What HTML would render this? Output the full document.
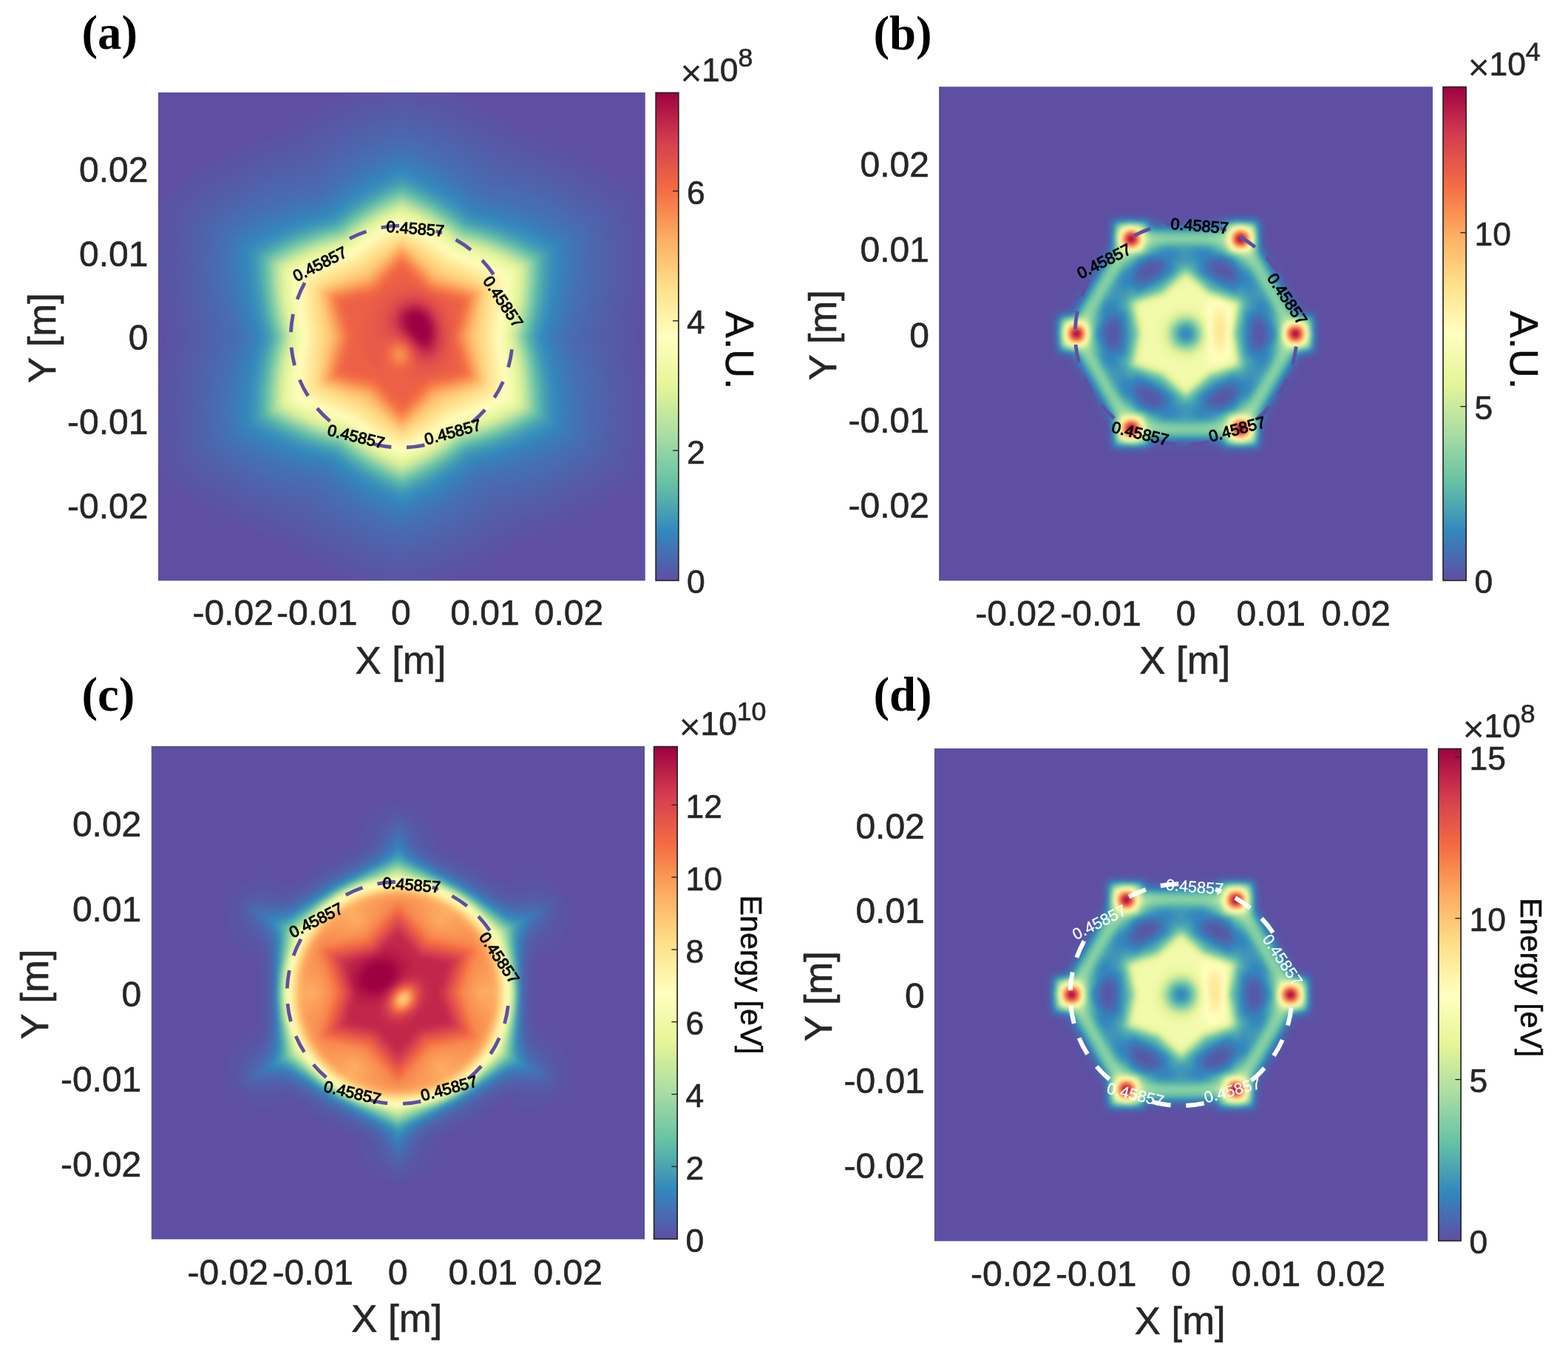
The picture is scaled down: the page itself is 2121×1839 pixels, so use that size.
<!DOCTYPE html>
<html lang="en"><head><meta charset="utf-8"><title>Figure</title>
<style>html,body{margin:0;padding:0;background:#fff}body{width:2121px;height:1839px;overflow:hidden}svg{display:block}</style>
</head><body>
<svg width="2121" height="1839" viewBox="0 0 2121 1839" role="img" aria-label="Four heat-map panels (a)-(d)">
<defs>
<filter id="cma" x="0" y="0" width="100%" height="100%" color-interpolation-filters="sRGB"><feGaussianBlur stdDeviation="4"/></filter>
<filter id="cmb" x="0" y="0" width="100%" height="100%" color-interpolation-filters="sRGB"><feGaussianBlur stdDeviation="2"/></filter>
<filter id="cmc" x="0" y="0" width="100%" height="100%" color-interpolation-filters="sRGB"><feGaussianBlur stdDeviation="3"/></filter>
<filter id="cmd" x="0" y="0" width="100%" height="100%" color-interpolation-filters="sRGB"><feGaussianBlur stdDeviation="2"/></filter>
<linearGradient id="cbg" x1="0" y1="0" x2="0" y2="1"><stop offset="0" stop-color="#9e0142"/><stop offset="0.1" stop-color="#d53e4f"/><stop offset="0.2" stop-color="#f46d43"/><stop offset="0.3" stop-color="#fdae61"/><stop offset="0.4" stop-color="#fee08b"/><stop offset="0.5" stop-color="#ffffbf"/><stop offset="0.6" stop-color="#e6f598"/><stop offset="0.7" stop-color="#abdda4"/><stop offset="0.8" stop-color="#66c2a5"/><stop offset="0.9" stop-color="#3288bd"/><stop offset="1" stop-color="#5e4fa2"/></linearGradient>
<clipPath id="cpa"><rect x="214.0" y="125.0" width="658.8" height="660.3"/></clipPath>
<clipPath id="cpb"><rect x="1270.5" y="117.2" width="667.5" height="668.1"/></clipPath>
<clipPath id="cpc"><rect x="204.8" y="1009.2" width="667.0" height="666.6"/></clipPath>
<clipPath id="cpd"><rect x="1264.3" y="1012.1" width="666.8" height="666.1"/></clipPath>
</defs>
<rect width="2121" height="1839" fill="#fff"/>
<g clip-path="url(#cpa)"><g filter="url(#cma)">
<rect x="202.0" y="113.0" width="682.8" height="684.3" fill="#5e4fa2"/>
<g transform="translate(214.0 125.0)"><path fill="#5b53a4" d="M383 663l-108 0 0-2-36-15-36-20-32-21-34-11-36-16-30-16-32-20-32-25-6-40-2 0 0-81 2 0 5-35 6-30-7-34-4-32-2 0 0-82 2 0 3-24 3-16 36-27 38-24 42-20 22-8 26-8 22-16 20-12 28-14 30-13 0-2 117 0 0 2 31 13 26 14 20 12 22 15 28 9 24 9 24 12 22 11 28 18 28 20 10 9 3 8 5 49 2 0 0 49-2 0-4 40-8 42 7 38 5 42 2 0 0 50-2 0-3 32-4 24-35 27-40 24-42 20-48 17-22 15-22 14-28 14-31 13z"/>
<path fill="#5856a5" d="M331 663l-5 0 0-2-41-12-40-16-33-18-33-22-36-12-28-12-31-16-31-20-32-25-5-33-2-36 0-28 3-28 4-28 5-24-9-48-3-42 1-46 6-43 16-13 22-16 22-14 22-12 35-16 39-13 38-25 35-18 35-14 34-10 0-2 21 0 0 2 33 10 31 12 39 20 38 25 34 11 29 12 30 16 29 18 24 18 11 10 5 34 2 34 0 26-2 28-4 25-6 31 8 44 4 46-2 48-3 26-3 14-20 16-20 14-22 14-22 12-37 16-35 11-37 25-39 20-37 14-35 10 0 2z"/>
<path fill="#565aa7" d="M331 647l-14-3-24-7-42-16-34-18-32-21-34-12-30-13-30-16-30-19-24-19-3-4-5-36-2-34 1-26 2-24 4-24 5-24-8-44-4-42 2-46 3-26 3-14 38-29 20-12 22-12 32-14 38-13 36-24 38-19 36-14 34-9 40 11 40 16 34 18 31 21 33 11 32 13 30 17 30 19 22 17 4 5 5 36 2 36-1 24-2 24-10 50 9 42 3 42-1 44-2 24-4 18-19 15-20 15-22 13-20 11-34 15-34 11-38 25-38 19-34 13z"/>
<path fill="#535da9" d="M331 635l-10-1-26-8-40-15-33-18-31-22-30-8-30-13-30-16-30-19-22-17-4-5-5-34-2-34 1-26 3-26 4-22 5-20-8-38-4-44 1-46 3-28 2-8 1-2 19-15 20-14 40-23 34-15 32-9 35-24 37-19 32-12 34-9 38 10 38 15 32 17 32 22 30 9 30 13 30 16 30 19 20 16 5 5 5 34 1 34 0 26-3 24-3 20-6 26 8 36 4 44-1 46-3 26-3 12-18 14-20 14-40 24-34 14-32 10-36 24-36 19-32 12z"/>
<path fill="#5061aa" d="M329 625l-38-11-34-14-30-17-30-22-36-9-32-14-38-22-36-27-3-18-3-24 0-24 0-22 5-36 4-18 5-16-7-24-4-20-3-22-1-24 2-34 5-34 0-2 22-17 30-20 32-17 28-10 30-7 30-23 34-19 32-13 36-10 34 9 34 14 34 19 32 23 30 7 28 11 30 16 30 19 22 18 1 2 5 34 1 34-1 24-2 22-4 20-7 24 5 17 4 17 3 18 2 20-1 44-2 24-3 18-18 14-19 14-38 22-32 13-34 8-36 26-19 11-19 9-30 11z"/>
<path fill="#4e64ac" d="M331 615l-8-1-20-6-30-11-18-10-18-10-18-13-16-14-30-6-28-9-28-14-28-18-25-20-4-30-2-32 1-24 3-22 6-22 8-22-12-38-5-34-1-20 1-20 5-42 33-25 32-19 18-8 18-7 18-4 20-4 28-22 30-18 32-14 36-11 30 8 28 11 17 9 17 10 36 28 30 6 28 9 26 13 28 18 26 20 4 32 2 30-1 24-3 22-5 20-9 26 7 18 5 16 3 18 2 18 1 20-1 20-5 42-32 25-34 20-18 8-18 6-18 5-18 3-30 23-30 18-32 14z"/>
<path fill="#4b68ae" d="M333 606l-4 0-24-7-18-7-18-8-30-19-30-24-32-6-26-8-24-11-26-15-28-22-5-26-1-28 1-24 4-24 6-22 9-24-13-40-6-34-1-18 0-20 3-24 3-14 30-23 28-16 18-8 18-6 42-8 27-23 29-18 32-15 32-10 32 9 32 15 28 18 30 24 30 6 26 7 26 12 26 15 20 15 7 6 1 2 3 26 2 26-1 24-3 22-6 22-10 28 7 18 6 18 6 34 1 18-1 20-2 22-3 18-29 22-28 17-18 8-20 6-18 4-22 4-28 23-28 18-30 14z"/>
<path fill="#486cb0" d="M333 597l-4 1-20-6-18-7-18-9-30-19-30-25-32-6-26-7-24-10-24-14-20-15-8-7-3-22-1-22 1-24 4-24 7-24 9-26-13-40-7-34-1-18 1-20 2-24 2-8 1-2 30-22 16-9 16-8 32-10 38-7 28-24 28-19 30-14 30-10 30 10 30 14 28 18 28 24 34 6 26 8 24 10 24 14 18 13 8 8 3 22 2 22-1 24-4 24-6 22-11 30 14 38 6 34 2 18-1 20-2 22-3 12-31 23-30 16-32 10-40 8-26 22-28 19-28 14z"/>
<path fill="#456fb1" d="M329 591l-30-10-28-15-26-17-28-24-30-5-28-8-26-11-24-14-22-16-3-18-1-24 1-24 4-24 7-24 9-26-14-42-6-32-1-34 1-20 3-13 28-21 30-15 34-11 38-8 28-23 26-18 28-14 30-11 28 10 28 14 28 18 28 24 42 8 30 10 30 16 28 20 2 2 1 8 2 22 0 18-1 18-7 32-14 42 10 26 7 24 4 24 1 24-1 24-3 18-23 17-24 14-24 9-26 8-33 6-29 24-28 19-28 14z"/>
<path fill="#4273b3" d="M335 583l-6 2-8-3-20-8-18-9-30-19-32-26-34-7-24-7-22-9-22-11-26-19-3-16-1-18 1-24 4-24 6-24 11-30-14-42-6-32-2-32 1-18 3-14 26-19 30-15 30-9 41-9 29-24 26-17 26-14 28-10 26 9 28 14 26 18 30 24 32 6 26 8 24 9 22 12 23 17 2 14 2 20-2 24-3 24-7 24-10 32 13 38 7 34 1 32-3 32-27 19-28 14-34 11-38 8-28 23-24 17-26 14z"/>
<path fill="#4076b5" d="M335 577l-6 2-6-2-18-7-20-10-30-20-32-26-32-6-26-8-22-8-20-11-16-10-9-8-3-28 1-24 4-24 7-26 10-30-13-42-6-30-3-32 3-30 23-17 30-15 32-10 40-9 28-23 26-18 26-13 26-10 26 9 26 14 28 19 26 21 36 8 24 8 24 9 22 12 20 15 2 30-1 22-3 24-6 22-11 36 12 36 7 34 2 32-2 30-8 7-16 11-28 14-32 10-42 10-26 21-26 18-24 13z"/>
<path fill="#3d7ab6" d="M329 573l-24-9-26-14-26-18-28-22-34-8-26-8-24-10-20-10-18-13-2-28 1-22 4-24 6-26 9-30-12-42-6-32-2-30 1-18 1-10 26-17 26-12 30-10 40-10 28-22 26-18 26-13 24-10 24 9 26 14 26 17 28 23 40 9 32 11 26 13 24 16 3 26-2 32-6 32-13 42 9 28 7 28 4 24 1 22-2 28-19 13-22 12-22 9-26 7-34 8-26 21-28 19-26 14z"/>
<path fill="#3a7db8" d="M333 567l-4 1-10-3-34-17-28-18-30-24-28-6-26-8-24-9-20-10-21-14-1-4-1-20 1-22 3-24 6-26 10-32-12-42-6-30-2-28 1-28 6-5 16-10 28-14 32-11 38-9 28-22 24-16 26-14 24-10 24 9 26 15 26 17 26 21 34 8 26 8 22 9 20 11 18 12 2 23-1 22-3 24-6 26-10 34 11 38 7 32 2 30-2 27-22 15-28 13-30 11-40 9-24 20-26 17-26 15z"/>
<path fill="#3881ba" d="M331 563l-2 1-18-7-28-15-26-17-28-22-28-7-26-8-24-9-20-11-14-8-5-5-2-20 1-22 4-24 6-30 9-28-12-42-5-30-3-28 2-26 19-13 28-14 34-12 36-9 28-21 24-16 24-13 24-11 24 10 26 15 26 17 24 19 30 8 30 9 24 10 18 10 16 11 1 22-1 22-3 24-6 26-9 32 10 36 7 34 2 28-1 26-22 15-26 12-34 12-36 9-24 19-26 18-26 14z"/>
<path fill="#3584bb" d="M331 559l-2 1-14-6-30-15-28-19-26-20-26-6-30-10-24-10-18-9-18-12-1-18 1-22 4-24 6-32 8-26-10-36-6-34-3-28 1-26 22-14 28-13 34-12 32-8 24-19 26-17 26-14 22-10 22 10 26 14 28 18 22 18 26 6 30 10 24 10 20 10 16 11 1 20-1 22-3 24-6 28-8 30 9 34 7 34 2 28-1 26-20 14-28 13-34 12-34 8-22 18-24 16-24 14z"/>
<path fill="#3288bd" d="M331 556l-2 0-16-7-30-16-26-17-24-19-28-7-26-8-24-10-20-10-16-11-1-16 1-22 3-26 7-30 7-26-9-32-6-36-3-28 1-26 20-13 30-14 34-12 30-7 22-18 24-16 24-13 26-12 22 9 26 15 24 15 25 20 27 7 26 8 24 10 22 11 15 10 1 18-1 22-4 26-6 28-7 28 9 32 6 34 3 28-1 26-7 5-14 9-28 13-34 12-30 7-24 19-24 16-26 14z"/>
<path fill="#358cbc" d="M333 552l-4 1-6-3-36-18-26-16-27-21-25-6-22-7-24-10-22-10-18-11-1-2-1-14 1-24 4-28 6-28 7-24-9-34-6-32-3-28 1-26 19-12 28-13 32-12 34-9 22-18 22-14 26-15 24-11 24 11 26 14 24 16 22 18 26 6 24 8 26 10 20 10 16 11 1 14-1 24-4 24-5 28-8 30 8 28 6 34 3 30 0 26-4 4-16 9-26 12-34 13-32 8-22 17-20 14-26 14z"/>
<path fill="#388fba" d="M331 549l-2 1-14-6-30-16-24-15-26-21-24-5-22-7-28-12-20-10-16-10-1-15 2-26 4-28 5-24 7-24-9-34-5-28-4-32 1-24 20-13 30-14 30-11 30-7 22-17 22-15 26-15 24-10 22 9 26 14 24 16 22 18 26 6 24 8 24 10 22 11 13 8 2 2 1 14-2 24-3 28-5 24-8 28 9 30 6 34 2 32 0 20-1 2-22 13-28 12-28 10-32 9-22 17-20 14-26 14z"/>
<path fill="#3c93b8" d="M333 546l-4 1-2-1-38-19-28-17-24-19-24-6-20-7-26-10-20-10-19-11-1-12 1-26 4-28 5-24 7-26-9-32-5-32-3-32 0-20 1-2 23-13 30-14 26-9 30-7 22-18 22-14 24-14 24-11 20 9 26 14 22 14 26 20 22 5 22 7 24 10 24 12 15 9 1 2 1 10-1 24-4 28-5 26-7 28 8 28 5 30 3 32 0 26-22 13-30 13-26 10-32 8-20 16-22 15-22 12z"/>
<path fill="#3f96b7" d="M331 544l-2 0-14-6-30-16-22-14-25-19-25-7-20-6-24-10-24-12-15-9 0-12 0-22 4-30 6-28 6-22-8-30-5-26-3-34 0-26 23-13 30-14 28-10 26-6 24-19 20-13 22-12 26-12 22 10 26 14 22 14 22 18 24 6 20 6 24 10 24 11 16 10 0 12-1 26-3 28-5 22-7 28 7 26 6 30 3 30 0 28-22 13-30 14-30 10-26 6-20 16-20 14-24 14z"/>
<path fill="#429ab6" d="M331 542l-2 0-14-6-30-16-24-16-22-17-22-5-24-8-24-10-20-10-16-9-1-2 0-10 1-24 3-28 6-28 6-22-8-30-4-24-4-32 0-28 3-3 18-10 30-14 28-10 28-7 22-17 20-13 22-13 26-12 22 10 26 14 24 16 18 15 26 7 20 6 24 10 24 12 14 9 0 10-1 26-3 28-5 22-7 28 7 26 6 30 3 30 0 26-2 2-18 11-30 14-28 10-29 7-21 17-22 14-22 13z"/>
<path fill="#469eb4" d="M331 540l-2 0-14-6-30-16-22-14-24-19-22-5-24-8-24-10-20-10-15-9 0-10 1-26 3-28 4-22 8-26-8-30-6-30-2-32 0-22 23-13 30-14 24-8 28-7 22-17 20-13 22-13 26-12 22 10 26 14 24 16 18 15 22 5 24 8 20 8 24 12 16 9 0 10-1 24-2 26-5 26-8 28 7 26 6 28 3 30 0 28-26 15-28 12-24 8-28 8-20 16-22 14-22 13z"/>
<path fill="#49a1b2" d="M331 538l-2 0-14-6-28-14-24-16-22-17-24-7-20-6-20-8-24-12-16-9-2-2 0-8 1-26 3-28 5-24 7-24-7-28-5-28-3-30-1-26 18-11 30-14 26-10 32-8 20-16 20-14 22-12 26-12 22 9 24 14 20 13 24 18 24 6 22 7 20 9 24 12 14 8 1 11-2 26-2 24-5 22-8 30 8 28 5 26 3 32 0 25-20 12-30 14-28 10-26 6-20 16-22 15-24 13z"/>
<path fill="#4ca5b1" d="M333 535l-4 2-2-1-36-18-26-16-24-19-20-5-20-6-20-8-22-10-22-13 0-8 1-26 3-26 5-26 7-24-9-32-4-24-3-30 0-26 22-13 28-12 28-10 26-7 20-16 20-13 24-14 24-10 20 8 26 14 22 15 20 16 26 7 20 6 20 8 20 10 19 11 0 8-1 24-3 28-4 24-8 28 8 26 5 26 3 32 0 26-23 13-26 12-26 10-30 7-18 15-20 14-22 12z"/>
<path fill="#4fa9b0" d="M329 535l-24-11-22-12-18-12-24-18-22-6-20-6-20-8-24-12-16-9-1-10 1-28 3-24 5-26 7-22-8-30-5-26-3-34 1-21 24-14 26-12 24-8 28-7 22-17 20-14 22-12 24-11 22 10 24 13 22 14 20 16 30 8 26 9 30 15 16 9 2 2-1 26-2 28-6 28-7 28 7 24 5 24 3 26 1 26-1 10-15 9-22 10-22 10-20 6-24 6-20 16-22 15-24 13z"/>
<path fill="#52acae" d="M331 533l-2 1-12-5-28-15-22-14-25-19-25-6-20-7-20-8-20-10-16-9-1-2-1-8 1-26 3-26 5-24 7-24-7-28-6-28-2-28 0-26 21-13 28-13 26-9 28-7 18-14 22-15 22-13 24-11 22 10 22 12 22 14 22 18 20 4 24 8 20 8 20 10 18 11 0 8-1 26-2 24-4 22-8 30 7 24 5 28 3 28 0 28-22 13-26 12-28 10-26 7-22 17-18 12-22 12z"/>
<path fill="#56b0ac" d="M333 531l-4 2-38-19-24-15-24-19-22-5-20-7-20-8-20-10-20-11 0-8 1-26 3-26 5-26 6-22-8-30-4-26-3-30 0-24 24-13 26-12 24-9 28-7 20-16 22-14 22-12 22-10 22 9 24 14 20 13 20 16 44 13 22 9 20 9 16 10 1 8-1 26-3 26-4 22-8 28 8 26 5 26 3 30 0 26-23 13-26 12-24 8-30 8-20 16-18 13-20 11z"/>
<path fill="#59b4ab" d="M329 531l-24-11-22-12-20-14-20-15-22-6-22-7-24-10-20-10-12-7-1-2 0-8 1-26 3-26 4-22 7-24-7-28-5-24-3-28 0-28 2-2 15-9 30-14 28-10 26-6 20-16 20-14 22-12 24-11 22 10 24 13 20 13 20 16 28 7 26 10 30 14 16 9 2 2-1 28-2 26-5 24-8 30 7 24 5 24 3 24 1 26 0 8-1 2-15 8-22 11-20 9-22 7-22 5-18 15-22 14-24 14z"/>
<path fill="#5cb7aa" d="M331 530l-2 0-14-6-26-14-22-14-24-18-22-6-20-6-20-8-20-10-18-11 0-8 1-26 3-24 5-26 6-22-8-30-4-24-2-26-1-28 22-13 26-12 24-8 28-7 22-17 20-14 22-12 22-10 22 10 22 12 22 15 20 15 22 6 20 6 24 10 20 10 14 8 1 9-1 26-3 24-4 22-8 28 8 26 4 24 3 28 1 28-21 12-28 13-26 9-26 7-20 16-18 12-22 12z"/>
<path fill="#60bba8" d="M333 527l-4 2-36-18-24-15-24-19-40-11-38-16-22-13-1-6 1-26 3-26 5-24 6-24-7-28-5-26-3-30 1-24 24-14 24-10 24-9 28-7 18-15 22-14 22-13 22-10 24 11 22 12 20 14 19 15 33 9 32 12 35 19 1 6-1 26-3 24-4 24-8 28 7 24 6 28 2 28 0 26-23 13-26 12-24 8-26 7-22 17-18 12-22 12z"/>
<path fill="#63bea6" d="M331 527l-2 1-12-6-28-14-22-14-22-18-20-4-22-8-38-16-19-11-1-2 0-6 1-26 3-24 4-24 7-24-8-30-4-24-2-26-1-26 2-2 16-9 28-14 28-9 26-7 20-16 18-12 22-12 24-11 22 9 22 12 20 14 20 15 24 7 20 6 38 17 17 10 1 2 1 6-1 26-3 24-4 22-8 28 8 26 5 26 2 30 0 23-20 12-26 12-26 9-28 8-20 16-20 13-22 12z"/>
<path fill="#66c2a5" d="M333 525l-4 2-34-17-26-16-24-19-20-4-20-7-36-15-22-13-1-7 1-26 3-24 4-22 7-26-7-28-5-24-2-28-1-26 23-13 26-12 24-9 26-6 20-16 20-13 22-12 22-10 22 9 22 12 22 15 18 15 20 5 20 6 20 8 20 9 18 11 1 1 1 6-1 26-3 26-5 22-7 26 7 24 5 26 3 26 0 28-19 12-28 13-24 8-28 8-18 14-18 12-20 12z"/>
<path fill="#6fc5a5" d="M333 524l-4 1-2-1-34-16-24-16-22-17-38-11-38-16-22-12-1-3 0-4 0-26 4-28 4-22 7-22-9-32-4-24-2-28 0-22 23-13 22-10 22-8 32-9 20-16 20-13 22-12 20-9 20 9 22 12 22 14 20 16 30 8 32 12 35 19 1 6-1 26-2 24-4 20-8 30 8 28 4 22 3 26 0 28-24 13-26 12-24 8-24 6-20 16-18 12-22 12z"/>
<path fill="#77c9a5" d="M329 523l-20-9-22-12-22-14-18-15-20-5-20-6-24-10-20-10-12-7-2-2 0-8 1-24 3-22 5-26 6-22-8-30-4-22-2-26-1-26 22-13 26-12 24-8 26-7 20-16 20-13 22-12 20-9 20 9 22 12 22 14 19 15 27 7 22 8 26 12 22 13 0 28-3 26-4 22-7 28 7 24 4 22 2 22 1 26 0 9-14 8-20 10-22 9-20 7-21 5-19 15-20 14-22 12z"/>
<path fill="#80cca5" d="M331 521l-2 1-14-6-26-14-20-13-22-17-22-6-18-5-20-9-18-8-18-11 0-8 1-24 2-24 5-22 7-24-8-28-4-24-3-26 0-26 24-13 22-10 26-9 24-6 22-18 18-11 20-11 22-10 22 9 22 12 20 14 18 14 22 6 20 6 20 8 20 10 15 9 0 8-1 24-3 26-4 20-7 26 7 24 5 28 3 26 0 24-19 11-26 12-26 9-26 7-20 16-18 12-22 12z"/>
<path fill="#88d0a4" d="M331 520l-2 0-10-4-28-14-22-15-21-16-39-11-20-8-20-10-16-9-1-2 0-6 1-24 3-26 4-22 7-22-8-28-4-26-3-30 0-18 1-1 20-12 26-12 22-8 28-7 18-15 18-12 22-12 22-10 20 9 22 12 20 13 20 16 20 4 18 6 20 8 20 10 16 9 2 2 0 6-1 24-3 24-3 20-8 28 7 26 5 26 3 30 0 18-1 2-23 13-24 10-22 8-26 7-20 15-18 12-20 12z"/>
<path fill="#91d3a4" d="M333 518l-4 1-34-17-24-15-22-17-38-11-36-15-20-11-1-2-1-6 1-24 3-24 5-24 6-22-8-28-4-24-2-26 0-24 21-13 24-11 24-8 26-7 18-14 20-13 20-12 22-10 20 9 22 12 18 12 22 17 20 5 18 5 18 8 20 9 18 11 0 6 0 24-3 24-4 22-7 26 7 24 4 24 3 26 0 26-18 11-26 12-26 10-24 6-20 15-18 12-20 11z"/>
<path fill="#9ad6a4" d="M331 517l-2 1-11-5-27-14-21-14-21-16-22-6-18-6-37-16-17-10 0-8 1-24 2-24 5-22 6-22-7-28-5-24-2-28 0-22 22-12 24-11 24-8 24-6 18-15 20-13 20-11 22-10 20 8 22 12 20 14 18 14 23 6 18 6 20 8 19 10 14 8 1 8-1 24-2 22-4 21-7 27 7 24 4 24 3 28 0 24-21 12-24 11-22 8-28 7-18 15-18 12-20 11z"/>
<path fill="#a2daa4" d="M331 516l-2 0-12-5-26-14-19-12-23-17-38-11-36-16-18-10-1-2 0-6 1-24 2-22 4-20 7-26-7-28-4-22-3-24 0-26 2-2 18-10 26-12 22-8 25-6 20-16 19-12 21-12 20-9 20 9 22 12 18 12 20 16 38 10 20 8 20 10 14 8 2 2 0 6-1 24-3 24-4 20-6 26 6 22 5 24 2 26 1 26-2 2-14 8-29 14-22 8-27 7-19 15-18 12-19 11z"/>
<path fill="#abdda4" d="M333 513l-4 2-33-16-25-16-20-16-36-10-20-8-17-8-19-11-2-1 0-6 1-26 3-24 4-19 7-23-8-30-4-20-2-26 0-24 20-12 27-12 18-6 28-8 18-14 18-12 21-12 21-9 18 7 22 12 18 12 22 17 21 5 19 6 35 16 17 10 0 6 0 22-3 24-3 19-8 29 8 26 4 22 2 24 0 26-20 12-26 12-24 8-22 5-19 15-17 12-18 10z"/>
<path fill="#b2e0a2" d="M329 513l-20-9-22-12-18-12-18-14-26-7-20-7-22-10-24-13 0-22 2-28 5-22 7-26-8-28-3-18-3-22 0-22 0-8 1-2 11-6 20-11 20-8 18-6 22-5 18-15 18-12 22-12 20-9 20 9 22 12 18 12 18 14 40 12 20 8 20 10 12 7 1 2 0 8-1 24-2 22-11 44 8 28 4 22 2 28-1 20-22 12-24 11-18 7-28 7-18 14-18 12-22 13z"/>
<path fill="#bae3a1" d="M331 511l-2 1-10-5-26-13-20-13-22-17-38-10-36-17-16-9-1-7 1-24 2-22 4-20 7-24-8-30-3-20-3-24 0-24 19-11 24-11 22-8 26-7 20-15 18-12 20-11 20-9 18 7 22 12 19 13 19 15 38 10 36 16 16 9 2 2 0 6-1 24-2 22-4 18-7 28 7 24 4 22 2 24 1 26-2 2-16 9-26 12-20 7-28 8-18 14-18 12-20 11z"/>
<path fill="#c1e6a0" d="M331 510l-2 0-12-5-26-14-20-13-18-14-40-12-34-15-17-10-1-8 1-24 3-22 4-19 6-23-7-30-4-20-2-26 0-22 21-12 22-10 18-6 30-9 18-14 18-12 20-11 20-9 20 9 20 11 18 11 20 16 40 11 36 17 14 8 0 8 0 22-3 22-10 46 7 26 3 20 3 26 0 24-21 12-23 10-20 7-26 7-18 14-18 12-20 12z"/>
<path fill="#c8e99e" d="M333 507l-4 2-32-16-23-14-21-17-38-10-29-13-22-12-1-2 0-4 1-24 2-22 4-20 7-24-8-30-3-18-3-24 0-24 16-10 26-12 22-8 26-7 18-14 18-12 19-11 21-9 18 7 22 12 18 12 18 14 34 10 25 10 30 16 2 2 0 4-1 24-2 22-11 46 7 26 4 22 3 28 0 18-1 2-22 12-22 10-46 14-16 13-16 11-18 10z"/>
<path fill="#d0ec9c" d="M329 507l-22-10-18-10-18-12-18-14-41-12-35-16-13-8 0-8 1-20 2-20 4-20 7-26-11-48-2-24 0-24 21-12 21-10 18-6 28-8 18-14 18-12 18-10 22-10 19 8 22 12 17 12 18 14 41 12 35 16 13 8 1 8-1 22-2 20-11 46 6 24 5 22 2 24 0 24-16 10-26 12-17 6-30 8-17 14-18 12-22 12z"/>
<path fill="#d7ef9b" d="M331 505l-2 1-11-5-23-12-22-14-18-15-44-13-30-14-14-8-1-8 1-22 2-20 10-44-8-34-3-18-2-28 0-14 1-2 18-10 21-10 17-6 32-9 16-13 18-12 17-10 23-10 19 8 19 10 18 12 20 16 42 12 31 14 14 8 1 2 0 6-1 20-2 20-11 48 8 29 4 21 2 28-1 16-17 10-22 10-23 8-25 7-19 15-15 10-18 10z"/>
<path fill="#dff29a" d="M331 503l-2 1-11-5-23-12-22-14-18-15-40-11-31-14-15-9-1-1-1-6 1-22 2-18 11-46-8-32-4-20-1-22 0-20 17-10 21-10 23-8 26-7 16-13 17-12 22-12 19-9 20 9 18 10 18 12 18 14 40 12 31 14 17 10 0 6-2 38-11 50 7 27 4 21 2 22 0 22-16 10-21 10-23 8-28 8-15 12-17 12-18 10z"/>
<path fill="#e6f598" d="M331 501l-2 1-11-5-23-12-19-12-20-16-41-12-15-6-16-8-14-8-1-8 3-36 3-18 8-30-12-52-1-20-1-20 2-2 10-6 25-12 22-8 28-8 18-14 18-12 18-10 19-9 20 9 18 10 18 12 18 14 40 12 15 6 16 8 14 8 1 2 0 6 0 20-2 17-11 49 7 27 4 23 2 26 0 14-1 2-21 12-18 8-46 14-18 14-14 10-18 10z"/>
<path fill="#e9f69d" d="M331 499l-2 1-11-5-23-12-18-12-20-16-41-12-27-12-17-10-1-6 1-20 2-16 11-48-12-54-1-20 0-18 17-10 17-8 23-8 28-8 16-13 16-11 18-10 22-10 19 8 19 10 16 11 20 15 39 12 28 12 17 10 0 6 0 20-2 16-11 50 7 27 4 23 2 18 0 22-17 10-17 8-52 17-16 13-18 12-18 10z"/>
<path fill="#ecf8a2" d="M329 497l-19-8-18-10-15-10-20-16-28-8-24-9-19-9-11-6-1-2 0-20 1-16 5-24 7-28-11-50-2-32 0-8 12-8 27-12 44-14 20-16 16-10 18-10 18-8 18 8 19 10 17 11 18 15 45 14 26 12 13 8 0 8-2 32-11 50 11 50 2 16 0 22-2 2-10 6-20 10-23 8-29 9-18 14-16 11-20 11z"/>
<path fill="#eff9a7" d="M333 494l-4 1-30-14-20-13-20-16-40-13-26-11-16-9-1-6 0-16 2-16 11-50-12-58-1-20 0-10 1-2 16-9 16-7 50-17 18-14 16-11 18-10 18-8 18 8 18 10 18 12 16 13 42 14 27 11 14 8 1 6-1 16-1 16-11 52 7 28 4 26 2 18-1 16-15 9-16 7-52 17-16 13-16 11-16 9z"/>
<path fill="#f2faac" d="M333 491l-4 1-30-14-18-11-22-17-40-13-28-12-12-7-1-7 1-14 2-18 10-48-11-56-2-18 1-14 14-8 16-8 50-16 18-15 16-10 18-10 18-8 18 7 18 10 16 11 18 14 42 14 28 12 11 7 1 6-3 30-10 52 11 52 1 18 0 16-13 8-16 7-52 18-18 14-14 10-18 10z"/>
<path fill="#f6fbb0" d="M331 490l-2 0-10-4-22-11-18-12-18-15-42-14-28-12-10-6-1-5 3-32 10-48-10-54-2-18-1-14 9-6 18-8 54-19 18-15 14-9 18-10 18-8 18 8 18 9 16 11 16 13 38 13 26 11 16 8 1 2 0 4-2 30-10 52 10 52 2 18 0 14-1 2-6 3-18 9-56 20-16 13-14 10-18 10z"/>
<path fill="#f9fcb5" d="M331 488l-2 0-10-4-22-11-16-11-20-16-56-20-20-10-2-1 0-2 2-32 10-50-11-58-1-18 0-10 30-14 48-17 20-16 14-9 16-9 18-8 16 7 18 9 16 11 18 15 32 10 30 12 17 9 0 4-3 32-9 50 10 54 2 18 0 12-11 6-18 8-50 18-16 13-16 11-16 9z"/>
<path fill="#fcfeba" d="M331 486l-2 0-8-3-22-11-18-12-18-15-50-18-20-9-8-5 3-34 8-48-9-52-2-32 10-6 19-8 49-18 16-13 16-11 16-9 18-8 16 7 18 10 14 9 19 15 59 22 18 9 1 3-3 32-8 50 8 48 3 34-9 6-19 8-49 18-34 25-16 8z"/>
<path fill="#ffffbf" d="M331 483l-2 1-8-3-22-12-16-10-20-16-54-20-20-10-2-2 4-36 7-44-8-48-3-34 2-2 21-10 53-20 32-24 16-9 18-8 16 7 16 9 16 10 18 14 54 21 20 9 3 3-3 34-8 48 8 52 2 22 0 8-31 14-45 17-17 13-15 10-16 9z"/>
<path fill="#fffbb8" d="M331 481l-2 1-7-3-21-11-17-11-19-15-54-21-20-9-1-3 3-36 7-42-8-52-2-24 0-6 31-14 44-17 16-13 16-11 16-9 16-7 16 7 15 8 15 10 20 15 52 21 22 10 0 2-3 34-7 46 7 44 3 36-35 16-39 15-32 23-16 9z"/>
<path fill="#fff7b2" d="M331 479l-2 1-6-3-20-10-18-11-20-16-44-17-29-14 3-36 7-42-7-48-3-32 35-16 38-15 19-15 15-10 15-8 15-6 15 6 15 8 16 10 18 14 53 22 19 9 1 1 1 2-4 36-6 42 6 42 3 36-28 14-45 18-30 22-14 8z"/>
<path fill="#fff3ac" d="M329 477l-15-6-15-8-14-10-18-14-44-18-28-14 4-40 5-36-6-40-3-38 29-14 43-18 16-13 16-10 14-8 16-7 14 6 16 8 15 10 19 15 38 15 33 16-3 38-6 40 5 36 4 40-28 14-43 18-34 24-16 9z"/>
<path fill="#fef0a5" d="M329 475l-14-6-15-8-33-24-38-16-29-14-2-2 3-40 5-34-5-36-3-40 31-16 38-16 32-23 16-9 14-6 14 6 15 8 15 10 18 14 39 16 31 16-3 38-5 38 5 34 3 40-2 2-29 14-39 16-18 14-15 10-15 8z"/>
<path fill="#feec9e" d="M333 471l-4 2-17-8-20-12-23-18-39-16-27-14-2-2 2-36 5-36-5-38-2-36 2-2 28-14 38-16 29-22 15-8 16-7 13 5 15 8 34 24 37 16 28 14 2 2-3 38-4 36 5 38 1 35-33 17-33 14-30 22z"/>
<path fill="#fee898" d="M331 470l-2 0-8-3-18-10-33-24-42-18-22-12-1-2 1-34 5-36-5-40-1-33 28-15 36-15 34-25 26-13 12 5 15 8 15 10 18 14 37 16 23 12 5 4-1 34-5 38 5 36 1 34-1 2-26 14-38 16-30 22-13 8z"/>
<path fill="#fee492" d="M329 468l-14-7-13-8-31-23-36-15-26-14-1-6 1-24 5-40-5-36-1-28 0-6 2-2 26-14 35-15 31-23 27-14 14 6 14 8 30 23 36 15 26 14 2 2 0 8-1 28-5 34 5 36 1 32-1 2-22 12-41 17-30 23-13 8z"/>
<path fill="#fee08b" d="M329 465l-26-15-30-23-32-13-29-15-1-2 1-26 5-40-4-36-2-32 2-2 22-12 38-16 30-23 26-15 25 14 31 23 39 17 22 12 2 2-2 32-4 36 5 38 1 28-1 2-27 14-35 15-31 23z"/>
<path fill="#feda86" d="M331 462l-2 1-21-14-33-24-60-27-1-3 3-36 3-28-4-34-2-34 61-28 26-19 28-19 28 18 27 20 28 12 31 15 2 1 0 2-6 66 4 28 2 38-33 16-28 12-27 20z"/>
<path fill="#fed480" d="M331 460l-2 1-8-6-44-33-56-24-5-3 7-64-7-66 61-27 52-38 12 7 42 31 60 27-7 66 7 64-8 5-52 22z"/>
<path fill="#fecd7b" d="M331 458l-2 1-10-7-40-33-54-21-7-3 0-2 9-62-8-56-1-8 1-2 60-24 50-39 11 7 41 32 52 21 7 3 1 2-9 64 8 50 1 14-60 24z"/>
<path fill="#fec776" d="M331 456l-2 1-10-8-39-34-45-15-16-7 3-20 9-42-9-44-3-20 18-8 43-14 34-30 15-12 13 10 37 32 44 15 17 7-12 64 12 62-17 8-44 14-32 28z"/>
<path fill="#fdc171" d="M329 455l-15-12-33-30-40-13-20-7 3-18 10-44-10-44-3-18 1-2 13-5 46-15 33-30 15-12 16 12 32 30 48 15 12 5 1 2-12 62 9 44 2 18-18 7-42 13-32 30z"/>
<path fill="#fdba6c" d="M329 453l-15-12-31-30-46-14-12-4-2-2 3-18 10-42-10-44-3-18 16-7 44-13 32-30 14-12 13 10 35 32 44 14 15 6-3 18-10 44 10 42 3 18-1 1-14 6-44 13-35 32z"/>
<path fill="#fdb466" d="M329 451l-46-42-40-12-18-6 2-16 11-44-14-60 1-2 10-4 49-14 45-42 13 10 33 32 50 15 9 3 1 2-14 60 11 44 2 16-19 7-40 11-33 32z"/>
<path fill="#fdae61" d="M329 450l-29-27-15-16-46-12-11-4-2-2 8-36 6-22-14-60 1-1 12-4 46-13 15-16 29-26 10 8 36 34 46 13 10 3 2 2-14 60 6 22 8 36-2 2-10 3-46 13-35 34z"/>
<path fill="#fca65d" d="M329 448l-25-23-19-20-24-5-33-11 7-34 7-24-7-26-7-32 0-2 9-3 30-9 18-4 17-18 27-25 25 23 19 19 24 6 34 11-6 30-8 30 7 22 7 36-34 11-24 6-19 19z"/>
<path fill="#fb9e5a" d="M329 446l-26-25-16-17-32-8-24-7-2-2 8-33 7-23-7-25-8-33 2-2 28-8 28-7 16-17 26-25 23 21 21 21 28 7 26 8 3 2-7 32-8 26 8 26 7 30-1 1-32 10-24 6-23 23z"/>
<path fill="#fa9656" d="M329 444l-22-21-20-21-24-5-32-10 8-34 7-22-9-31-6-27 32-9 24-6 20-21 22-21 23 21 19 20 24 6 24 7 9 3 0 2-7 30-8 26 8 25 7 31-31 10-26 5-19 21z"/>
<path fill="#f88e52" d="M329 442l-22-21-18-20-32-8-24-7 6-27 9-28-9-30-6-26 2-2 22-6 32-8 18-20 22-21 18 17 24 24 32 8 22 7 1 1-6 28-9 28 8 24 7 30-2 2-20 6-34 8-20 22zM330 357l0-2-1-4-2-1-3 1-1 2 1 4 3 2z"/>
<path fill="#f7854e" d="M329 440l-17-17-23-24-30-7-24-7 6-26 9-28-11-36-4-18 0-2 24-7 30-6 21-23 19-18 18 16 22 23 30 7 25 8-5 24-9 32 9 30 5 24-25 8-30 6-22 24zM330 361l3-4-1-6-5-4-4 1-3 5 1 5 4 4z"/>
<path fill="#f67d4a" d="M329 437l-15-14-23-26-37-8-15-4-3-2 16-52-16-54 19-6 36-8 21-24 17-16 14 12 26 27 36 9 16 5 2 1-15 54 15 52-2 2-16 4-36 8-26 28zM331 363l2-2 2-4-1-6-5-5-6 0-2 1-3 4 0 4 1 4 2 3 4 2z"/>
<path fill="#f57547" d="M329 435l-38-40-52-12 0-2 2-8 13-42-15-52 1-2 7-2 44-10 38-40 11 10 27 28 53 14 0 2-14 52 11 37 3 15-53 13-27 29zM332 365l4-6 0-4-1-5-2-3-4-3-4-1-4 2-3 2-2 4 0 6 1 4 4 4 4 1 4 0z"/>
<path fill="#f46d43" d="M331 431l-2 1-36-39-52-12 15-50-15-52 52-13 36-38 38 38 51 13-14 52 14 50-5 2-46 11zM328 369l5-2 4-4 1-4 0-6-5-8-4-2-6-1-4 2-3 3-2 4 0 6 2 6 3 3 4 3z"/>
<path fill="#f06744" d="M329 429l-36-38-48-11-1-1 15-48-15-50 49-12 36-38 37 36 47 12 3 2-14 50 13 48-2 2-48 11zM332 371l5-4 2-4 1-6-2-6-3-6-4-3-6-2-5 1-5 3-3 5-1 6 1 6 4 6 5 4 6 1z"/>
<path fill="#ec6146" d="M329 424l-9-11-25-25-30-8-16-3 5-16 8-30-13-48 14-3 32-9 26-26 8-10 13 14 23 20 47 14-4 14-8 34 8 34 4 12-49 13zM331 375l6-4 4-6 0-6-1-8-4-6-5-5-6-2-6 1-6 4-4 6-1 6 1 8 4 6 6 5 6 2z"/>
<path fill="#e85b48" d="M359 388l-6 1-10 0-5-2-2-2 6-14 1-12-4-12-4-5-4-3-6-2-6 0-6 2-4 4-3 4-3 8 0 8 2 10-2 3-8-3-8-8-7-10-5-14-1-14 1-12 4-14 5-10 8-10 11-9 12-7 14-6 12-1 8 2 14 10 14 5 12 6 7 8 2 4 3 14-4 24 3 20-1 6-2 8-4 6-9 8-9 4-12 3z"/>
<path fill="#e45649" d="M363 377l-8 0-6-4-7-24-4-6-5-4-6-4-8-1-6 1-10 3-4 1-3-4-2-4-1-10 0-10 3-10 4-8 5-8 6-6 8-5 10-5 12-2 12 1 20 9 10 10 8 14 4 22 0 16-3 14-5 10-6 7-8 5z"/>
<path fill="#e1504a" d="M371 369l-10 2-8-3-4-5-7-16-6-8-9-5-17-5-2-2-3-4-2-12 3-14 8-12 7-6 6-3 8-3 8-1 8 1 8 2 8 3 6 5 6 6 5 8 4 10 2 12 1 12-1 12-2 8-5 9-6 6z"/>
<path fill="#dd4a4c" d="M369 365l-8 1-8-4-11-17-5-6-6-5-14-7-5-6-2-6-1-6 3-12 6-10 11-8 14-3 8 0 8 2 8 4 6 5 8 12 3 8 3 12 1 12-1 10-2 8-5 8-5 5z"/>
<path fill="#d9444e" d="M369 361l-8 1-6-2-4-4-12-17-6-5-13-9-4-6-3-10 3-12 5-8 10-7 12-3 14 1 12 7 9 12 4 10 2 10 1 10-1 10-2 8-3 6-4 5z"/>
<path fill="#d53e4f" d="M369 358l-8 1-6-2-4-4-12-16-15-12-4-6-3-10 2-10 5-8 9-7 12-3 8 1 6 2 10 7 7 10 3 8 3 10 0 18-2 8-3 6-4 4z"/>
<path fill="#ce364d" d="M367 355l-8 0-6-3-14-17-13-12-4-6-2-8 2-10 5-8 8-5 12-2 12 2 9 7 7 10 5 16 0 18-2 6-3 6-4 4z"/>
<path fill="#c72f4c" d="M363 353l-6-1-6-5-22-24-5-8-1-8 2-8 4-6 8-5 6-2 6 0 10 3 8 6 8 12 3 16-1 16-2 6-3 4-5 3z"/>
<path fill="#c0274a" d="M367 349l-4 2-4-1-6-3-20-22-6-8-2-8 1-8 4-6 7-5 10-2 10 2 8 5 6 8 5 14 1 14-4 12-2 3z"/>
<path fill="#ba2048" d="M365 347l-6 1-6-4-18-19-5-8-3-8 1-6 3-6 6-5 8-2 10 1 8 5 7 9 4 12 1 14-3 10-3 4z"/>
<path fill="#b31847" d="M363 345l-6-1-6-4-14-15-5-8-2-8 0-6 4-6 5-4 8-2 10 3 7 5 5 8 4 12 0 12-4 10-2 2z"/>
<path fill="#ac1045" d="M365 342l-6 1-6-4-10-10-8-10-3-8 0-6 3-6 4-3 6-2 8 0 8 5 5 6 4 10 1 12-2 10z"/>
<path fill="#a50944" d="M363 340l-6-1-6-4-9-10-6-8-2-6 1-6 2-5 4-3 6-2 8 2 6 4 4 6 4 10 1 10-2 8z"/>
<path fill="#9e0142" d="M361 337l-4 0-6-4-8-9-5-7-2-6 1-4 2-5 4-3 6-1 6 1 6 5 4 6 3 9 0 8-3 7z"/></g>
</g></g>
<path d="M667.6 371.1A150.0 150.0 0 0 0 589.8 312.5M540.0 305.2A150.0 150.0 0 0 0 471.8 323.3M412.2 382.4A150.0 150.0 0 0 0 449.0 571.7M505.1 600.2A150.0 150.0 0 0 0 575.4 601.7M638.4 571.2A150.0 150.0 0 0 0 692.5 471.9" fill="none" stroke="#5e4fa2" stroke-width="4.8" stroke-dasharray="24.6 20.7"/>
<text transform="translate(561.8 308.9) rotate(4.5)" y="7.7" font-size="21.7" text-anchor="middle" font-family="'Liberation Sans',Arial,Helvetica,sans-serif" fill="#000" stroke="#000" stroke-width="1">0.45857</text>
<text transform="translate(432.5 356.8) rotate(-26.8)" y="7.7" font-size="21.7" text-anchor="middle" font-family="'Liberation Sans',Arial,Helvetica,sans-serif" fill="#000" stroke="#000" stroke-width="1">0.45857</text>
<text transform="translate(680.7 407.9) rotate(56)" y="7.7" font-size="21.7" text-anchor="middle" font-family="'Liberation Sans',Arial,Helvetica,sans-serif" fill="#000" stroke="#000" stroke-width="1">0.45857</text>
<text transform="translate(481.7 590.0) rotate(13.5)" y="7.7" font-size="21.7" text-anchor="middle" font-family="'Liberation Sans',Arial,Helvetica,sans-serif" fill="#000" stroke="#000" stroke-width="1">0.45857</text>
<text transform="translate(612.4 584.0) rotate(-15.2)" y="7.7" font-size="21.7" text-anchor="middle" font-family="'Liberation Sans',Arial,Helvetica,sans-serif" fill="#000" stroke="#000" stroke-width="1">0.45857</text>
<text x="315.13" y="844.90" font-size="48" text-anchor="middle" font-family="'Liberation Sans',Arial,Helvetica,sans-serif" fill="#262626" stroke="#262626" stroke-width="0.6">-0.02</text>
<text x="200.50" y="700.62" font-size="48" text-anchor="end" font-family="'Liberation Sans',Arial,Helvetica,sans-serif" fill="#262626" stroke="#262626" stroke-width="0.6">-0.02</text>
<text x="428.71" y="844.90" font-size="48" text-anchor="middle" font-family="'Liberation Sans',Arial,Helvetica,sans-serif" fill="#262626" stroke="#262626" stroke-width="0.6">-0.01</text>
<text x="200.50" y="587.04" font-size="48" text-anchor="end" font-family="'Liberation Sans',Arial,Helvetica,sans-serif" fill="#262626" stroke="#262626" stroke-width="0.6">-0.01</text>
<text x="542.30" y="844.90" font-size="48" text-anchor="middle" font-family="'Liberation Sans',Arial,Helvetica,sans-serif" fill="#262626" stroke="#262626" stroke-width="0.6">0</text>
<text x="200.50" y="473.45" font-size="48" text-anchor="end" font-family="'Liberation Sans',Arial,Helvetica,sans-serif" fill="#262626" stroke="#262626" stroke-width="0.6">0</text>
<text x="655.89" y="844.90" font-size="48" text-anchor="middle" font-family="'Liberation Sans',Arial,Helvetica,sans-serif" fill="#262626" stroke="#262626" stroke-width="0.6">0.01</text>
<text x="200.50" y="359.86" font-size="48" text-anchor="end" font-family="'Liberation Sans',Arial,Helvetica,sans-serif" fill="#262626" stroke="#262626" stroke-width="0.6">0.01</text>
<text x="769.47" y="844.90" font-size="48" text-anchor="middle" font-family="'Liberation Sans',Arial,Helvetica,sans-serif" fill="#262626" stroke="#262626" stroke-width="0.6">0.02</text>
<text x="200.50" y="246.28" font-size="48" text-anchor="end" font-family="'Liberation Sans',Arial,Helvetica,sans-serif" fill="#262626" stroke="#262626" stroke-width="0.6">0.02</text>
<text x="541.90" y="910.80" font-size="52.7" text-anchor="middle" font-family="'Liberation Sans',Arial,Helvetica,sans-serif" fill="#262626" stroke="#262626" stroke-width="0.6">X [m]</text>
<text x="0.00" y="0.00" font-size="52.7" text-anchor="middle" font-family="'Liberation Sans',Arial,Helvetica,sans-serif" fill="#262626" stroke="#262626" stroke-width="0.6" transform="translate(74.5 457.1) rotate(-90)">Y [m]</text>
<rect x="887.15" y="125.40" width="30.70" height="659.50" fill="url(#cbg)" stroke="#262626" stroke-width="1.7"/>
<text x="929.10" y="802.30" font-size="44.5" text-anchor="start" font-family="'Liberation Sans',Arial,Helvetica,sans-serif" fill="#262626" stroke="#262626" stroke-width="0.6">0</text>
<line x1="910.10" y1="609.25" x2="917.60" y2="609.25" stroke="#262626" stroke-width="1.4"/>
<text x="929.10" y="626.85" font-size="44.5" text-anchor="start" font-family="'Liberation Sans',Arial,Helvetica,sans-serif" fill="#262626" stroke="#262626" stroke-width="0.6">2</text>
<line x1="910.10" y1="433.80" x2="917.60" y2="433.80" stroke="#262626" stroke-width="1.4"/>
<text x="929.10" y="451.40" font-size="44.5" text-anchor="start" font-family="'Liberation Sans',Arial,Helvetica,sans-serif" fill="#262626" stroke="#262626" stroke-width="0.6">4</text>
<line x1="910.10" y1="258.34" x2="917.60" y2="258.34" stroke="#262626" stroke-width="1.4"/>
<text x="929.10" y="275.94" font-size="44.5" text-anchor="start" font-family="'Liberation Sans',Arial,Helvetica,sans-serif" fill="#262626" stroke="#262626" stroke-width="0.6">6</text>
<text x="920.20" y="109.50" font-size="44.5" font-family="'Liberation Sans',Arial,Helvetica,sans-serif" fill="#262626" stroke="#262626" stroke-width="0.6"><tspan font-size="50.5" dy="6.4" stroke-width="0">×</tspan><tspan dy="-6.4" dx="-0.6">10</tspan><tspan dy="-19.8" dx="-0.2" font-size="35.8">8</tspan></text>
<text x="0.00" y="0.00" font-size="54.3" text-anchor="middle" font-family="'Liberation Sans',Arial,Helvetica,sans-serif" fill="#0d0d0d" stroke="#0d0d0d" stroke-width="0.6" transform="translate(981.5 473.6) rotate(90)">A.U.</text>
<text x="110.50" y="66.30" font-size="64.8" text-anchor="start" font-family="'Liberation Serif','Times New Roman',Times,serif" fill="#000" font-weight="bold">(a)</text>
<g clip-path="url(#cpb)"><g filter="url(#cmb)">
<rect x="1258.5" y="105.2" width="691.5" height="692.1" fill="#5e4fa2"/>
<g transform="translate(1270.5 117.2)"><path fill="#5b53a4" d="M429 497l-22 1-20-1-6 0-8-4-6-1-64 0-8 1-10 4-30 1-22-1-6-5-2-5-2-26-2-6-38-66-12-18-14-3-5-5-1-8-1-22 1-20 1-8 5-5 15-3 5-8 44-76 2-8 2-26 2-4 3-2 5-2 28-1 22 1 14 5 68 0 6-1 10-4 26-1 24 1 4 2 3 2 2 6 3 28 36 64 14 23 4 2 12 3 4 4 2 6 0 18 0 26-1 6-3 5-4 2-12 3-4 4-48 84-3 28-1 4-4 5z"/>
<path fill="#5856a5" d="M415 495l-30-1-4-1-8-4-6-1-70 0-4 1-8 5-8 1-36 0-8-2-3-2-2-4-2-24-1-8-46-81-4-5-4-2-10-1-4-2-2-3-2-6 0-18 1-28 2-4 3-2 12-2 4-2 6-9 44-77 3-32 2-4 3-2 10-2 38 1 6 1 8 4 8 1 68 0 12-6 8-1 36 0 8 2 4 4 1 4 1 23 2 8 44 77 6 8 4 2 10 1 6 5 1 6 1 20-1 22-1 6-2 2-4 3-10 1-4 2-12 18-38 67-2 8-1 23-3 6-6 3z"/>
<path fill="#565aa7" d="M427 493l-20 1-20-1-6-2-6-4-6-1-72 0-4 1-10 6-20 1-26-1-4-2-2-2-2-8-2-24-2-7-46-79-4-4-14-3-4-3-2-8-1-20 1-18 2-8 4-3 14-3 4-3 46-80 3-9 1-26 2-4 2-2 8-2 26-1 16 1 10 6 4 1 72 0 6-1 6-4 4-2 24-1 22 1 6 4 2 6 1 26 3 8 46 79 4 4 14 2 4 4 2 7 0 24 0 16-2 5-4 4-15 3-5 6-46 80-3 34-5 5zM286 251l4-4-1-3-6 1-4 4-1 2 3 1zM389 251l-2-4-3-2-3-1-3 1 0 2 4 4 5 1zM237 339l1-6-1-4-2-1-2 1-1 6 1 4 2 2zM435 339l1-6-1-4-2-1-2 1-1 6 1 4 2 2zM290 423l-1-3-3-3-5-1-2 1 0 2 4 4 4 1zM384 423l5-4 0-2-2-1-5 1-4 4 0 2 1 1z"/>
<path fill="#535da9" d="M431 491l-20 2-24-1-6-2-6-5-6 0-74 0-4 1-8 5-20 2-24-1-6-2-2-3-1-6-1-22-2-8-47-82-6-4-13-2-4-4-1-6-1-22 1-16 1-6 4-4 13-2 6-4 45-78 3-10 2-28 2-4 3-2 10-1 30 0 10 1 6 5 4 1 74 0 6 0 6-5 6-2 24-1 18 1 4 1 3 4 2 6 1 24 2 7 47 81 5 4 14 3 3 3 2 8 0 20 0 16-2 6-3 3-14 3-5 4-45 77-4 11-2 28-2 4zM282 255l5-2 5-4 2-4-1-3-4-1-4 1-8 5-2 4 0 3 2 1zM391 255l2-2 0-2-5-6-9-4-5 2 0 4 5 5 6 3zM238 343l2-6 0-6-2-6-3-2-2 1-2 3-1 10 1 5 2 2 2 1zM436 343l2-6 0-6-2-6-3-2-2 1-2 3-1 10 1 5 2 2 2 1zM294 425l-1-4-6-6-8-2-4 1 1 5 7 6 6 2zM385 425l7-6 1-4-2-2-4 0-6 2-5 4-2 4 0 2 3 2z"/>
<path fill="#5061aa" d="M427 491l-18 1-20-1-6-1-8-6-6 0-74 0-4 1-8 6-20 1-24-1-4-1-3-3-1-6-2-26-2-7-46-79-4-4-14-2-5-4-1-6-1-20 1-18 1-6 5-3 14-3 4-4 46-79 2-7 2-28 1-4 3-3 6-1 12-1 24 1 8 1 6 5 8 2 74-1 4-1 8-6 18-1 24 1 6 2 2 2 2 6 1 26 3 8 46 79 4 3 14 3 4 3 2 6 1 22-1 16-2 6-4 3-14 3-4 3-44 76-5 11-2 30-3 4zM281 257l8-3 5-5 3-4-1-4-3-2-6 1-7 3-5 4-3 4 0 4 3 2zM393 257l2-2 0-4-6-7-10-5-4 0-3 2-1 2 1 4 6 6 9 4zM237 347l4-7 1-9-3-8-4-3-4 3-2 3-1 11 3 9 4 2zM435 347l4-7 1-9-3-8-4-3-3 1-3 4-1 6 0 6 3 9 2 2zM296 427l1-2-1-4-4-4-5-4-10-2-3 0-2 2 1 6 6 6 10 4 4 0zM384 427l7-4 3-4 2-4-1-2-2-2-6 0-6 2-6 4-4 6 1 4 3 2z"/>
<path fill="#4e64ac" d="M421 491l-16 1-18-2-4-1-6-5-6-1-76 0-4 0-6 6-4 1-18 1-24-1-4-1-2-2-2-6-1-26-3-9-46-79-6-3-12-2-4-4-2-5-1-20 1-18 2-5 4-4 12-1 6-4 46-79 3-9 2-28 3-6 6-2 12 0 26 0 6 2 6 6 8 1 74-1 4-1 8-6 18-1 24 0 4 1 3 3 2 6 1 24 2 8 24 42 24 40 6 4 12 2 4 4 2 12 0 24-1 8-3 5-4 2-12 2-6 5-46 81-2 7-1 22-1 7-4 4zM280 259l9-4 7-6 3-6-2-4-6-1-6 1-8 4-4 4-3 6 1 4 2 2zM394 259l3-2 1-4-3-5-5-5-7-4-6-1-6 1-2 2-1 2 2 4 5 6 10 5zM238 349l3-4 1-4 1-10-3-10-3-3-2 0-4 2-2 3-2 6 0 8 1 6 3 5 4 2zM435 349l4-4 1-4 1-12-4-9-2-1-4-1-3 3-2 4-1 6 0 8 1 6 3 4 4 1zM297 429l2-2 0-4-3-4-5-5-12-5-5 0-3 2-1 4 1 3 6 7 6 3 6 2 4 0zM383 429l8-4 5-6 2-6-3-4-6 0-8 3-8 5-4 6 0 4 2 2 6 1z"/>
<path fill="#4b68ae" d="M429 490l-18 1-22-1-6-2-6-5-8-1-74 0-5 1-5 5-4 2-12 1-28-1-7-3-2-6-1-26-4-10-45-78-6-4-13-2-4-4-1-6-1-18 1-16 1-6 4-4 13-2 6-4 45-77 4-11 1-26 3-7 8-2 28-1 12 2 7 6 5 1 76 0 6-1 6-5 4-2 24-1 18 2 4 2 2 2 1 6 1 25 2 7 47 80 5 4 14 2 3 4 2 6 0 20 0 14-1 6-4 4-14 2-5 4-45 77-4 10-2 29-2 4zM275 261l10-2 10-7 6-7 0-4-1-2-5-2-6 0-7 2-7 4-5 6-2 6 2 4zM393 261l5-2 1-4-1-6-5-5-7-5-7-2-6 0-5 2-1 2 0 4 6 8 10 6zM239 351l4-8 1-14-3-9-2-3-4-1-4 2-4 5-1 6-1 8 2 7 4 6 4 2zM435 351l4-4 2-4 1-6 0-8-2-6-2-4-3-2-4-1-4 3-2 4-2 8 1 8 1 6 4 6 2 1zM297 431l3-2 1-4-1-4-6-6-7-5-8-2-6-1-3 2-2 4 1 4 6 8 12 6zM381 431l9-4 6-6 3-8-2-5-6-1-8 2-10 6-5 6-1 6 2 3 6 2z"/>
<path fill="#486cb0" d="M427 489l-18 1-20 0-6-3-6-5-6-1-78 0-4 2-4 4-4 2-16 1-24 0-4-2-3-3-2-6-1-26-2-6-46-80-5-4-13-2-5-4-2-6-1-18 1-16 2-6 5-4 13-2 5-4 44-76 4-10 1-28 2-4 3-3 6-2 12 0 22 0 6 2 8 7 6 0 77 0 5-2 6-5 18-2 24 1 4 1 3 3 1 8 2 24 2 7 46 79 5 4 13 2 5 4 1 8 1 18-1 14-1 6-5 4-13 2-5 4-44 75-4 11-2 30-3 4zM282 261l9-4 9-8 3-6-1-4-2-2-7-2-8 1-9 5-6 6-3 8 0 4 2 2 6 1zM398 261l3-4-1-6-4-6-5-4-7-4-7-2-6 1-5 3-1 4 1 4 9 9 6 3 8 3 6 0zM239 353l3-4 2-6 1-14-2-8-2-4-2-2-4-1-5 3-4 6-2 8 0 8 3 8 4 5 4 2zM435 353l4-4 2-4 2-6 0-8-1-6-3-6-4-4-4-1-4 2-3 5-2 8 0 10 2 8 3 5 4 2zM300 431l3-4-1-4-3-5-6-5-8-5-8-2-6 0-3 3-1 4 2 6 7 8 7 4 6 2 6 0zM384 431l9-5 6-7 2-8-2-3-2-2-6 0-10 3-9 6-7 8 0 5 4 4 8 1z"/>
<path fill="#456fb1" d="M425 489l-18 1-18-1-5-2-7-6-6-1-78 0-4 2-8 6-16 2-24-1-4-1-3-3-1-8-2-24-2-8-46-79-4-3-14-3-5-3-1-6-1-18 1-16 1-6 5-3 14-3 4-3 46-79 2-8 2-28 1-4 3-3 6-1 12-1 22 1 6 2 7 6 7 1 78 0 4-2 4-4 4-2 16-2 24 1 4 2 2 2 2 6 1 26 3 9 45 77 4 4 15 3 4 3 2 6 1 20-1 14-2 6-4 3-14 3-4 3-44 75-4 8-1 4-2 30-3 4zM279 263l13-6 10-8 2-6 0-4-2-2-7-3-8 1-10 4-6 5-4 7-2 4 1 4 1 2 4 3zM398 263l4-4 0-6-3-6-6-6-8-5-8-2-8 1-5 4-1 4 2 4 8 9 14 7 6 1zM239 355l4-4 2-5 1-9 0-8-3-12-4-4-4 0-6 3-4 7-2 6 0 8 2 8 4 7 4 3zM434 355l5-4 4-6 1-6 0-8-1-7-4-7-4-3-4-1-4 1-3 5-2 8-1 10 1 8 3 7 4 3zM299 433l4-3 1-5-1-4-6-6-8-6-10-4-8-1-4 3-2 4 1 6 4 6 4 4 7 4 6 2 6 1zM382 433l11-6 6-6 3-6 0-4-3-5-6-2-10 3-11 6-7 8-2 6 4 5 6 2z"/>
<path fill="#4273b3" d="M421 489l-16 1-16-1-4-2-6-6-8-1-78 0-4 1-8 7-16 2-24-1-4-2-2-2-2-6-1-26-3-9-46-79-6-3-12-2-4-3-2-6-1-18 1-16 2-6 4-3 14-2 4-3 46-79 3-9 1-28 2-4 2-2 4-1 14-1 22 0 6 2 6 6 8 1 78 0 4-1 4-5 4-2 16-1 22 0 4 1 3 3 2 6 1 24 2 8 46 80 4 4 16 3 3 3 3 8 0 22-1 12-2 4-3 3-16 3-4 4-4 7-42 73-1 6-1 24-2 7-4 4zM275 265l14-5 12-9 4-4 1-4-2-6-5-3-10-1-10 4-8 5-6 9-1 8 3 4 2 1zM397 265l5-4 1-6-3-8-5-6-8-5-8-3-10 1-5 3-2 4 0 4 6 8 15 9 8 3zM242 355l2-4 3-8 0-16-2-8-2-4-4-3-4-1-6 4-4 6-3 8 0 10 3 8 6 8 6 2zM436 355l5-5 3-7 1-6 0-8-2-7-4-7-4-3-4-1-5 2-4 6-2 10 1 12 2 10 3 4 5 2zM302 433l3-4 0-6-4-6-6-5-10-6-10-3-6 1-4 3-1 4 1 6 4 6 6 6 8 4 6 2 6 0zM385 433l10-6 6-8 2-8-1-4-3-3-6-1-12 4-10 6-8 8-1 6 2 4 2 2 9 2z"/>
<path fill="#4076b5" d="M413 489l-24-1-4-1-6-7-9-1-77 0-4 1-6 6-6 2-20 1-14-1-5-1-2-2-2-4-2-28-1-6-40-70-6-10-4-4-4-2-12-2-4-3-1-5-1-16 2-22 4-4 12-2 4-2 8-10 42-74 1-6 2-28 2-4 2-2 15-2 22 1 6 1 8 7 4 1 54 0 30 0 3-2 5-5 6-2 20-1 18 2 3 2 2 4 1 28 2 7 40 70 9 13 5 2 12 2 4 4 2 20-2 22-4 4-16 4-5 4-45 79-2 7-1 26-2 6-5 3zM280 265l13-6 12-10 2-4 0-4-3-6-7-2-11 0-9 4-8 6-5 10-1 4 1 4 5 5 4 0zM400 265l4-4 0-6-3-8-7-8-7-4-10-3-10 1-5 4-2 6 2 4 10 10 9 5 8 3 6 1zM241 357l4-4 2-7 1-9 0-10-2-8-3-6-4-3-4 0-6 3-5 8-3 8 0 10 3 8 5 8 6 3zM436 357l5-5 4-7 1-6 0-8-1-7-4-7-4-5-6-2-6 2-3 5-2 10-1 12 2 9 3 7 5 3zM300 435l5-3 2-5-1-6-5-6-12-8-10-4-8-1-6 3-2 4 1 6 4 8 5 6 7 4 7 2zM381 435l13-6 8-10 2-6 0-4-2-4-3-3-8 0-12 5-10 6-7 8-2 6 4 6 7 3z"/>
<path fill="#3d7ab6" d="M427 488l-18 1-18-1-6-2-6-6-8-2-78 1-4 0-8 8-14 2-24-1-7-3-2-6-1-26-2-8-46-79-6-5-12-2-5-2-2-6-1-18 1-14 1-6 4-4 13-2 6-4 45-76 4-10 1-28 3-7 4-2 8 0 26 0 6 1 8 8 8 1 78-1 4-1 8-7 16-2 22 1 4 1 3 4 2 8 1 24 2 7 46 79 6 4 14 2 3 4 2 8 0 16-1 14-2 6-4 2-12 2-6 4-44 76-4 10-2 30-2 4zM277 267l16-7 13-11 2-4 0-4-3-7-8-2-10 0-12 5-6 5-6 11-1 4 0 4 3 4 4 2zM399 267l5-4 2-6-4-10-7-8-6-4-10-3-10 0-7 3-2 4-1 6 6 8 8 6 12 6 8 2zM239 359l6-4 2-5 2-9 0-12-2-10-2-6-4-3-6-1-6 3-6 9-3 8 0 8 3 10 6 9 4 3zM434 359l5-3 6-9 2-8 0-8-2-8-4-8-4-5-6-1-7 2-3 5-2 11 0 12 1 10 3 7 6 3zM303 435l4-4 1-4 0-4-4-6-7-6-10-6-12-4-6 0-6 4-1 4 1 6 4 8 6 7 5 3 9 3 8 1zM384 435l12-6 3-4 5-8 2-6-1-4-3-4-3-2-8 0-12 5-11 7-8 8-1 4 0 4 3 4 2 2 11 2z"/>
<path fill="#3a7db8" d="M427 487l-18 2-18-1-6-3-6-6-8-1-78 0-4 1-6 6-4 2-14 1-22 0-4-1-4-4-1-8-1-24-2-7-46-79-6-4-14-3-3-3-2-6-1-16 1-14 2-6 3-3 15-3 5-4 44-76 4-10 2-30 2-4 2-1 18-2 20 1 6 2 6 6 8 1 78 0 4-1 8-7 16-2 22 1 4 1 3 3 2 8 0 24 3 8 46 78 5 4 15 3 3 3 1 6 1 16-1 14-1 6-3 3-15 3-5 4-46 78-3 8-1 30-2 4zM280 267l16-8 11-10 3-4 0-4-1-4-3-4-9-2-12 1-12 5-6 6-6 12-1 4 2 4 3 4 4 2 4 0zM402 267l4-4 1-6-4-10-8-9-9-5-9-2-12 1-5 3-2 6 1 6 10 10 9 6 11 4 8 2zM243 359l3-4 3-9 1-13-1-12-4-10-6-3-6-1-6 6-6 10-2 8 0 8 4 10 6 9 6 3zM437 359l4-4 5-10 2-6 0-8-2-8-5-10-4-4-6-2-6 2-2 2-3 4-2 14 0 14 2 10 3 5 8 3 4-1zM301 437l6-3 3-7-1-6-5-6-13-9-14-6-8-1-6 4-2 4 0 6 4 8 6 8 5 4 9 3 6 1zM379 437l7-2 8-4 9-10 3-6 1-6-1-4-5-4-4-2-4 1-12 4-15 9-7 8-1 4 0 4 4 6 7 2z"/>
<path fill="#3881ba" d="M425 487l-16 1-18-1-6-2-6-7-8-1-78 1-5 1-6 6-3 2-14 1-22-1-4-1-3-3-2-8-1-24-2-8-45-78-6-4-13-2-5-4-2-6 0-16 0-14 2-6 5-4 14-2 5-4 45-78 2-8 2-28 1-4 3-3 16-2 20 1 6 1 8 8 8 1 78 0 5-2 7-7 16-2 22 1 4 1 3 3 1 10 1 22 3 9 45 77 5 4 14 3 4 3 2 8 1 16-1 14-2 5-4 3-14 2-5 4-43 74-4 8-1 4-2 30-2 4zM277 269l17-8 9-6 6-6 2-4 0-4-2-6-2-3-8-2-14 1-10 4-7 6-8 12-1 4 0 4 2 4 6 4 4 1zM401 269l7-6 1-4-3-8-9-13-9-5-9-3-14 0-6 3-2 6 0 6 2 4 3 4 11 8 12 6 10 3zM241 361l6-4 2-6 2-14-1-14-2-10-3-4-6-3-6 0-4 2-2 3-7 12-2 8 1 8 3 10 7 11 4 3zM437 361l4-4 6-12 2-6 0-8-2-8-6-11-4-5-4-2-8 3-5 5-3 12 0 16 2 12 4 6 8 3 4 0zM306 437l3-4 2-10-4-6-10-8-12-7-12-4-6 1-7 6-2 4 2 6 7 11 6 6 10 4 6 2 10 0zM383 437l10-4 4-3 10-15 2-4 0-4-3-4-5-4-4-1-4 0-12 5-16 10-8 8 0 8 2 6 2 2 8 1z"/>
<path fill="#3584bb" d="M423 487l-16 1-16-1-5-2-7-7-6-1-82 0-4 2-4 5-4 2-14 2-22-1-4-1-3-3-2-10 0-22-3-9-45-77-5-4-14-3-5-3-1-6-1-16 1-14 2-6 4-3 14-3 5-4 45-77 3-9 1-28 1-4 3-3 4-1 14-1 20 1 4 2 8 7 8 1 78 0 6-2 4-5 4-2 14-2 22 1 4 2 2 2 2 8 1 24 3 10 44 76 5 4 15 3 4 3 2 6 0 18-1 14-1 4-4 3-15 3-5 4-42 73-5 11-2 32-3 4zM273 271l8-3 11-5 16-12 3-4 1-4-1-10-2-3-6-1-16 1-12 4-6 5-11 16-2 6 3 4 6 4 4 2zM399 271l7-4 6-6-2-6-13-18-7-4-11-3-16-1-4 0-2 2-1 14 3 6 10 8 10 6 12 5zM234 365l10-4 4-4 3-10 0-14 0-12-3-10-5-4-10-4-4 2-8 15-3 7-1 8 2 8 8 17 4 5zM436 365l3-3 8-15 2-6 1-8-1-7-4-9-6-11-4-3-10 3-5 5-3 10-1 14 1 12 3 10 5 5zM307 439l3-2 1-2 1-12-4-6-10-8-14-8-13-4-6 2-8 6-1 4 2 4 9 14 6 6 14 5zM373 439l12-2 12-6 13-18 2-4-1-4-10-7-6-1-16 6-18 12-4 4-1 4 1 14 4 2z"/>
<path fill="#3288bd" d="M419 487l-14 1-14-1-4-2-8-8-6 0-82 0-4 1-4 5-4 3-14 2-22-1-4-2-2-2-2-10-1-24-3-8-44-76-5-4-15-3-4-3-2-6-1-16 1-14 2-6 4-3 14-2 6-5 44-76 3-10 1-28 2-4 2-2 4-1 12-1 20 0 6 2 5 6 3 2 8 1 80-1 4-1 4-6 4-2 14-1 22 1 6 3 2 8 1 26 3 8 44 76 4 4 16 3 3 3 2 6 1 18-1 12-1 6-4 3-12 2-6 3-12 18-36 64-2 6-1 26-1 5-4 4zM276 271l21-10 14-11 2-5 0-10 2-6-2-2-4-1-24 4-12 4-5 5-16 20-1 4 2 2 6 2 8 5 4 0zM402 271l7-4 6-2 1-4-19-25-5-3-11-4-22-3-5 1-1 2 1 6 0 10 2 4 4 4 11 8 14 8 10 3zM234 369l5-4 7-4 3-4 3-12 0-16-1-12-3-8-15-11-2 0-3 3-9 22-2 6 0 6 1 8 10 24 3 3zM438 369l11-26 2-10-2-8-9-24-3-3-2 0-6 5-8 5-3 3-2 12-1 16 2 13 3 7 15 11zM314 441l1-2-2-6 0-10-2-4-6-6-12-8-12-6-10-3-4 0-8 5-6 2-2 2 2 6 19 22 15 6 22 3zM364 441l17-2 15-6 20-24 0-4-1-2-6-2-8-4-6-1-14 5-16 10-7 6-3 4-1 12-1 6 1 2 3 1z"/>
<path fill="#358cbc" d="M415 487l-12 0-14-1-4-3-4-5-8-2-82 0-4 2-4 5-4 3-14 1-22-1-4-1-2-2-2-8-1-26-3-8-44-76-6-5-14-2-4-3-2-6 0-16 0-14 2-6 4-2 14-3 6-5 44-75 3-9 2-30 3-6 4-1 12-1 20 1 6 2 7 7 13 1 76 0 4-2 4-5 4-3 14-1 20 1 4 1 3 2 2 6 1 26 2 8 45 78 5 4 14 3 5 3 2 8 1 20-1 10-3 5-4 2-14 3-5 4-43 74-4 10-1 26-2 8-5 3zM273 273l20-9 18-13 3-4 1-11 4-7-2-4-4-1-6 0-8 3-14 2-11 4-6 4-9 12-9 8-2 4 0 4 1 3 2 1 6-1 10 5zM400 273l9-4 8 0 2-2 1-4-3-6-8-7-10-13-6-4-12-4-12-2-10-4-4 0-4 2-2 4 3 6 2 12 2 4 10 8 13 8 14 5zM236 373l3-6 9-6 2-4 2-12 1-14-2-14-2-8-10-8-3-6-3-1-4 1-4 6-2 10-6 16-1 8 1 7 6 15 3 12 5 5 2 0zM438 373l4-6 2-10 7-16 1-8-1-6-7-16-2-10-3-5-4-2-3 1-3 6-9 6-3 4-2 14 0 14 1 14 3 7 9 7 3 5 2 2zM336 335l-1-3-2 0-1 1 0 2 1 1zM317 443l2-4-4-6-1-10-1-4-7-6-11-8-12-6-12-4-4 0-8 4-8 0-2 2-1 4 2 6 9 8 12 14 14 6 14 2 10 4zM364 443l19-4 14-6 12-15 8-7 3-6-1-4-2-2-8 0-8-4-6 0-16 6-15 10-9 8-2 4 0 8-4 8 2 4 4 2 4 0z"/>
<path fill="#388fba" d="M411 487l-20-1-4-2-7-7-11-1-76 0-6 1-6 7-6 2-18 1-17-2-2-2-2-4-1-28-2-8-38-66-7-12-4-4-5-2-12-2-4-3-1-5-1-14 2-20 4-4 12-2 5-2 4-4 7-12 38-66 2-8 1-28 2-4 2-2 17-2 18 1 6 2 6 7 4 1 52 1 36-1 2-1 6-7 6-2 18-1 16 2 3 2 1 4 2 30 2 6 38 67 7 11 4 4 5 2 12 2 4 4 2 18-2 20-4 4-16 3-6 6-44 77-2 8-1 26-2 6-5 3zM276 273l19-9 17-13 3-4 1-10 6-8-1-4-6-3-8 0-8 4-14 2-12 5-4 2-10 13-8 6-4 5-1 8 1 3 2 2 8-2 12 4zM403 273l6-3 10 2 2-3 1-4-3-8-10-8-11-14-15-6-12-3-12-4-8 1-4 2-2 4 1 2 5 5 2 11 4 6 14 10 14 7 12 4zM236 377l2-2 3-8 8-6 2-4 2-12 1-12-1-14-3-10-1-2-8-6-3-8-3-2-6 2-5 6-2 12-6 16-1 8 1 6 6 16 2 12 5 6 4 2zM435 377l6-4 3-6 1-10 7-16 0-8 0-6-7-16-2-12-4-6-6-2-4 2-3 8-7 5-2 3-2 12-1 16 1 13 2 9 2 3 7 5 3 8 2 2zM337 337l1-4-1-2-4-1-3 1-1 4 2 3 4 0zM318 445l3-2 1-4-6-8-1-10-5-6-11-8-14-8-14-5-4 0-8 4-8-2-4 2-1 5 3 9 10 8 12 14 14 6 14 3 8 3 6 0zM364 445l7-3 12-2 15-7 11-13 10-9 3-6-1-7-4-2-8 2-8-4-6 0-18 8-17 11-6 6-3 12-6 8 2 4 4 3 6 1z"/>
<path fill="#3c93b8" d="M425 485l-16 2-18-1-5-3-5-6-4-2-8 0-78 0-5 2-7 8-12 2-22-1-7-3-2-8-1-26-3-8-45-78-6-4-12-2-5-2-2-6-1-16 1-14 2-6 5-2 12-2 6-4 44-76 4-10 1-26 1-6 2-3 4-2 10-1 22 1 6 3 6 7 10 1 80 0 4-2 5-6 3-2 14-2 20 1 4 1 3 4 2 12 1 20 2 8 44 76 6 5 14 3 4 2 2 6 1 16-1 14-2 6-4 2-12 2-6 4-44 74-4 12-2 30-2 4zM272 275l21-9 20-15 3-4 2-10 7-6 1-2-2-4-7-4-10 0-10 4-14 4-14 6-10 12-11 8-3 6-2 8 2 4 4 2 10-3 8 3zM401 275l8-3 10 3 4-3 1-5-1-6-4-6-10-8-10-12-6-3-12-5-11-2-9-4-11 0-5 2-2 2-1 4 0 2 7 6 3 10 4 6 11 8 14 8 14 6zM239 379l2-2 1-8 7-6 2-4 3-14 0-16-1-12-2-9-9-9-1-8-2-2-4-1-6 2-6 9-2 14-6 14-1 8 1 6 6 14 0 10 2 5 4 6 4 3 4 1zM437 379l4-4 4-6 2-14 5-14 1-8-1-6-5-14-2-14-6-8-4-3-4 0-4 3-1 6-2 4-5 4-3 4-2 14-1 18 3 18 3 4 7 6 1 8 4 3zM337 339l2-4 0-4-4-3-4 1-3 4 1 4 4 3zM318 447l6-4 2-4-1-2-7-6-3-12-12-10-16-10-16-6-4 0-8 3-10-3-4 2-2 6 4 10 4 5 8 5 12 14 14 5 12 3 8 4 6 1zM363 447l7-4 11-2 12-5 6-3 10-12 8-5 4-5 3-10-2-6-3-2-2 0-8 3-8-3-6 0-20 9-19 13-4 6-3 10-6 6-1 4 3 4 5 2 7 1z"/>
<path fill="#3f96b7" d="M425 485l-16 2-18-2-5-2-5-7-8-1-82 0-5 2-7 7-14 3-22-2-4-2-2-2-1-12-1-20-2-8-46-78-6-4-14-3-4-3-1-6-1-14 1-12 1-6 4-3 14-3 6-4 44-74 4-10 2-32 2-4 2-2 16-2 18 2 6 2 6 7 10 1 80 0 4-1 8-9 14-1 20 1 4 1 3 3 2 12 0 20 3 9 44 75 6 5 14 3 4 2 2 6 1 16-1 14-2 6-4 2-12 2-7 4-43 74-4 8-1 4 0 18-1 12-2 4zM251 277l8-4 8 3 6-1 14-5 14-8 11-9 4-4 3-11 10-7-1-6-2-2-5-2-8-2-6 1-12 5-10 2-15 6-11 13-10 6-6 11-2 6 2 6 4 3zM423 277l3-4 0-4-4-12-5-6-8-5-12-13-38-14-14 2-5 4-2 4 1 2 10 8 2 10 6 6 12 8 12 7 14 6 6 0 8-3 10 5zM239 383l4-4 1-10 6-6 2-4 2-14 1-14-3-22-2-4-6-6-2-12-5-2-4 0-4 3-7 11-2 4 0 10-5 14-1 8 1 6 5 14 0 10 3 7 8 9 4 2zM433 383l8-6 6-10 1-12 5-14 1-8-1-6-5-14-1-10-2-6-8-10-6-2-5 2-2 12-7 7-2 3-2 14 0 14 1 16 2 8 8 8 2 12 3 2zM333 341l6-2 2-4-2-5-4-3-6 2-2 4 2 6zM323 447l5-4 1-6-10-7-2-9-3-4-13-11-14-8-16-6-4 0-8 3-12-5-4 3-2 4 1 4 5 12 4 4 8 6 11 12 15 6 10 2 10 5 8 1zM365 447l6-3 12-3 16-7 10-12 8-5 4-5 5-11 0-4-1-4-2-2-4-1-10 5-10-3-6 1-20 9-18 13-4 6-2 8-2 2-6 4-2 2 0 4 2 4 8 3 10 1z"/>
<path fill="#429ab6" d="M423 485l-16 1-16-1-4-2-6-7-8-2-82 1-6 2-6 7-14 2-20-1-4-1-3-3-2-12 0-20-3-9-45-77-6-4-15-3-3-3-2-6 0-14 0-12 2-6 3-3 15-3 6-4 44-76 4-10 1-28 1-4 3-3 16-2 18 1 5 2 7 8 10 1 80-1 4-1 8-8 14-2 20 1 4 1 3 3 2 12 0 20 3 10 44 75 6 5 14 2 5 4 1 8 1 14-1 12-2 5-4 3-14 2-5 4-43 73-5 11 0 20-1 12-3 4zM363 449l10-5 10-3 15-6 11-12 9-6 5-6 4-10 2-12 8-6 4-4 4-6 3-8 1-10 4-14 1-6-1-8-4-14-1-10-3-8-4-6-4-4-8-6-2-12-6-13-4-4-8-5-11-12-37-14-13 0-15 5-6-3-7-2-15 0-10 5-26 9-10 11-10 7-4 6-5 10-1 12-12 10-4 6-4 8 0 10-5 14-1 8 1 6 5 14 0 10 3 6 5 8 11 10 3 14 6 12 4 4 8 5 10 11 38 14 13 0 7-2 6-3 14 5zM333 435l-12-5-2-3-1-6-2-4-11-9-12-7-22-10-4 0-8 2-4-1-9-7-2-12 1-4 6-6 2-4 3-22-1-14-2-14-2-4-6-6-1-2 2-14 11-8 4 0 6 2 4 0 10-4 14-7 11-7 10-8 5-13 12-5 10 3 4 3 2 8 3 4 10 8 11 8 13 6 11 4 4 0 6-2 4 1 10 7 2 14-1 2-6 6-1 4-3 14 0 14 3 24 7 8 1 4-2 12-8 6-4 2-8-2-4 0-22 9-12 8-11 9-3 4-2 8-4 3zM337 341l4-4 0-6-4-4-4-1-3 1-4 4 0 4 1 3 4 3z"/>
<path fill="#469eb4" d="M423 485l-16 1-16-1-4-2-6-8-10-1-80 0-6 2-6 8-14 2-20-1-4-1-3-3-2-12 0-22-3-7-45-77-5-4-14-2-5-4-1-6-1-14 1-12 1-6 5-3 14-3 5-4 45-76 3-10 1-28 1-4 3-3 16-2 18 1 5 2 7 8 12 1 78 0 6-3 6-7 14-2 20 1 4 1 2 3 2 12 1 22 3 8 44 76 6 4 14 3 4 3 2 6 1 14-1 14-2 5-4 2-14 3-6 4-42 72-5 12 0 20-2 12-2 4zM366 449l7-4 26-10 10-11 10-6 8-13 5-14 13-17 4-9 1-12 4-12 1-6-1-8-4-12-1-12-6-12-11-14-5-13-6-11-4-4-8-5-10-11-26-10-8-4-4-1-12 0-16 3-16-3-14 1-10 5-24 9-10 10-10 7-8 12-5 15-13 16-5 10 0 12-5 12 0 6 0 8 5 12 1 14 6 11 11 13 5 14 6 11 4 4 8 5 10 11 26 9 7 4 5 1 12 0 14-3 20 3zM339 431l-8 1-8-3-2-2-3-8-3-4-14-10-12-7-18-7-4-1-8 2-2-1-8-8-3-10 1-4 4-4 2-4 3-24 0-14-2-14-2-4-6-8 0-4 3-8 8-8 4-1 6 2 6-1 24-11 20-15 2-4 2-6 2-2 10-3 8 1 4 2 2 3 2 7 4 4 22 15 22 10 4 0 6-2 4 1 8 8 3 10-1 4-6 6-1 4-3 22 1 14 2 14 1 4 6 8 0 4-2 8-8 8-4 1-8-2-4 1-24 11-18 13-4 4-2 8-2 2zM339 341l3-6-1-6-6-4-6 2-4 6 2 6 2 2 4 2z"/>
<path fill="#49a1b2" d="M421 485l-16 1-14-2-4-2-6-7-10-1-80 0-6 2-6 7-4 2-10 1-20-1-4-1-3-3-2-12 0-22-3-8-44-76-6-4-14-3-4-3-2-6-1-14 1-12 2-6 4-3 15-3 5-4 44-76 3-8 1-30 1-4 3-2 16-3 18 1 4 2 8 8 14 2 76-1 6-2 6-8 14-2 20 1 4 2 2 2 2 12 0 22 3 8 45 76 5 4 15 3 4 3 2 6 0 16-1 12-1 4-4 3-15 3-5 4-36 60-11 22-1 22-1 12-3 4zM359 451l8-2 8-4 24-9 10-11 10-6 4-6 11-22 11-15 5-11 1-12 4-12 0-6 0-6-4-14-1-12-5-10-11-16-7-15-6-10-4-4-8-5-10-11-24-9-7-4-7-2-10 0-18 2-18-2-12 1-36 15-8 9-10 7-6 8-9 20-11 15-5 11-1 12-4 12-1 8 1 6 4 12 1 12 5 11 11 15 7 16 5 8 5 6 8 5 10 10 36 15 12 0 16-2zM341 429l-8 1-8-1-3-2-3-8-4-4-14-11-14-8-16-6-4-1-8 1-2 0-7-9-3-8 2-4 5-8 3-22 0-14-3-16-1-4-6-8 1-6 3-6 6-7 2 0 8 1 4-1 24-10 21-15 3-4 4-8 4-2 6-1 8 1 4 2 3 8 4 4 11 9 12 7 22 9 4 1 6-1 4 1 7 8 2 8-1 4-4 5-2 5-3 22 1 12 2 16 2 5 4 5 1 4-3 10-4 4-4 3-8-1-6 1-14 6-12 6-17 13-4 4-3 8zM337 343l5-4 1-4 0-4-3-4-3-2-6 0-4 2-2 4 0 6 4 5 4 1z"/>
<path fill="#4ca5b1" d="M419 485l-14 1-14-2-4-2-6-8-10-1-80 0-6 2-4 6-4 3-12 2-20-1-4-2-2-2-3-12 0-22-3-9-44-75-5-4-15-3-4-3-2-6-1-14 1-12 2-6 4-3 15-3 5-4 44-75 3-9 0-18 1-12 2-4 2-2 14-3 18 1 6 2 6 8 2 1 16 1 74 0 6-3 6-7 14-3 20 2 6 3 2 12 0 22 3 8 44 76 5 4 16 3 4 3 1 6 1 16-1 12-1 4-4 3-14 2-5 3-4 6-14 22-30 54-1 6 0 22-2 9-4 4zM364 451l35-15 10-10 10-6 6-9 9-18 13-20 4-10 0-10 4-12 1-8-1-6-4-12-1-12-3-8-13-20-7-15-6-9-4-4-8-5-10-10-36-15-12-1-18 2-18-2-12 1-36 16-8 8-10 7-7 9-8 18-11 15-6 13-1 12-4 12 0 8 0 6 4 12 1 12 6 13 11 15 11 22 4 5 10 7 10 10 36 14 12 1 16-2 18 2zM341 428l-8 1-8-2-2-2-3-6-5-5-16-12-10-6-18-7-12 0-2-1-6-7-2-8 6-13 3-23-1-12-2-17-6-13 4-10 3-4 3-2 12 0 24-10 22-16 8-12 8-2 6 1 4 1 8 12 14 11 10 6 22 9 10 0 4 1 5 7 3 8-6 12-3 24 0 12 2 16 7 14-3 8-3 5-4 3-8-1-6 2-14 5-12 6-18 14-3 4-3 6zM338 343l3-2 2-4 1-4-2-4-5-4-4-1-4 1-2 2-3 4 0 4 1 4 2 3 4 2 4 0z"/>
<path fill="#4fa9b0" d="M417 485l-12 1-14-2-4-3-4-6-2-1-10-1-80 0-6 2-4 6-4 3-12 1-20-1-4-1-2-2-2-14 0-20-4-10-43-74-5-4-16-3-4-3-2-6-1-14 1-12 2-6 4-3 16-3 5-4 43-74 4-10-1-18 2-12 3-6 4-1 10-1 18 0 6 3 6 7 2 1 20 2 70-1 6-2 6-8 14-2 18 0 4 1 3 3 2 4 1 8 0 22 2 8 45 76 5 4 14 3 5 3 2 6 1 16-1 10-2 6-3 2-12 3-6 2-5 5-7 12-36 64-2 6 0 20-2 13-4 4zM367 451l22-11 10-3 10-10 10-6 6-8 11-22 11-17 4-9 1-12 4-16 0-8-3-12-2-14-4-9-11-17-13-25-6-6-8-5-10-10-10-3-20-10-6-2-12 0-18 1-20-1-12 1-22 10-10 4-10 9-10 7-6 8-10 20-12 18-5 10-1 14-4 14 1 8 3 12 1 14 5 10 12 18 12 23 4 5 10 7 10 9 10 4 20 9 6 2 10 0 20-1 20 1zM339 427l-8 1-6-2-8-11-14-11-10-7-20-8-6-1-6 0-4-2-5-7-2-6 5-12 4-26-4-28-5-12 3-8 3-4 3-2 14-2 24-10 20-16 8-11 8-2 6 1 4 2 4 6 4 5 22 16 22 9 14 2 6 6 3 8-6 12-3 26 3 26 6 14-3 8-6 6-14 2-26 11-18 14-4 5-4 6zM340 343l4-6 0-4-1-4-6-5-4-1-5 2-4 4-1 4 2 7 6 4 4 1z"/>
<path fill="#52acae" d="M413 485l-20-1-4-1-8-9-18-2-72 1-6 1-6 8-4 2-18 1-15-2-3-3-1-5-1-27-2-7-31-56-16-24-5-3-14-3-4-3-1-5-1-12 2-18 4-4 14-3 5-3 18-28 29-52 2-6 1-28 0-4 3-3 4-2 12-1 18 1 5 3 5 7 6 1 60 1 28-1 4-2 6-7 6-2 16-1 14 2 3 2 2 6 1 28 1 6 34 60 13 20 4 2 14 3 5 3 2 6 1 10-2 20-4 4-17 4-7 8-43 74-1 6 0 20-2 12-4 4zM369 451l20-10 11-4 9-9 10-7 6-8 11-20 11-17 5-13 1-12 4-14-1-8-3-12-1-14-5-11-11-17-13-23-6-7-8-5-10-9-10-4-20-10-6-1-12-1-18 1-20-1-14 2-20 10-11 4-9 8-10 7-8 11-9 18-11 17-6 13-1 12-3 14 0 8 3 12 2 14 5 12 11 16 13 24 4 5 10 7 9 8 11 4 20 10 6 1 10 1 20-1 20 1zM341 425l-6 2-8-1-10-12-20-15-22-10-16-3-5-5-3-8 5-14 4-24-4-26-5-14 3-8 5-5 14-2 24-10 20-16 9-11 7-2 8 2 10 12 20 15 22 9 16 3 5 5 2 8-5 14-3 24 3 26 5 14-2 8-5 5-16 3-24 10-20 16zM337 345l4-2 3-4 1-4 0-4-2-4-4-3-4-1-4 0-4 2-3 4-2 4 1 4 2 4 4 3z"/>
<path fill="#56b0ac" d="M411 485l-20-2-3-2-5-7-4-1-18-1-70 0-6 2-5 7-5 3-16 1-17-2-3-3-1-5-1-28-1-6-32-56-15-24-6-3-14-3-4-4-2-16 2-18 4-4 14-3 6-3 13-20 34-60 1-6 1-28 1-5 4-3 14-2 16 1 6 2 5 7 3 2 36 1 54 0 6-2 5-7 5-3 16-1 16 2 3 2 2 6 0 28 2 6 32 58 15 22 6 3 14 3 4 4 2 16-2 18-4 4-18 4-6 6-43 76-2 6 1 20-2 12-2 3-4 2zM362 453l8-2 19-10 11-4 19-15 8-11 10-18 12-20 4-10 1-12 3-16-4-30-6-14-11-16-13-24-6-7-8-5-9-8-11-4-19-10-7-2-12 0-18 1-20-1-12 1-23 11-11 4-8 7-10 7-9 12-8 16-13 21-4 11-5 30 4 16 1 12 4 11 12 19 13 24 5 6 10 7 8 7 12 4 18 10 6 2 10 0 20-1zM339 425l-6 1-6-2-10-11-21-16-25-10-12-2-5-6-2-6 5-14 3-24-3-26-5-14 3-8 4-4 12-2 26-10 20-16 10-11 6-2 8 2 10 11 20 16 26 10 12 2 5 6 1 6-4 13-4 25 4 28 4 12-1 6-5 6-17 4-23 10-18 14-9 10zM338 345l4-2 2-4 1-6-1-4-3-4-3-2-5-1-4 1-4 3-2 3-1 4 1 6 2 3 4 3 4 1z"/>
<path fill="#59b4ab" d="M423 483l-14 2-16-1-5-3-4-6-3-2-20-2-72 1-4 1-6 8-2 2-10 2-18-1-6-1-3-2-2-4-1-8 0-24-3-8-28-50-15-24-6-5-14-3-5-2-2-6-1-14 1-12 2-6 5-2 14-3 6-5 42-72 4-10 1-26 1-8 2-3 4-2 10-1 18 1 6 3 4 6 4 3 18 1 72-1 6-2 5-7 3-2 12-2 20 2 4 2 1 2 2 12 0 22 3 8 27 48 16 26 7 5 14 3 4 2 2 6 1 14-1 12-2 6-4 2-14 3-6 5-41 68-6 14 0 20-1 12-2 4zM365 453l7-2 17-9 12-5 18-14 9-12 8-16 13-21 5-11 3-28-3-30-7-14-23-40-7-8-16-12-12-4-17-10-9-2-50-1-14 2-21 11-12 4-17 14-10 13-9 17-11 18-5 12-4 30 4 28 5 12 25 42 5 7 17 13 13 5 16 9 8 2 50 1zM335 425l-4 0-4-2-9-10-21-16-25-10-13-3-4-5-2-6 4-12 4-26-4-28-4-12 2-6 4-5 14-3 25-10 20-16 9-10 6-2 4 0 4 2 9 10 20 16 25 10 14 3 4 5 1 6-3 12-4 26 3 26 4 14-1 6-3 4-3 2-11 2-26 10-20 16-9 10zM340 345l5-6 1-6-1-4-3-4-5-3-4 0-5 1-5 4-1 4-1 4 2 5 4 5 4 1 4 0z"/>
<path fill="#5cb7aa" d="M423 483l-14 2-16-2-5-2-3-6-4-3-12-1-80 1-4 1-8 9-12 3-20-2-4-2-2-2-2-12 1-22-3-8-29-50-15-24-6-5-14-3-4-2-3-6-1-14 1-12 3-6 4-2 14-3 7-5 42-72 4-10-1-18 1-12 1-4 4-4 14-2 16 1 6 3 4 6 4 3 16 1 74 0 6-2 6-8 2-2 12-2 18 1 4 2 3 3 2 14 0 20 3 9 29 51 14 22 7 5 14 3 4 2 2 6 1 14-1 12-2 6-4 2-14 3-7 5-40 68-6 14 0 20-1 12-2 4zM368 453l6-2 15-9 13-5 17-13 10-14 9-17 11-18 5-12 4-28-4-30-5-12-24-42-8-9-15-11-13-5-16-9-8-3-50 0-16 1-6 3-16 9-11 4-17 13-10 13-9 18-12 18-5 14-3 28 3 28 6 13 24 41 6 7 17 13 13 5 15 9 9 3 50 1zM339 423l-4 1-6-1-11-10-19-16-26-10-12-3-4-3-3-6 5-22 3-18-3-20-5-20 1-6 6-5 13-3 25-10 19-16 9-9 6-2 4 0 4 2 8 9 19 16 26 10 13 3 4 3 3 6-5 20-3 20 3 22 5 18-2 6-5 5-13 3-25 10-20 16zM335 347l4-1 4-3 3-4 0-6 0-4-3-4-4-3-6-1-4 1-5 3-2 4-1 6 1 4 3 5 4 2z"/>
<path fill="#60bba8" d="M421 483l-14 2-14-2-4-2-4-6-4-3-14-1-78 0-4 2-8 9-12 2-18 0-4-2-3-3-3-14 1-20-4-10-28-50-14-22-5-4-18-5-3-3-2-6-1-12 3-16 1-2 4-2 14-3 7-5 40-68 4-8 2-6-1-18 1-12 2-4 3-3 14-2 16 1 6 2 4 7 4 2 18 2 72-1 6-2 6-8 2-1 12-2 18 1 4 1 3 3 2 14 0 20 3 9 29 51 14 22 4 4 3 2 14 2 4 3 2 7 1 12-1 12-2 5-4 3-14 3-3 1-4 4-36 60-10 20 0 22-1 12-2 4zM354 455l17-2 10-5 8-6 12-4 16-12 8-9 24-41 6-13 3-28-3-28-6-15-24-41-8-9-14-11-14-5-14-9-10-3-50-1-16 2-8 3-14 9-12 4-16 12-10 14-20 34-6 14-3 28 2 28 7 16 23 40 7 8 16 12 14 6 13 8 9 3 12 1zM337 423l-4 1-4-1-12-12-20-16-22-8-14-4-4-3-2-5 8-40-4-23-4-17 1-6 5-4 14-4 22-8 20-16 10-10 6-3 6 2 14 13 16 13 40 14 3 5 1 4-4 15-4 23 4 25 4 15-2 6-4 4-14 4-24 9-18 15-10 10zM337 347l5-2 3-4 2-4 0-6-2-4-4-4-4-2-6 0-5 2-4 4-1 4 0 6 2 5 4 4 6 2z"/>
<path fill="#63bea6" d="M421 483l-14 1-14-1-4-2-4-6-4-3-16-2-76 1-5 2-7 9-12 2-18-1-4-1-3-3-2-14 0-20-3-10-29-50-14-22-5-5-16-3-5-4-2-6 0-12 0-10 2-6 5-4 16-3 5-5 14-22 28-48 4-12 0-18 1-12 1-4 3-3 14-2 16 1 5 2 5 7 4 3 20 1 50 0 22-1 5-2 4-6 3-3 12-2 18 1 4 1 3 3 2 14-1 20 4 10 27 48 15 24 6 5 16 4 4 2 2 7 1 12-1 12-2 5-4 3-14 2-6 4-11 16-25 44-11 22 0 22-2 12-2 4zM362 455l13-3 14-9 14-6 16-12 9-12 21-36 6-14 3-30-3-28-6-14-23-40-9-10-14-10-14-6-14-9-10-3-12 0-40 0-16 2-8 3-12 8-13 5-15 11-9 11-21 36-7 18-3 22 0 10 3 24 6 14 24 40 7 9 15 11 13 5 14 9 10 3 14 2zM335 423l-4 0-4-3-28-25-40-14-3-4-1-4 8-38 0-6-8-34 2-6 4-3 38-13 28-25 6-3 6 2 30 26 38 13 4 3 1 6-7 38 2 17 5 23-1 6-6 4-36 12-28 25zM339 347l4-3 4-5 0-6 0-4-4-5-4-3-4-1-6 1-4 2-4 5-1 5 1 6 2 4 5 4 5 1z"/>
<path fill="#66c2a5" d="M419 483l-14 1-12-1-4-3-4-6-4-3-16-1-52 0-24 1-6 2-6 9-12 2-18-1-4-1-3-3-2-14 0-22-4-10-26-46-15-24-6-5-16-4-5-3-1-6-1-12 1-12 2-5 4-2 14-3 4-2 4-4 13-20 26-46 6-14 0-28 2-8 3-3 14-2 16 1 5 2 5 8 4 2 24 2 68-2 5-2 4-6 3-3 10-2 10 0 10 1 4 2 2 2 3 14-1 20 3 10 26 46 17 26 6 5 16 4 4 3 2 6 1 12-1 12-2 4-4 3-14 3-7 4-10 16-24 40-10 18-3 8 1 22-2 12-3 5zM366 455l11-3 12-9 15-6 15-11 11-15 20-34 6-16 3-28-3-28-6-14-24-40-9-11-13-9-15-6-12-8-12-4-12-1-38 0-18 2-8 3-12 9-13 5-15 11-10 13-20 34-6 12-2 10-2 26 3 26 6 14 24 42 9 9 12 9 14 5 14 10 10 3 16 1 36 0zM337 422l-4 1-4-2-30-26-38-13-3-3-2-6 8-38-1-8-7-32 2-6 5-4 36-12 28-25 6-2 6 1 29 26 39 13 3 3 2 6-8 38 1 9 7 31-2 6-5 4-37 12zM340 347l5-4 2-4 1-6-2-6-3-4-6-3-6 0-4 1-4 3-3 5-1 6 2 6 3 4 5 3 6 0z"/>
<path fill="#6fc5a5" d="M419 483l-12 1-12-1-5-2-5-8-4-2-22-2-46 0-24 1-6 3-6 8-12 3-18-1-4-2-2-2-3-14 1-22-5-12-26-46-14-22-7-5-16-4-4-3-2-6-1-12 1-12 2-4 4-3 15-3 4-2 4-4 14-22 24-42 7-16-1-26 2-8 3-4 14-3 14 1 6 2 6 8 4 3 28 1 42 0 22-1 6-3 6-8 10-3 18 1 4 1 4 3 2 14 0 22 5 12 26 46 14 22 7 6 16 3 4 3 2 6 0 12 0 10-2 6-4 3-15 3-6 4-10 14-22 38-15 28 0 6 0 18-1 12-3 4zM370 455l9-3 11-9 12-4 13-8 8-8 9-14 20-34 5-14 2-28-1-22-1-6-7-16-24-40-9-10-12-8-15-6-13-9-12-4-12-1-40 0-18 3-8 3-10 8-15 6-13 9-11 15-20 34-6 12-2 10-1 26 1 20 1 6 7 16 22 38 9 11 13 9 16 6 13 10 10 3 12 1 38 0zM337 421l-4 1-4-2-26-23-6-4-36-12-4-4 0-4 8-38-8-38 0-6 2-2 4-3 36-12 28-25 6-3 6 2 28 25 38 13 4 3 2 6-7 38 1 12 6 26-1 6-5 5-38 13zM336 349l6-2 4-4 2-6 0-6-2-6-5-4-4-2-6 0-6 3-4 4-2 5 0 6 2 5 4 4 6 3z"/>
<path fill="#77c9a5" d="M415 483l-10 1-10-2-4-1-6-9-4-2-24-2-44 0-24 1-6 3-7 9-11 2-18-1-4-1-2-2-3-14 1-22-5-14-24-42-15-24-8-6-16-3-4-3-2-6-1-12 1-10 2-6 4-3 16-3 6-4 15-22 22-38 9-20 0-28 1-8 3-4 14-2 14 0 6 3 6 8 4 3 28 1 42 0 22-1 6-3 6-9 10-2 18 0 4 2 3 2 2 4 1 10-1 22 6 14 26 46 15 22 5 4 15 3 5 3 2 6 1 14-1 10-2 4-3 2-14 3-6 3-6 6-11 18-22 38-9 18-1 6 1 20-2 13-4 4zM365 457l14-4 12-10 12-4 11-6 9-8 8-12 21-36 6-16 1-30 0-18-1-8-8-18-20-34-8-10-9-8-10-6-12-4-12-10-10-3-16-2-40 0-18 3-8 3-10 9-12 4-16 10-11 14-20 34-6 12-3 12-1 44 2 8 7 16 19 34 9 12 9 8 10 6 13 4 12 10 10 3 18 2 36 0zM337 420l-4 1-4-2-30-26-38-13-3-3 0-4 7-38 0-6-7-32 0-6 5-4 37-12 27-25 6-3 6 2 28 25 38 13 4 4 1 4-7 38 0 6 7 32-1 6-2 3-4 2-35 11zM340 349l5-4 3-4 1-6 0-6-4-6-4-3-6-2-6 1-6 3-4 5-1 6 0 6 4 6 5 4 6 1z"/>
<path fill="#80cca5" d="M411 483l-12 0-7-2-2-2-5-8-6-3-28-2-36 0-24 2-8 3-5 8-5 3-14 1-15-2-3-3-2-7 0-10 1-16-1-6-9-20-20-34-11-18-7-8-7-3-14-3-4-3-2-15 0-10 2-6 4-4 18-4 7-6 14-22 26-46 4-12-1-18 1-12 1-5 4-3 14-2 14 1 5 3 5 8 8 3 22 2 34 0 24-1 10-2 4-2 6-9 6-2 14-1 12 2 4 4 1 8 1 10-2 14 1 6 10 20 18 32 14 22 6 6 5 3 16 3 4 4 2 14-2 16-4 4-14 3-6 2-5 5-6 8-26 44-11 22-2 6 2 22-2 12-4 4zM357 459l10-1 10-3 6-4 8-7 14-5 7-4 9-7 9-11 22-38 7-18 1-6 0-42-1-6-7-18-21-36-9-12-10-8-8-4-13-5-12-10-12-4-14-1-36 0-12 1-10 2-8 3-10 9-14 5-12 7-9 9-8 12-20 34-6 16-1 6 0 42 1 6 6 16 22 38 9 12 8 7 10 5 12 4 12 10 12 5 16 1zM337 419l-4 1-4-2-28-25-38-13-4-3-1-4 8-38-1-8-6-30 1-6 5-4 36-12 26-24 6-3 6 2 28 25 38 13 3 3 1 4-7 38 1 9 6 29-1 6-5 4-36 12zM333 351l6-1 6-3 4-6 1-6 0-6-4-6-5-4-6-2-6 1-6 3-5 6-1 6 1 6 3 6 6 5z"/>
<path fill="#88d0a4" d="M421 481l-12 2-14-1-5-3-5-8-4-3-10-2-22-2-32 0-28 3-6 3-6 9-2 2-8 1-18 0-6-2-2-3-2-14 1-24-10-24-20-34-15-20-6-4-16-4-4-2-3-6-1-12 1-10 3-6 4-2 16-4 6-4 15-20 18-30 12-28-1-30 2-8 4-4 12-2 14 1 6 3 6 9 4 2 30 4 34 0 28-3 6-3 6-10 10-2 18 0 4 2 3 3 2 14-1 23 11 25 18 32 16 22 7 5 16 3 4 2 2 6 1 12-1 10-2 6-4 2-16 4-7 4-16 22-16 28-13 28 0 6 1 16 0 10-3 8zM355 461l10-1 12-4 6-3 8-9 23-9 10-8 10-12 9-17 11-17 6-18 1-8-1-12 1-30 0-6-7-20-11-17-7-13-10-14-11-10-24-9-8-9-4-2-14-5-16-1-16 0-16 0-14 1-14 4-4 3-8 8-15 6-11 5-9 9-10 12-7 14-11 18-7 18-1 8 1 12-1 30 1 6 7 20 11 18 7 14 10 12 9 9 10 5 14 4 12 12 10 3 20 4zM337 418l-4 1-4-2-28-25-36-12-5-3-1-4 8-38-8-38 2-6 4-3 36-12 26-24 6-3 6 2 27 24 37 13 4 3 1 4-7 38 7 38-1 6-4 3-36 12zM339 351l6-3 4-5 2-7-1-7-3-6-4-4-6-2-8 0-6 3-5 5-2 6 1 8 3 6 5 5 6 2z"/>
<path fill="#91d3a4" d="M239 242l0-3 3-12-3-18 1-10 2-8 3-3 14-2 14 1 4 3 4 7 4 3 16 5-1 2-15 7-10 10-20 7zM429 241l-2 0-14-10-22-8-10-10-13-6-2-2 17-5 3-3 5-8 4-2 14-1 14 2 3 3 2 8 0 10-2 18zM337 417l-4 1-4-1-28-25-36-12-4-3-1-4 8-38-1-6-7-30 0-4 1-3 6-4 34-11 26-24 6-3 6 2 26 23 38 14 3 2 2 4-7 38 7 38-2 6-5 3-34 11zM205 370l-8-9-6-4-18-4-4-2-3-6-1-10 1-12 3-6 4-2 18-4 6-4 8-9 1 1-1 14 2 22-2 22 1 12zM463 369l-2 0 1-12-1-16 0-16 1-14-1-13 2 1 8 8 5 4 18 4 4 2 3 6 1 10-1 12-3 6-4 2-17 4-6 4zM341 351l6-4 4-6 1-6-1-8-4-6-6-4-6-2-8 2-7 4-4 6-1 6 1 8 4 6 7 4 8 2zM271 481l-10 2-10-1-6-2-3-3-3-14 3-22-3-12 0-3 16 11 20 7 10 10 14 7 2 2-16 5-4 4-4 7zM419 481l-12 2-12-2-4-2-5-8-3-3-17-5 2-2 13-5 10-11 22-8 14-10 2 0-3 14 2 20-1 12-3 6z"/>
<path fill="#9ad6a4" d="M243 235l-3-32 1-10 4-5 14-2 14 2 4 2 6 10 10 5 0 2-8 5-10 12zM423 235l-8-4-23-8-9-10-9-6 1-2 10-6 6-9 4-3 14-1 8 1 6 2 3 4 2 12-3 22 0 7zM335 417l-6-1-28-25-36-12-3-2-1-4 7-38-1-8-6-28 0-6 2-2 4-3 34-11 26-23 6-3 6 2 28 24 34 11 4 3 2 4-7 40 7 34 0 6-2 2-4 3-34 11-28 24zM465 363l-3-16-1-12 1-12 3-18 12 7 20 5 4 6 1 12-1 10-3 6-5 2-16 3zM203 363l-2 0-12-7-14-3-5-2-3-5-1-11 1-12 3-6 5-2 14-3 12-7 2 0 3 18 0 12 0 10zM338 353l7-3 5-5 2-8 0-8-3-7-6-5-6-2-8 0-8 4-4 5-3 7 1 8 4 8 5 4 7 2zM271 481l-8 1-10 0-8-2-3-3-2-6 0-10 3-28 15 6 17 6 10 11 8 5 0 2-10 5-7 11zM419 481l-14 1-12-2-3-3-5-8-10-6 0-2 8-6 9-10 21-7 10-5 2 1 0 9 3 14 0 10-3 10-2 3z"/>
<path fill="#a2daa4" d="M249 231l-4 0-4-16-1-14 3-10 4-3 10-2 10 1 8 2 6 9 8 7 0 2-14 16zM421 232l-28-9-14-16 0-2 6-5 8-11 8-2 10-1 10 2 4 3 2 8 0 12-4 20zM337 416l-4 1-4-2-28-25-34-11-4-2-2-4 8-38-8-36 1-6 5-4 34-11 26-23 6-4 6 2 26 24 36 12 4 3 1 5-6 36 6 36 0 6-5 4-35 12zM201 359l-2 0-11-4-15-3-4-3-2-6-1-12 2-10 3-4 18-4 10-4 2 0 4 12 1 14-1 12zM469 359l-2 0-2-3-3-9 0-8 0-18 3-9 2-3 12 4 14 3 4 1 3 6 1 10-1 12-3 6-4 2-14 2zM341 353l6-4 4-6 2-8-1-8-3-6-6-5-8-2-8 1-7 4-5 6-2 8 2 8 4 7 6 4 8 2zM269 481l-8 1-10-1-6-2-2-2-3-8 0-10 2-10 3-12 4 0 26 8 14 16 0 2-8 7-6 9zM417 481l-12 1-12-3-3-2-5-9-6-5 0-2 14-16 28-9 2 1 3 14 1 16-2 10-2 2z"/>
<path fill="#abdda4" d="M251 229l-4 1-2-2-4-11-1-14 3-12 4-3 10-1 10 0 7 2 12 16 0 2-1 2-10 13zM421 229l-4 1-24-7-2-2-9-12-1-4 6-6 6-10 8-2 10 0 8 1 5 3 3 8 0 12-2 10zM337 415l-4 1-4-2-28-24-36-13-2-2-1-4 7-36-7-36 1-6 6-4 32-10 27-24 5-3 6 2 26 23 36 13 4 3 1 4-7 36 7 36-1 6-5 4-35 12zM199 357l-24-5-6-3-2-8-1-10 2-10 3-4 26-6 2 0 2 1 4 11 0 16-2 13-2 4zM471 357l-3 0-2-2-2-6-2-8 1-18 4-12 4 0 25 6 3 4 2 10 0 10-3 8-5 3zM337 355l8-3 5-5 4-8 0-8-3-8-5-6-7-4-8 0-8 3-6 5-4 8 0 8 3 8 5 6 8 4zM267 481l-8 1-10-2-4-1-3-4-2-10 1-10 2-9 2-6 2-2 10 2 17 5 4 4 8 12 0 2-5 6-5 8-3 3zM415 481l-12 0-10-2-12-16 0-2 8-12 4-4 26-7 2 1 2 2 2 6 2 10 0 10-3 10-3 3z"/>
<path fill="#b2e0a2" d="M257 227l-6 1-4 0-3-5-3-8 0-8 2-14 3-4 7-2 10 0 10 2 3 2 8 14 0 4-9 13-4 2zM421 227l-2 1-4 0-16-3-6-3-3-3-7-12 0-2 10-15 6-2 10-1 10 1 5 3 2 8 1 10-2 10zM335 415l-6-2-26-23-6-3-30-9-4-3-1-4 8-36-1-6-6-30 1-6 5-3 32-11 28-24 4-2 6 2 26 23 36 12 3 3 1 4-6 36 6 36-1 6-5 4-34 11-26 23zM199 356l-22-4-7-3-3-6 0-10 1-10 3-5 6-2 20-4 4 2 3 9 1 14-2 12zM341 355l6-3 5-7 3-8-1-10-5-8-6-5-8-2-8 1-8 5-5 7-2 8 1 8 4 8 6 4 8 3zM475 355l-6 1-2-2-3-5-1-6-1-10 1-10 3-8 3-3 26 5 4 4 1 6 1 12-3 10-5 3zM265 481l-8 0-8-1-4-2-2-3-2-8 0-10 2-10 4-7 6 0 20 5 5 4 6 10 0 4-8 14-3 2zM413 481l-12 0-8-3-10-15 0-2 7-12 3-3 12-4 14-2 4 3 3 8 1 10-1 8-1 6-2 3-4 2z"/>
<path fill="#bae3a1" d="M255 227l-4 0-4-1-4-6-2-15 2-12 4-4 8-2 10 0 8 2 4 4 5 10 1 4 0 2-8 12-6 3zM419 227l-6 0-14-3-6-2-3-3-6-12 1-4 8-13 6-2 10-1 10 2 4 2 3 8 0 12-2 10-3 5zM337 414l-4 1-4-2-27-24-35-12-3-2-1-4 7-36 0-8-7-28 1-6 5-3 33-11 25-22 6-4 6 3 26 22 34 12 5 3 1 4-7 36 6 36-1 6-6 4-32 10zM336 357l9-3 6-5 4-8 0-10-2-8-6-7-8-4-8-1-8 3-8 7-4 8 0 8 2 8 6 7 8 4zM199 354l-4 1-16-3-6-1-3-2-2-6-1-10 1-10 3-4 6-3 18-3 4 1 2 2 3 9 1 12-2 10zM483 353l-14 2-2-2-3-6-1-10 0-12 2-6 4-5 4-1 20 4 4 2 2 4 2 12-3 12-4 4zM261 481l-14-2-3-2-2-4-1-10 1-10 3-9 4-3 10 1 14 4 4 3 6 12-1 4-7 12-6 3zM409 481l-10-1-6-2-8-13-1-4 6-12 3-3 14-4 12-1 4 4 3 8 1 10-2 10-2 4-2 2z"/>
<path fill="#c1e6a0" d="M263 225l-14 1-5-5-3-10 0-10 2-8 4-3 12-3 12 2 5 4 5 10 1 6-5 10-4 3zM419 226l-6 1-12-3-6-2-4-3-6-12 1-4 7-12 6-3 10-1 10 2 4 2 3 8 0 12-3 11zM337 413l-4 1-4-2-26-23-35-12-3-2-1-4 7-36-1-8-6-28 1-6 4-2 34-12 25-22 5-3 6 2 26 23 34 11 4 3 1 4-6 36 6 36-1 5-6 4-32 11zM341 357l8-5 5-7 2-8-1-10-3-8-7-6-8-3-10 1-8 4-7 8-2 8 1 10 4 8 8 7 8 2zM199 353l-4 1-14-2-6-1-4-2-3-6-1-10 2-10 2-4 6-3 18-2 4 1 2 2 3 8 1 12-2 10zM481 353l-8 1-4-1-2-2-3-6-1-12 1-10 3-6 4-3 22 3 4 3 2 5 1 12-2 10-5 4zM271 479l-8 2-10-1-6-1-4-4-2-8 0-10 2-8 4-6 4-2 10 2 10 2 5 4 6 10 0 4-6 12zM419 479l-14 2-8-2-4-2-7-12-1-4 5-10 3-4 6-3 12-2 6-1 4 2 4 9 1 13-2 10z"/>
<path fill="#c8e99e" d="M261 225l-8 1-4-1-4-3-2-5-2-10 1-10 3-6 4-2 12-1 12 2 3 3 5 12-1 6-5 9-4 3zM419 225l-6 1-10-2-8-2-3-3-6-12 2-6 5-10 6-2 10-1 9 1 5 3 3 9 0 10-3 10zM335 413l-6-2-26-23-34-11-3-2-2-4 8-36-1-8-6-26 0-6 5-4 33-11 26-23 4-2 6 2 25 22 35 12 3 2 2 4-6 38 5 32 0 6-4 4-34 11-26 23zM335 359l8-2 8-6 5-8 1-10-2-10-6-8-8-5-8-1-10 2-8 6-5 8-1 10 2 10 6 8 8 4zM197 353l-18-1-8-4-3-5-1-10 2-10 3-4 7-3 14-1 4 0 4 3 3 9 0 14-3 9zM479 353l-6 1-4-2-3-3-2-6-1-10 2-10 2-5 4-3 12 1 10 1 4 4 2 6 1 12-3 9-6 3zM269 479l-8 1-8 0-6-2-3-3-2-10 0-10 3-9 4-3 8-1 12 3 5 2 3 4 4 8 0 4-6 13zM417 479l-8 1-8 0-6-2-3-3-6-14 4-10 4-4 7-3 12-2 4 0 4 3 4 10 1 12-3 9z"/>
<path fill="#d0ec9c" d="M257 225l-8 0-5-6-2-12 1-12 4-5 6-2 10 0 8 2 4 3 5 10 1 4-1 4-3 6-4 4-6 2zM417 225l-8 0-10-2-5-2-3-4-4-8 0-4 4-10 4-5 8-2 8 0 8 2 4 3 3 10-1 10-3 8zM337 411l-4 1-4-2-26-23-34-11-2-1-2-4 7-36 0-6-7-28 1-6 5-4 32-10 26-23 4-2 6 2 24 21 35 12 3 2 2 4-6 38 5 32 0 6-5 4-28 9-6 3zM341 359l8-4 6-8 3-10-2-12-4-8-7-6-8-3-10 1-9 4-7 8-3 10 1 10 4 9 8 7 10 3zM199 351l-4 2-12-1-8-2-4-2-3-7 0-8 1-10 3-4 7-2 14-2 4 1 4 3 2 8 1 10-1 8zM489 351l-16 2-4-1-2-3-3-8 0-10 1-8 4-6 6-2 12 1 6 2 4 3 3 10-1 12-4 6zM269 479l-8 1-8 0-6-2-3-3-2-8 0-10 3-10 4-3 6-1 12 2 6 2 4 4 3 8 1 4-6 12-2 2zM417 479l-8 1-8 0-6-2-3-3-4-10-1-4 4-10 3-4 9-3 10-1 6 1 3 3 3 10 0 12-2 6z"/>
<path fill="#d7ef9b" d="M267 223l-8 2-8 0-4-3-2-2-2-7-1-10 2-8 3-4 8-3 8 0 8 2 4 3 4 10 1 6-5 10zM419 224l-6 1-8-1-8-2-4-3-4-8-1-6 4-10 3-4 6-2 10-1 8 2 4 3 2 8 0 10-2 8zM335 412l-2 0-4-2-26-23-34-12-2-2-1-4 7-34-1-8-6-26 1-6 4-3 32-11 26-22 4-3 6 3 24 21 34 11 5 4 0 4-5 34 5 34-1 6-6 4-32 11-24 21zM337 361l8-2 8-7 4-9 1-12-3-11-6-8-8-4-10-1-10 3-8 7-5 10-1 10 3 10 7 8 10 5zM197 352l-6 0-10 0-6-2-4-3-2-6-1-10 2-8 3-4 8-2 12-1 4 0 3 3 3 8 0 12-2 8zM489 351l-16 1-4-1-3-4-2-8 0-12 3-7 4-4 6 0 12 1 5 2 3 3 2 9-1 12-3 6zM267 479l-14 0-6-2-2-2-3-8 0-10 3-9 4-4 6-1 10 1 7 3 4 4 4 8-1 6-4 10-4 3zM415 479l-14 0-6-2-2-2-5-10-1-4 4-10 4-4 10-3 10-1 4 2 4 4 2 10-1 12-3 6z"/>
<path fill="#dff29a" d="M265 223l-8 1-6 0-4-2-2-3-2-8-1-8 2-8 3-4 8-2 10 0 7 2 4 4 3 10-1 6-4 8-3 2zM417 224l-6 0-10-1-6-2-3-4-4-8 0-4 4-10 3-4 6-2 8-1 8 2 5 3 3 8 0 10-3 8zM337 410l-4 1-3-2-27-23-33-11-2-2-1-4 6-34 0-8-6-26 1-6 3-2 32-11 26-22 4-3 5 2 25 22 34 11 4 3 1 4-6 34 5 34 0 6-7 4-31 10zM342 361l9-5 6-9 2-12-2-12-4-8-8-7-10-2-10 1-10 6-6 8-3 10 1 12 6 10 8 6 10 3zM195 352l-16-1-5-2-3-2-2-8-1-8 2-8 3-3 8-3 12-1 4 1 4 4 2 10 0 10-4 8zM487 351l-14 1-4-2-2-3-3-8 0-10 3-8 4-4 6-1 12 1 5 2 3 4 2 10-2 12-3 4zM265 479l-8 1-6-1-4-2-3-4-2-8 1-8 2-8 4-4 8-1 10 1 6 3 4 5 2 8-2 10-4 5zM413 479l-8 1-6-1-4-2-3-4-4-12 4-10 4-4 9-3 8 0 6 1 3 4 3 10-1 12-3 5z"/>
<path fill="#e6f598" d="M263 223l-12 0-4-2-2-4-2-8 0-8 2-7 4-3 8-2 10 1 6 2 3 5 3 10-3 8-2 4-3 2zM417 223l-6 1-10-1-6-3-3-3-2-6-1-6 2-8 4-5 6-3 8 0 8 1 5 3 3 8 0 10-3 8zM335 410l-2 0-4-2-24-22-8-3-24-8-4-2-1-4 6-34-6-34 0-4 1-2 4-2 24-8 8-3 24-21 4-3 6 3 22 19 36 13 3 2 1 4-5 34 5 34-1 6-8 4-29 9zM340 363l9-4 7-8 4-12-1-13-5-11-7-7-10-4-10 1-10 4-9 10-4 10 1 12 4 10 4 4 6 5 10 3zM195 351l-14 0-6-2-3-2-3-6 0-8 1-8 3-5 6-2 12-2 6 2 3 3 3 8-1 12-2 6zM485 351l-12 0-4-2-3-4-1-8 0-10 2-6 4-4 6-1 12 2 6 2 2 3 2 12-2 10-4 4zM263 479l-8 0-6-2-3-2-2-4-1-8 1-10 3-6 4-2 10-1 10 3 4 4 3 6 1 6-4 10-4 4zM411 479l-8 0-6-2-3-2-3-4-2-8 0-4 3-8 5-4 10-3 8 0 4 2 4 5 2 12-2 10-4 4z"/>
<path fill="#e9f69d" d="M261 223l-6 1-6-2-3-3-2-4-1-10 1-8 2-4 5-3 10-1 9 2 5 4 3 8-1 8-4 8-4 2zM415 223l-6 1-8-2-6-2-2-3-3-6-1-6 4-10 4-4 8-2 8 0 6 2 4 4 2 8-1 10-3 7zM337 407l-4 2-2-1-22-20-6-4-32-11-2-2 0-2 6-34-1-8-5-24 0-6 2-2 4-2 28-9 6-4 20-18 4-2 4 1 24 20 35 12 3 2 1 4-5 34 5 34-1 5-9 5-27 9zM338 365l11-4 7-8 4-12 0-12-3-12-4-6-4-4-8-3-12-1-12 5-8 7-5 10-2 8 1 6 4 12 8 8 10 5 6 1zM193 351l-8 0-8-1-4-2-2-3-2-8 0-8 2-6 4-4 6-2 10 0 6 1 3 3 2 8 0 12-3 7zM483 351l-8 0-4-1-3-3-2-4-1-10 1-8 3-5 4-3 8 0 10 2 4 2 2 4 2 10-2 10-5 4zM261 479l-12-2-3-2-2-4-1-8 1-8 2-6 5-4 10 0 10 3 4 3 3 8 0 6-5 10-4 3zM409 479l-8-1-6-2-3-5-3-10 3-8 3-4 8-4 10 0 4 0 4 4 3 8 1 8-2 6-2 4-4 3z"/>
<path fill="#ecf8a2" d="M259 223l-8-1-4-3-3-8 0-10 1-6 4-4 8-2 8 1 6 2 3 3 3 8 1 6-3 6-2 4-6 3zM413 223l-14-2-4-2-3-4-2-6 0-6 3-8 4-4 8-2 8 1 6 2 3 3 2 10-1 10-4 6zM335 407l-2 0-4-2-24-21-32-11-2-2-1-2 6-34-6-34 1-4 3-2 31-11 24-21 4-2 4 1 24 20 24 7 9 4 4 2 1 4-4 36 4 32 0 4-6 4-32 11zM338 367l11-4 7-8 5-12 0-14-3-12-7-10-4-3-6-2-12-1-12 4-6 5-5 5-4 10-2 8 1 6 4 12 8 9 12 6zM197 349l-4 2-8 0-8-2-4-2-3-6-1-8 2-8 2-4 6-3 10-1 6 1 4 3 3 6 0 10-2 8zM491 349l-8 2-8 0-4-2-3-2-2-6-1-10 2-8 4-4 6-2 10 1 6 2 3 3 2 8 0 8-2 6zM269 477l-6 2-8-1-6-1-4-4-2-8 1-8 1-6 4-4 6-2 8 0 8 3 3 3 4 8-1 6-3 8zM417 477l-12 2-6-1-4-3-4-6-1-8 2-8 3-4 6-3 10-1 6 1 4 3 3 8 0 10-3 8z"/>
<path fill="#eff9a7" d="M267 221l-8 2-6-1-4-1-3-4-2-6 0-8 2-8 3-3 6-2 8 0 6 1 5 4 3 10 0 6-4 7zM417 222l-6 1-8-1-6-2-3-3-3-6-1-6 3-8 2-4 6-3 8 0 8 1 4 3 3 7 0 10-3 7zM333 405l-28-23-27-9-4-2-2-2 6-36-6-32 2-4 31-11 28-23 4 1 16 14 8 5 22 6 12 5 3 3 1 4-5 32 4 32-1 6-2 2-9 4-25 7-24 20zM342 369l9-5 4-4 4-7 3-14-1-14-4-12-4-6-4-4-10-4-12 0-12 4-6 5-4 5-5 8-2 6 0 14 2 6 4 8 9 9 8 4 6 1 8 1zM195 350l-6 1-8-1-6-2-3-3-2-6 0-8 1-6 3-4 5-3 10-1 6 1 4 3 3 8 0 10-3 8zM489 350l-14 0-4-1-3-4-3-8 1-8 2-6 3-4 6-1 8 0 6 1 5 4 2 8-1 10-3 6zM269 477l-6 1-8 0-6-2-3-3-2-6 0-8 2-8 3-4 6-2 8 1 6 1 5 4 3 6 0 6-3 10zM417 477l-6 1-8 0-6-2-3-3-4-8 0-4 3-8 3-4 7-3 8-1 6 1 4 4 3 7 0 10-2 6z"/>
<path fill="#f2faac" d="M267 221l-8 1-6 0-4-2-3-3-2-6 0-8 1-6 4-5 6-2 8 0 6 1 4 4 4 8-1 8-3 7zM417 221l-6 1-6 0-6-1-5-4-3-6 0-6 2-8 3-4 5-2 8-1 8 1 4 3 2 7 0 10-2 7zM337 399l-4 2-2-1-24-20-29-11-2-4 5-30-5-30 0-4 2-2 29-11 26-20 4 1 12 9 10 6 21 5 11 4 6 4 1 4-4 32 3 32-2 6-12 6-20 5-6 2zM344 373l5-3 4-3 4-6 3-8 3-16-2-17-6-14-8-9-10-4-14 1-8 4-6 3-6 6-4 6-6 14 0 8 1 10 3 8 4 6 6 6 6 4 6 3 10 3 8 0zM195 349l-6 1-8 0-6-2-3-3-2-6 0-8 1-6 3-4 7-3 8 0 6 1 4 3 2 7 1 10-3 7zM489 349l-8 1-6 0-4-2-3-3-2-6 0-8 1-6 4-5 6-2 8 0 6 2 4 3 3 8-1 10-3 6zM267 477l-12 1-6-2-3-3-2-6 0-8 1-6 4-5 6-2 8 0 8 3 4 4 2 8-1 6-3 7zM415 477l-12 1-6-2-3-3-3-6-1-6 3-8 4-5 6-2 8 0 6 1 4 4 3 8-1 10-3 6z"/>
<path fill="#f6fbb0" d="M265 221l-12 1-4-2-2-3-3-6 0-8 1-6 4-4 8-3 8 1 6 2 3 4 3 8-2 8-4 6zM415 221l-6 1-8-1-4-2-4-4-2-6 0-6 2-6 4-4 6-3 8 0 6 2 4 3 2 8 0 8-2 6zM379 377l-16 2-4-1-2-3 0-6 6-22 1-12-2-16-8-24 0-4 3-4 8 0 14 2 14 6 3 4 0 6-3 30 2 32-2 4zM193 349l-12 0-6-2-2-2-3-6 0-8 2-6 3-4 6-2 8-1 6 1 4 4 2 8 0 9-3 7zM487 349l-8 1-6-1-3-2-3-4-1-8 1-8 2-5 4-3 6-1 9 1 5 2 3 4 2 8-2 10-3 4zM267 477l-12 1-6-2-3-3-2-8 0-8 3-7 4-3 6-1 8 1 6 2 3 4 3 8-1 6-3 6zM415 477l-12 1-6-2-3-3-2-6-1-6 2-8 4-4 6-2 8-1 6 1 4 4 2 8 0 9-2 5z"/>
<path fill="#f9fcb5" d="M265 221l-6 1-6-1-4-2-3-4-2-6 1-8 2-6 4-3 6-2 8 1 5 2 4 4 2 8-1 8-4 5zM415 221l-6 1-8-1-4-2-3-4-2-6 0-6 2-6 3-4 6-2 8 0 6 1 4 4 2 7 0 8-3 6zM379 375l-6 1-6-1-3-2-2-6 3-34-6-34 1-4 2-4 5-2 10 1 9 3 7 4 2 4-2 32 1 32-2 4-2 2zM193 349l-12 0-4-1-4-3-2-6-1-8 2-6 3-4 6-2 8-1 6 2 4 3 2 8 0 8-2 6zM487 349l-6 1-7-1-3-2-3-4-2-6 1-8 2-6 4-3 6-2 8 1 5 2 4 4 1 8-1 8-3 6zM265 477l-6 1-6-1-4-2-3-4-2-6 1-8 2-6 4-3 6-2 8 1 5 2 4 4 2 8-1 8-4 6zM413 477l-6 1-6-1-4-2-3-4-2-6 0-6 3-8 4-3 8-2 6 1 6 2 3 4 1 8-1 10-3 4z"/>
<path fill="#fcfeba" d="M263 221l-10 0-4-2-3-4-1-6 0-8 2-5 4-4 8-1 8 1 4 2 3 5 2 8-3 8-3 4zM413 221l-6 0-6-1-4-2-3-3-2-6 0-6 3-8 4-3 6-1 8 0 5 2 3 4 2 8-1 8-3 5zM379 373l-6 0-4-2-3-4-1-6 1-28-4-30 3-9 2-2 4-1 8 1 9 3 4 4 2 4 0 12-2 18 1 18-1 10-1 4-3 4zM191 349l-12-1-4-2-3-3-1-6 0-8 2-5 4-4 6-1 8 0 5 2 3 4 2 8-1 8-3 5zM485 349l-6 0-6-1-5-5-1-6 0-8 2-6 4-3 6-1 8 0 5 2 3 4 2 8-2 10-3 4zM263 477l-6 0-6-1-4-3-2-4-1-8 2-6 3-6 4-2 8 0 8 2 4 3 2 5 1 6-3 9-4 4zM411 477l-8 0-6-2-2-2-3-6 0-6 1-6 3-4 5-3 8-1 6 0 4 3 3 5 1 8-2 8-3 4z"/>
<path fill="#ffffbf" d="M261 221l-10-1-4-4-2-5 0-8 2-6 3-4 5-2 8 0 6 2 4 4 2 6 0 8-3 6-5 3zM411 221l-6 0-6-2-4-3-2-5-1-6 2-6 3-5 4-2 8-1 6 1 4 2 3 5 1 8-2 8-4 4zM381 369l-6 0-4-2-2-4-2-6 0-24-2-28 2-8 2-2 4-2 6 0 9 4 3 4 2 6-2 50-4 8zM189 349l-6 0-6-2-3-2-2-4-1-8 1-6 2-4 5-3 8-1 6 1 4 2 3 5 1 8-2 8-4 4zM483 349l-10-1-3-3-2-4-1-8 1-6 3-5 4-2 8-1 8 2 4 4 1 4 1 8-2 6-4 4zM263 477l-6 0-6-2-3-2-2-4-1-8 1-6 3-5 4-2 8-1 8 2 4 4 2 4 0 6-2 8-4 4zM411 477l-6 0-6-2-3-2-3-4-1-6 1-6 3-6 5-3 8-1 6 1 4 2 3 5 1 8-2 8-4 4z"/>
<path fill="#fffbb8" d="M267 219l-6 2-6 0-4-2-4-4-2-6 1-8 1-4 4-4 6-2 6 0 6 2 4 4 2 8-1 6-3 6zM415 220l-6 1-6-1-4-1-4-4-2-6 0-6 2-6 4-4 6-2 6 0 6 2 4 4 1 6 0 8-3 6zM381 365l-6 0-4-4-2-5-1-7-1-42 1-6 3-4 6-2 6 1 4 3 3 6 2 8-2 40-3 7zM195 347l-6 2-6 0-6-2-3-2-2-6-1-6 1-6 3-5 4-2 8-1 6 1 4 3 3 6 0 8-1 6zM489 348l-6 1-6 0-4-2-4-4-2-6 0-8 2-4 4-4 6-2 6 0 6 2 4 4 1 6 0 8-3 6zM267 476l-6 1-6-1-4-1-4-4-2-6 0-6 2-6 4-4 6-2 6 1 6 2 4 3 2 8-1 6-3 6zM415 476l-6 1-6-1-4-1-4-4-2-6 0-6 2-6 4-4 6-2 8 1 4 1 3 4 2 6 0 8-3 6z"/>
<path fill="#fff7b2" d="M267 219l-6 2-6-1-4-1-4-4-2-6 0-6 2-6 4-4 6-1 6 0 6 2 3 3 3 6 0 6-3 6zM415 220l-6 1-6-1-4-2-4-3-2-6 0-6 2-6 4-4 6-1 6 0 6 2 3 3 2 6 0 8-3 6zM379 361l-5-2-3-6-3-34 0-8 2-6 3-5 4-2 6 1 4 5 3 7 1 8-2 30-4 8zM193 348l-6 1-6-1-4-1-4-4-2-6 0-6 2-6 4-4 6-1 8 0 4 2 3 3 2 6 0 8-3 6zM489 347l-6 2-6-1-4-1-4-4-2-6 0-6 2-6 4-4 6-1 6 0 6 2 3 3 2 6 0 8-3 6zM267 475l-6 2-6-1-4-1-4-4-2-6 0-6 2-6 4-4 6-1 6 0 6 2 3 3 3 6 0 6-3 6zM415 475l-6 2-6-1-4-1-4-4-2-6 0-6 2-6 4-3 6-2 6 0 6 2 3 3 2 6 0 8-3 6z"/>
<path fill="#fff3ac" d="M265 220l-10 0-4-2-3-3-2-6 0-6 2-6 3-3 6-2 6 0 6 2 3 3 2 8 0 6-4 6zM415 219l-6 1-6 0-4-2-3-3-3-6 0-6 3-6 3-3 6-2 6 0 6 2 3 3 2 6-1 8-2 5zM381 356l-4 0-4-5-2-8-2-20 1-8 1-6 4-6 4-1 4 2 3 3 2 6 1 8-2 26-2 5zM193 347l-6 1-6 0-4-2-3-3-2-6 0-6 2-6 3-3 6-2 6 0 6 2 3 3 2 6-1 8-2 5zM487 348l-10 0-4-2-3-3-2-6 0-6 2-6 3-3 6-2 6 0 6 2 3 3 2 8-1 7-3 5zM267 475l-6 1-6 0-4-2-3-3-2-6 0-6 2-6 3-3 6-2 6 0 6 2 3 3 2 6 0 6-2 6zM415 475l-6 1-6 0-4-2-4-3-2-6 0-6 3-6 3-3 6-2 6 0 6 2 3 3 2 6-1 8-2 5z"/>
<path fill="#fef0a5" d="M265 219l-10 1-4-2-3-3-2-6 0-6 2-6 3-3 6-2 6 0 6 2 3 3 2 8-1 6-3 6zM413 219l-6 1-6-1-4-3-2-3-1-4 0-6 2-6 3-3 6-2 6 0 6 2 3 3 2 6-1 8-3 6zM381 351l-4 0-3-4-2-6-1-14 0-10 2-6 2-3 4-2 4 2 2 3 3 12-2 20-1 4zM191 348l-10-1-4-1-3-3-2-6 0-6 2-6 3-3 6-2 6 0 6 2 2 3 3 6-1 8-3 6zM487 347l-10 1-4-2-3-3-2-6 0-6 2-6 3-3 6-2 6 0 6 3 2 2 3 6-1 8-3 6zM265 476l-6 0-6-1-3-2-3-4-1-6 0-6 3-5 4-3 6-1 6 1 4 2 4 4 1 6-1 7-3 5zM413 476l-10 0-4-2-3-3-2-6 0-6 2-6 3-3 6-2 6 0 4 1 4 4 2 6 0 8-3 6z"/>
<path fill="#feec9e" d="M263 219l-10 0-4-3-2-3-1-6 1-6 2-5 4-3 6-1 6 1 4 2 3 4 2 8-2 6-3 4zM413 219l-6 1-6-2-4-2-2-3-1-4 0-6 2-6 3-3 6-2 6 0 4 2 4 3 2 6 0 8-4 6zM381 346l-2 1-2-1-2-3-2-12 1-14 1-4 4-2 2 1 3 3 2 10-1 14-2 5zM191 347l-10 0-4-1-3-3-2-6 0-6 2-6 3-2 6-2 6-1 4 2 4 3 2 6 0 8-4 6zM487 347l-6 1-6-1-3-2-3-4-1-6 1-6 2-5 4-3 6-1 6 1 4 2 3 4 1 6-1 8-3 4zM265 475l-6 1-6-1-4-3-2-3-1-6 1-6 2-5 4-3 6-1 6 1 4 2 3 4 2 6-1 6-4 6zM413 475l-10 0-4-1-3-3-2-4 0-6 1-6 4-4 6-2 6 0 4 1 4 3 2 6 0 8-4 6z"/>
<path fill="#fee898" d="M263 219l-6 0-4-1-5-5-2-6 1-6 2-4 4-3 6-2 6 1 4 2 3 4 2 8-2 6-4 4zM411 219l-10-1-4-3-2-4-1-4 1-6 2-4 4-3 6-2 6 1 4 2 3 4 1 8-1 6-3 4zM381 340l-2 0-2-1-2-9 1-9 1-3 2-1 3 2 2 6-1 10zM189 347l-10-1-5-5-2-6 1-6 2-4 4-3 6-1 6 0 4 2 3 4 1 6-1 8-3 4zM485 347l-10-1-5-5-2-6 1-6 2-4 4-3 6-1 6 0 4 2 3 4 1 6-1 8-3 4zM263 475l-10-1-4-3-1-2-2-6 1-6 2-4 4-3 6-1 6 0 6 4 2 4 1 6-2 6-3 4zM411 475l-10-1-4-3-2-4-1-6 2-6 3-4 4-2 6 0 6 1 4 3 1 4 1 6-1 6-3 4z"/>
<path fill="#fee492" d="M261 219l-6 0-4-2-3-4-1-4 0-6 2-6 4-3 4-1 6 0 5 2 3 3 2 5 0 6-3 6-3 3zM409 219l-6-1-4-1-3-4-1-4 0-6 2-6 4-3 4-1 6 0 5 2 3 3 2 5 0 6-3 6-3 3zM189 347l-10-1-4-3-2-4 0-6 1-6 3-4 4-2 6 0 6 1 3 3 2 4 1 6-1 6-4 4zM483 347l-6 0-4-2-3-4-1-4 0-6 2-6 4-3 4-1 6 0 5 2 3 3 2 5 0 6-3 6-3 3zM263 475l-6 0-4-1-4-3-2-4 0-6 1-6 3-4 4-2 6 0 6 2 3 2 2 4 1 6-1 6-4 4zM411 475l-6 0-4-1-4-3-2-4-1-6 2-6 3-3 4-2 6-1 6 1 3 3 2 4 1 6-1 6-4 4z"/>
<path fill="#fee08b" d="M267 217l-4 2-6 0-4-1-3-3-2-4-1-6 1-6 3-3 4-2 6-1 6 2 3 2 3 6 0 6-2 4zM415 217l-4 2-6 0-5-2-3-3-2-5 0-4 1-6 3-3 4-2 6-1 6 2 3 2 2 6 0 6-1 4zM193 345l-4 2-6 0-4-1-3-3-2-4-1-6 1-6 3-3 4-2 6-1 6 2 3 2 2 6 0 6-1 4zM481 347l-6-1-3-3-2-4-1-6 1-6 3-3 4-2 6-1 6 2 3 2 2 4 1 6-2 6-2 3-4 2zM261 475l-6-1-4-1-3-4-1-4 0-6 2-5 3-3 5-2 6 1 4 1 4 4 2 4 0 6-3 6-3 2zM409 475l-6-1-4-1-3-4-1-4 0-6 2-5 3-3 5-2 6 0 4 2 4 4 1 4 0 6-2 6-3 2z"/>
<path fill="#feda86" d="M265 218l-6 1-4-1-4-2-2-3-2-4 0-6 2-5 4-3 4-2 6 1 4 1 4 4 2 6-1 6-3 4zM413 218l-4 1-6-1-4-2-2-3-2-4 0-6 2-5 4-3 4-2 6 1 4 1 4 4 1 6 0 6-3 4zM193 345l-4 1-6 1-7-4-2-4-1-6 2-6 2-3 4-2 6-1 4 1 4 3 3 6 0 6-1 4zM487 346l-4 1-6-1-4-2-2-3-2-4 0-6 2-5 4-3 4-1 6 0 4 1 4 4 1 6 0 6-3 5zM267 473l-4 2-6 0-4-2-3-2-2-4-1-6 2-6 2-3 4-2 6 0 4 0 4 3 3 4 1 6-2 6zM415 473l-4 2-6 0-4-2-3-2-2-4-1-6 2-6 2-3 4-2 6-1 4 1 4 3 3 6 0 6-1 4z"/>
<path fill="#fed480" d="M265 217l-6 1-4 0-4-3-2-2-1-4 0-6 1-4 4-4 4-1 6 0 4 1 4 4 1 6-1 6-2 4zM413 218l-4 0-6 0-6-5-2-4 0-6 2-4 4-4 4-1 6 0 4 1 4 4 1 6-1 6-2 4zM191 346l-4 0-6 0-4-2-2-3-1-4 0-6 1-4 4-4 4-1 6 0 4 1 3 4 2 6-1 6-2 4zM487 346l-4 0-6 0-4-2-2-3-1-4 0-6 1-4 4-4 4-1 6 0 4 1 3 4 2 6-1 6-2 4zM265 474l-4 1-6-1-4-2-2-3-1-4 0-6 1-4 4-4 4-1 6 0 4 2 3 3 2 6 0 6-3 4zM413 474l-4 1-6-1-4-2-2-3-2-4 0-6 2-4 4-4 4-1 6 0 4 2 3 3 2 6-1 6-2 4z"/>
<path fill="#fecd7b" d="M265 217l-6 1-4-1-6-4-1-4 0-6 1-4 4-4 4-1 6 0 4 2 3 3 2 4 0 6-3 5zM413 217l-4 1-6-1-4-2-2-3-2-5 1-4 1-4 4-4 4-1 6 0 4 2 3 3 2 6-1 6-2 4zM191 345l-4 1-6-1-6-4-1-4 0-6 1-4 4-3 4-2 6 0 4 2 3 3 2 6-1 6-2 4zM487 345l-6 1-4 0-6-5-1-4 0-6 1-4 4-4 4-1 6 0 4 2 3 3 2 6-1 6-2 4zM265 473l-4 1-6 0-6-5-1-4 0-6 1-4 4-3 4-2 6 0 4 2 3 3 2 4 0 6-3 6zM413 473l-4 1-6 0-6-5-1-4 0-6 1-4 4-3 4-2 6 0 4 2 3 3 2 6-1 6-2 4z"/>
<path fill="#fec776" d="M263 217l-8 0-4-2-2-4-1-4 1-6 2-4 4-2 6-1 4 1 3 2 3 4 1 6-1 4-3 4zM411 217l-8 0-4-2-2-4-1-4 1-6 2-4 4-2 6-1 4 1 3 2 3 4 1 6-1 4-3 4zM191 345l-4 1-6-1-5-4-2-4 0-6 2-4 3-3 4-2 6 0 4 2 3 3 2 6-1 5-2 4zM485 346l-9-1-3-2-2-4-1-6 1-4 2-4 4-2 6-1 4 1 3 2 3 4 1 4-1 6-3 4zM265 473l-4 1-6-1-5-4-2-4 0-6 2-4 3-3 4-1 6 0 4 1 3 3 1 4 0 6-2 5zM413 473l-4 1-6-1-5-4-2-4 0-6 2-4 3-3 4-1 6 0 4 1 3 3 2 6-1 5-2 4z"/>
<path fill="#fdc171" d="M263 217l-8 0-4-3-2-3-1-4 1-6 2-3 4-3 6-1 4 1 3 2 3 4 0 6-1 4-2 4zM411 217l-8 0-4-3-2-3-1-4 1-6 2-3 4-3 6-1 4 1 3 2 2 4 1 6-1 4-2 4zM189 345l-8 0-4-3-2-3-1-6 1-4 2-3 4-3 6-1 4 1 3 2 2 4 1 4-1 6-2 4zM485 345l-8 0-4-3-2-3-1-6 1-4 2-3 4-3 6-1 4 1 3 2 2 4 1 4-1 6-2 4zM263 473l-8 0-4-3-2-3-1-6 1-4 2-3 4-3 4 0 6 1 2 1 3 4 1 4 0 6-3 4zM411 473l-8 0-4-3-2-3-1-6 1-4 2-3 4-3 6 0 4 1 2 1 3 4 1 4 0 6-3 4z"/>
<path fill="#fdba6c" d="M261 217l-8-2-2-2-2-4 0-6 1-4 3-3 4-1 6 0 4 2 4 6 0 6-2 4-4 3zM409 217l-8-2-3-2-1-4 0-6 1-4 3-3 4-1 6 0 4 2 4 6 0 6-2 4-4 3zM189 345l-8 0-4-3-2-3-1-6 1-4 2-3 4-2 6-1 4 1 5 5 1 4-1 6-3 4zM485 345l-8 0-4-3-2-3-1-6 1-4 2-3 4-2 6-1 4 1 5 5 1 4-1 6-3 4zM263 473l-8 0-4-3-2-3-1-6 1-4 2-3 4-2 6-1 4 1 5 5 1 4-1 6-3 4zM411 473l-8 0-3-2-3-4-1-6 1-4 2-3 4-2 6-1 4 1 5 5 1 4-1 6-3 4z"/>
<path fill="#fdb466" d="M265 216l-8 1-6-4-2-4 0-4 1-4 3-4 8-2 4 1 4 3 2 4 0 6-2 4zM413 216l-8 1-6-4-2-4 0-4 1-4 3-4 4-2 5 0 5 2 2 2 1 4 0 6-1 4zM187 345l-8-2-2-2-2-4 0-6 2-4 6-4 8 1 4 3 1 4 0 6-1 4-4 3zM483 345l-8-2-4-6 0-6 2-4 6-4 6 0 4 2 3 6 0 6-1 4-4 3zM261 473l-8-2-2-2-2-4 0-6 2-4 6-4 4 0 5 2 5 6 0 6-2 4-4 3zM409 473l-4 0-4-2-3-4-1-4 0-4 2-4 4-3 4-1 4 1 4 1 3 4 1 4-2 8-4 3z"/>
<path fill="#fdae61" d="M265 216l-8 0-6-3-2-8 1-4 3-4 4-2 6 1 3 1 3 3 2 5-1 4-2 4zM413 216l-8 0-6-3-2-4 0-4 1-4 3-4 4-2 6 1 3 1 3 3 2 5-1 4-2 4zM191 344l-8 1-6-4-2-4 0-4 1-4 3-4 4-1 6 0 4 2 2 2 1 5 0 4-2 4zM487 344l-8 1-6-4-2-4 0-4 1-4 3-4 4-1 6 0 4 2 2 2 1 5 0 4-2 4zM265 472l-8 1-6-4-2-4 0-4 1-4 4-4 5-2 4 1 4 2 2 2 2 5-1 4-1 4zM413 472l-8 1-6-4-2-4 0-4 1-4 4-4 5-2 4 1 4 2 2 2 1 5 0 4-2 4z"/>
<path fill="#fca65d" d="M265 215l-8 1-4-2-2-2-2-5 1-4 1-3 3-3 5-2 4 1 4 2 2 2 1 5 0 4-2 4zM413 215l-8 1-6-4-2-5 1-4 1-3 3-3 5-2 4 1 4 2 2 3 1 4 0 4-2 4zM191 343l-8 1-6-4-2-5 1-4 2-4 2-2 5-1 4 0 4 2 2 3 1 4 0 4-2 4zM487 343l-8 1-3-1-3-3-2-5 1-4 2-4 2-2 5-1 4 0 4 2 2 3 1 4 0 4-2 4zM265 472l-8 0-3-1-3-3-2-5 1-4 2-4 2-2 5-1 4 0 4 2 2 3 1 4 0 4-2 4zM413 472l-8 0-6-4-2-5 1-4 2-4 2-2 5-1 4 0 4 2 2 3 1 4 0 4-2 4z"/>
<path fill="#fb9e5a" d="M263 216l-8-1-4-4-1-4 0-4 2-4 3-2 8-1 4 2 2 3 1 4-1 6-2 2zM411 216l-8-1-4-4-1-4 0-4 2-4 3-2 8-1 4 2 2 3 1 4-1 6-2 2zM191 343l-4 1-4 0-4-2-2-2-1-5 0-4 2-4 3-2 4-1 4 0 4 2 2 3 1 8-2 4zM487 343l-8 1-4-2-2-2-1-5 0-4 2-4 3-2 4-1 4 0 4 2 2 3 1 8-2 4zM265 471l-4 1-4 0-4-2-2-2-1-5 0-4 2-4 3-2 4-1 4 0 4 3 2 2 1 4 0 4-2 4zM413 471l-4 1-4 0-4-2-3-3-1-4 1-4 2-4 3-2 8-1 4 3 2 2 1 4 0 4-2 4z"/>
<path fill="#fa9656" d="M263 215l-8 0-4-4-1-4 0-4 2-4 3-2 4-1 4 0 4 3 2 2 1 4-1 5-2 3zM411 215l-7 0-5-4-1-4 0-4 2-4 3-2 4-1 4 0 4 3 2 2 1 4-1 5-2 3zM189 344l-4 0-4-1-4-4-1-4 0-4 2-4 3-2 4-1 4 1 6 4 1 4-1 5-2 3zM485 344l-4 0-4-1-4-4-1-4 0-4 2-4 3-2 4-1 4 1 6 4 1 4-1 5-2 3zM263 472l-4 0-4-1-4-4-1-4 0-4 3-4 2-2 4-1 4 1 4 2 2 3 1 5-1 4-2 2zM411 472l-4 0-4-1-4-4-1-4 0-4 3-4 2-2 4-1 4 1 4 2 2 3 1 5-1 4-2 2z"/>
<path fill="#f88e52" d="M263 215l-4 1-4-2-4-4-1-7 3-4 2-2 4-1 4 1 5 4 1 4 0 4-2 4zM411 215l-7 0-3-2-2-3-1-7 3-4 2-2 4-1 4 1 5 4 1 4 0 4-2 4zM189 343l-7 0-3-2-2-3 0-7 2-4 2-2 4-1 4 1 5 4 1 4 0 4-2 4zM485 343l-7 0-3-2-2-3 0-7 2-4 2-2 4-1 4 1 5 4 1 4 0 4-2 4zM263 471l-8 0-4-4-1-4 1-4 4-5 4-1 4 0 3 2 3 4 0 4-1 4zM411 471l-8 0-4-4-1-4 1-4 4-5 4-1 4 0 5 4 1 4 0 4-2 4z"/>
<path fill="#f7854e" d="M261 215l-6-1-4-5-1-4 2-4 5-4 4 0 4 1 4 5 0 4-1 4-3 3zM409 215l-6-1-4-5-1-4 2-4 5-4 4 0 4 1 4 5 0 4-1 4-3 3zM187 343l-4 0-4-2-3-6 1-4 2-4 6-2 4 0 3 2 3 6 0 4-2 3zM483 343l-6-1-4-5-1-4 2-4 5-4 4 0 4 1 4 5 0 4-1 4-3 3zM263 471l-4 1-4-2-4-5-1-4 2-4 5-4 4 0 4 1 4 5 0 4-1 4zM411 471l-4 1-4-2-4-5-1-4 2-4 5-4 4 0 4 1 4 5 0 4-1 4z"/>
<path fill="#f67d4a" d="M265 213l-6 2-6-3-2-3 0-4 3-6 3-2 4 0 6 3 2 7-2 4zM413 213l-6 2-6-3-2-3 0-4 3-6 3-2 4 0 6 3 2 7-2 4zM187 343l-4 0-3-2-3-6 0-4 2-3 6-3 7 2 3 6-2 7zM483 343l-4 0-3-2-3-6 0-4 2-3 6-3 7 2 3 6-2 7zM261 471l-4 0-4-2-2-6 0-4 2-3 6-3 7 2 3 6-2 7zM409 471l-4 0-4-2-2-6 0-4 2-3 6-3 7 2 3 6-2 7z"/>
<path fill="#f57547" d="M265 213l-6 2-6-3-2-7 3-6 3-2 4 0 4 2 2 2 2 6-2 4zM413 213l-6 2-4-2-3-2-1-6 3-6 3-2 4 0 4 2 2 2 1 6-1 4zM191 341l-6 2-6-3-2-3 0-4 3-6 7-2 4 2 2 2 1 6-1 4zM487 341l-6 2-6-3-2-3 0-4 3-6 7-2 4 2 2 2 1 6-1 4zM259 471l-6-3-2-3 0-4 2-4 2-2 6-1 4 1 2 2 2 6-3 6zM407 471l-6-3-2-3 0-4 2-4 2-2 6-2 4 2 2 2 2 6-3 6z"/>
<path fill="#f46d43" d="M263 214l-6 0-4-3-2-6 2-4 2-2 6-2 4 2 2 2 1 4 0 4zM411 214l-6 0-4-3-2-6 2-4 2-2 6-2 4 2 2 2 1 4 0 4zM189 342l-6 0-4-3-2-6 2-4 2-2 6-1 4 1 2 2 1 4 0 4-3 4zM485 342l-6 0-4-3-2-6 2-4 2-2 6-1 4 1 2 2 1 4 0 4-3 4zM265 469l-6 2-4-2-2-2-2-6 2-4 2-2 6-1 6 3 1 6-1 4zM413 469l-6 2-4-2-2-2-2-6 2-4 2-2 6-1 6 3 1 6-1 4z"/>
<path fill="#f06744" d="M263 213l-6 1-4-3-1-6 1-4 2-2 6-1 4 1 2 3 1 3-1 4zM411 213l-6 1-4-3-1-6 1-4 2-2 6-1 4 1 2 3 1 3-1 4zM189 342l-6 0-4-3-1-6 1-4 2-2 4-1 4 0 4 4 0 7zM485 342l-6 0-4-3-1-6 1-4 2-2 4-1 4 0 4 4 0 7zM263 470l-6 0-4-3-1-2 0-6 5-5 6 1 4 4 1 6zM411 470l-6 0-4-3-1-6 1-4 3-2 3-1 4 1 4 4 0 6z"/>
<path fill="#ec6146" d="M263 213l-6 0-5-4 0-6 5-5 6 1 4 4 0 6zM411 213l-6 0-5-4 0-6 5-5 6 1 4 4 0 6zM189 341l-6 0-5-4 0-6 5-4 6 0 4 4 0 6zM485 341l-6 0-5-4 0-6 5-4 6 0 4 4 0 6zM263 469l-6 1-5-5 1-6 4-4 6 0 4 4 0 6zM411 469l-6 1-5-5 0-6 5-4 6 0 4 4 0 6z"/>
<path fill="#e85b48" d="M261 213l-6-1-3-5 2-6 5-3 6 2 2 5-2 6zM409 213l-6-1-3-5 2-6 5-3 6 2 2 5-2 6zM187 342l-6-2-3-5 2-6 5-2 6 2 2 4-1 6zM483 342l-6-2-3-5 2-6 5-2 6 2 2 4-1 6zM263 469l-6 0-4-4 0-6 4-4 6 0 4 4 0 6zM411 469l-6 0-4-4 0-6 4-4 6 0 4 4 0 6z"/>
<path fill="#e45649" d="M261 213l-6-2-2-4 1-6 5-2 6 2 2 4-2 6zM409 213l-6-2-2-4 1-6 5-2 6 2 2 4-2 6zM187 341l-6-1-2-5 1-6 5-2 6 2 2 4-2 6zM483 341l-6-1-2-5 1-6 5-2 6 2 2 4-2 6zM261 469l-6-1-2-5 2-6 4-2 6 2 2 4-2 6zM409 469l-6-1-2-5 2-6 4-2 6 2 2 4-2 6z"/>
<path fill="#e1504a" d="M263 212l-6 0-3-3-1-6 4-3 6 0 3 3 0 6zM411 212l-6 0-3-3-1-6 4-3 6 0 3 3 0 6zM189 340l-6 0-4-3 1-6 3-3 6 0 3 3 0 6zM485 340l-6 0-4-3 1-6 3-3 6 0 3 3 0 6zM261 469l-6-2-2-4 2-6 4-2 5 2 3 4-2 6zM409 469l-6-2-2-4 2-6 4-2 5 2 3 4-2 6z"/>
<path fill="#dd4a4c" d="M263 212l-6 0-3-3 0-6 3-3 4-1 5 4 0 4zM411 212l-6 0-3-3 0-6 3-3 4-1 5 4 0 4zM189 340l-6 0-3-3 0-6 3-3 4 0 5 3 0 4zM485 340l-6 0-3-3 0-6 3-3 4 0 5 3 0 4zM263 468l-6 0-3-3 0-6 3-3 4 0 4 3 1 6zM411 468l-6 0-3-3-1-4 2-3 2-2 4 0 4 3 1 6z"/>
<path fill="#d9444e" d="M263 211l-4 1-5-3 0-4 1-3 2-2 4 0 4 3 1 4zM411 211l-4 1-5-3 0-4 1-3 2-2 4 0 4 3 1 4zM189 339l-4 1-5-3 0-4 3-5 4 0 4 3 1 4zM485 339l-4 1-5-3 0-4 3-5 4 0 4 3 1 4zM263 468l-4 0-3-1-2-2 0-4 3-4 4-1 4 3 1 4zM411 468l-4 0-3-1-2-2 0-4 3-4 4-1 4 3 1 4z"/>
<path fill="#d53e4f" d="M261 212l-4-1-3-4 1-4 4-3 4 1 2 4 0 4zM409 212l-4-1-3-4 1-4 4-3 4 1 2 4 0 4zM187 340l-4-1-3-4 1-4 4-3 4 1 2 4 0 4zM483 340l-4-1-3-4 1-4 4-3 4 1 2 4 0 4zM263 467l-4 1-4-3-1-4 3-4 4 0 4 2 1 4zM411 467l-4 1-4-3-1-4 3-4 4 0 4 2 1 4z"/>
<path fill="#ce364d" d="M261 211l-4 0-3-4 1-4 4-2 4 1 2 3-1 4zM409 211l-4 0-3-4 1-4 4-2 4 1 2 3-1 4zM187 339l-4 0-3-4 1-4 4-2 4 1 2 3-1 4zM483 339l-4 0-3-4 1-4 4-2 4 1 2 3-1 4zM261 467l-4 0-3-4 1-4 4-2 4 1 2 3-1 4zM409 467l-4 0-3-4 1-4 4-2 4 1 2 3-1 4z"/>
<path fill="#c72f4c" d="M263 210l-4 1-3-2-1-4 2-3 4-1 3 2 1 4zM411 210l-4 1-3-2-1-4 2-3 4-1 3 2 1 4zM185 339l-3-2-1-4 2-3 4-1 3 2 1 4-2 3zM481 339l-3-2-1-4 2-3 4-1 3 2 1 4-2 3zM261 467l-4-1-2-3 1-4 3-2 4 1 2 3-1 4zM409 467l-4-1-2-3 1-4 3-2 4 1 2 3-1 4z"/>
<path fill="#c0274a" d="M263 209l-2 1-4 0-2-3 1-4 3-2 4 2 1 2zM411 209l-2 1-4 0-2-3 1-4 3-2 4 2 1 2zM189 337l-2 1-4 0-2-3 1-4 3-1 4 1 1 4zM485 337l-2 1-4 0-2-3 1-4 3-1 4 1 1 4zM263 465l-2 2-4-1-2-3 2-4 2-1 4 1 1 4zM411 465l-4 2-3-2-1-4 2-2 2-1 4 1 1 4z"/>
<path fill="#ba2048" d="M261 210l-4-1-1-2 1-4 2-1 4 1 1 2-1 3zM409 210l-4-1-1-2 1-4 2-1 4 1 1 2-1 3zM187 338l-4-1-1-2 1-4 2-1 3 1 2 2-1 3zM483 338l-4-1-1-2 1-4 2-1 3 1 2 2-1 3zM261 466l-4-1-1-2 1-4 2-1 3 1 2 2-1 4zM409 466l-4-1-1-2 1-4 2-1 3 1 2 2-1 4z"/>
<path fill="#b31847" d="M261 209l-3 0-2-2 1-3 2-2 3 1 1 2 0 2zM409 209l-3 0-2-2 1-3 2-2 3 1 1 2 0 2zM187 337l-3 0-2-2 1-3 2-1 2 0 2 2 0 2zM483 337l-3 0-2-2 1-3 2-1 2 0 2 2 0 2zM261 465l-3 0-2-2 1-3 2-1 2 0 2 2 0 2zM409 465l-3 0-2-2 1-3 2-1 2 0 2 2 0 2z"/>
<path fill="#ac1045" d="M261 208l-2 1-2-2 0-2 2-2 2 0 1 2zM409 208l-2 1-2-2 0-2 2-2 2 0 1 2zM187 337l-2 0-2-2 0-2 2-2 2 0 1 2 0 2zM483 337l-2 0-2-2 0-2 2-2 2 0 1 2 0 2zM259 465l-2-2 0-2 2-2 2 1 1 3-1 2zM407 465l-2-2 0-2 2-2 2 1 1 3-1 2z"/>
<path fill="#a50944" d="M261 207l-3 0 0-2 1-1 3 1zM409 207l-3 0 0-2 1-1 3 1zM187 336l-3-1 1-3 2 1zM483 336l-3-1 1-3 2 1zM261 464l-2 0-1-1 1-3 2 1zM409 464l-2 0-1-1 1-3 2 1z"/></g>
</g></g>
<path d="M1728.5 367.2A150.0 150.0 0 0 0 1650.6 308.6M1600.8 301.3A150.0 150.0 0 0 0 1532.7 319.4M1473.1 378.5A150.0 150.0 0 0 0 1509.9 567.8M1565.9 596.3A150.0 150.0 0 0 0 1636.2 597.8M1699.3 567.3A150.0 150.0 0 0 0 1753.3 468.0" fill="none" stroke="#5e4fa2" stroke-width="4.8" stroke-dasharray="24.6 20.7"/>
<text transform="translate(1622.7 305.1) rotate(4.5)" y="7.7" font-size="21.7" text-anchor="middle" font-family="'Liberation Sans',Arial,Helvetica,sans-serif" fill="#000" stroke="#000" stroke-width="1">0.45857</text>
<text transform="translate(1493.3 352.9) rotate(-26.8)" y="7.7" font-size="21.7" text-anchor="middle" font-family="'Liberation Sans',Arial,Helvetica,sans-serif" fill="#000" stroke="#000" stroke-width="1">0.45857</text>
<text transform="translate(1741.5 404.1) rotate(56)" y="7.7" font-size="21.7" text-anchor="middle" font-family="'Liberation Sans',Arial,Helvetica,sans-serif" fill="#000" stroke="#000" stroke-width="1">0.45857</text>
<text transform="translate(1542.5 586.0) rotate(13.5)" y="7.7" font-size="21.7" text-anchor="middle" font-family="'Liberation Sans',Arial,Helvetica,sans-serif" fill="#000" stroke="#000" stroke-width="1">0.45857</text>
<text transform="translate(1673.2 580.1) rotate(-15.2)" y="7.7" font-size="21.7" text-anchor="middle" font-family="'Liberation Sans',Arial,Helvetica,sans-serif" fill="#000" stroke="#000" stroke-width="1">0.45857</text>
<line x1="1270.8" y1="117.2" x2="1270.8" y2="785.3" stroke="#262626" stroke-width="0.8" opacity="0.75"/>
<text x="1373.98" y="846.30" font-size="48" text-anchor="middle" font-family="'Liberation Sans',Arial,Helvetica,sans-serif" fill="#262626" stroke="#262626" stroke-width="0.6">-0.02</text>
<text x="1257.00" y="699.72" font-size="48" text-anchor="end" font-family="'Liberation Sans',Arial,Helvetica,sans-serif" fill="#262626" stroke="#262626" stroke-width="0.6">-0.02</text>
<text x="1489.06" y="846.30" font-size="48" text-anchor="middle" font-family="'Liberation Sans',Arial,Helvetica,sans-serif" fill="#262626" stroke="#262626" stroke-width="0.6">-0.01</text>
<text x="1257.00" y="584.64" font-size="48" text-anchor="end" font-family="'Liberation Sans',Arial,Helvetica,sans-serif" fill="#262626" stroke="#262626" stroke-width="0.6">-0.01</text>
<text x="1604.15" y="846.30" font-size="48" text-anchor="middle" font-family="'Liberation Sans',Arial,Helvetica,sans-serif" fill="#262626" stroke="#262626" stroke-width="0.6">0</text>
<text x="1257.00" y="469.55" font-size="48" text-anchor="end" font-family="'Liberation Sans',Arial,Helvetica,sans-serif" fill="#262626" stroke="#262626" stroke-width="0.6">0</text>
<text x="1719.24" y="846.30" font-size="48" text-anchor="middle" font-family="'Liberation Sans',Arial,Helvetica,sans-serif" fill="#262626" stroke="#262626" stroke-width="0.6">0.01</text>
<text x="1257.00" y="354.46" font-size="48" text-anchor="end" font-family="'Liberation Sans',Arial,Helvetica,sans-serif" fill="#262626" stroke="#262626" stroke-width="0.6">0.01</text>
<text x="1834.32" y="846.30" font-size="48" text-anchor="middle" font-family="'Liberation Sans',Arial,Helvetica,sans-serif" fill="#262626" stroke="#262626" stroke-width="0.6">0.02</text>
<text x="1257.00" y="239.38" font-size="48" text-anchor="end" font-family="'Liberation Sans',Arial,Helvetica,sans-serif" fill="#262626" stroke="#262626" stroke-width="0.6">0.02</text>
<text x="1602.75" y="910.80" font-size="52.7" text-anchor="middle" font-family="'Liberation Sans',Arial,Helvetica,sans-serif" fill="#262626" stroke="#262626" stroke-width="0.6">X [m]</text>
<text x="0.00" y="0.00" font-size="52.7" text-anchor="middle" font-family="'Liberation Sans',Arial,Helvetica,sans-serif" fill="#262626" stroke="#262626" stroke-width="0.6" transform="translate(1131.0 453.2) rotate(-90)">Y [m]</text>
<rect x="1952.05" y="117.60" width="31.10" height="667.30" fill="url(#cbg)" stroke="#262626" stroke-width="1.7"/>
<text x="1994.40" y="802.30" font-size="44.5" text-anchor="start" font-family="'Liberation Sans',Arial,Helvetica,sans-serif" fill="#262626" stroke="#262626" stroke-width="0.6">0</text>
<line x1="1975.40" y1="549.66" x2="1982.90" y2="549.66" stroke="#262626" stroke-width="1.4"/>
<text x="1994.40" y="567.26" font-size="44.5" text-anchor="start" font-family="'Liberation Sans',Arial,Helvetica,sans-serif" fill="#262626" stroke="#262626" stroke-width="0.6">5</text>
<line x1="1975.40" y1="314.63" x2="1982.90" y2="314.63" stroke="#262626" stroke-width="1.4"/>
<text x="1994.40" y="332.23" font-size="44.5" text-anchor="start" font-family="'Liberation Sans',Arial,Helvetica,sans-serif" fill="#262626" stroke="#262626" stroke-width="0.6">10</text>
<text x="1985.50" y="101.70" font-size="44.5" font-family="'Liberation Sans',Arial,Helvetica,sans-serif" fill="#262626" stroke="#262626" stroke-width="0.6"><tspan font-size="50.5" dy="6.4" stroke-width="0">×</tspan><tspan dy="-6.4" dx="-0.6">10</tspan><tspan dy="-19.8" dx="-0.2" font-size="35.8">4</tspan></text>
<text x="0.00" y="0.00" font-size="54.3" text-anchor="middle" font-family="'Liberation Sans',Arial,Helvetica,sans-serif" fill="#0d0d0d" stroke="#0d0d0d" stroke-width="0.6" transform="translate(2043.2 473.3) rotate(90)">A.U.</text>
<text x="1181.50" y="66.60" font-size="64.8" text-anchor="start" font-family="'Liberation Serif','Times New Roman',Times,serif" fill="#000" font-weight="bold">(b)</text>
<g clip-path="url(#cpc)"><g filter="url(#cmc)">
<rect x="192.8" y="997.2" width="691.0" height="690.6" fill="#5e4fa2"/>
<g transform="translate(204.8 1009.2)"><path fill="#5b53a4" d="M335 589l-10-1-12-4-8-4-7-5-7-8-5-8-3-10-2-14-6-6-42-21-38-25-6-3-4 0-16 8-14 2-18-3-10-5-10-9-9-10-5-14-1-14 2-14 6-14 9-10 22-15 4-7 1-12-1-30 1-28-1-12-2-6-3-4-17-11-9-7-4-6-4-8-4-12 0-10 2-12 4-14 9-10 8-7 8-4 10-4 10-1 10 0 8 3 14 6 4 0 8-3 34-23 45-23 5-6 2-14 4-10 10-14 7-6 8-4 9-3 12-3 12 2 10 4 8 4 7 6 10 14 4 10 2 14 5 6 42 21 38 25 10 3 18-8 12-1 18 3 10 4 10 8 10 11 5 16 1 12-1 12-7 16-9 10-18 12-5 4-2 6-2 12 1 30-1 30 1 12 3 6 2 2 24 17 4 5 5 8 4 12 1 10-1 14-5 14-8 9-10 9-8 4-10 3-10 2-10-1-8-2-14-7-10 3-34 23-38 19-10 6-3 4-2 14-2 8-5 8-6 8-7 6-7 4-10 4z"/>
<path fill="#5856a5" d="M337 581l-4 2-8-4-16-12-9-12-6-20-6-6-9-6-42-21-38-25-12-6-10-2-16 5-10 1-10-1-10-4-8-3-8-6-1-2-1-10 2-16 5-14 7-9 16-13 5-8 4-14 1-22 0-48-3-22-5-11-19-17-8-10-3-8-1-10-1-10 1-10 11-8 18-7 14 0 22 6 8-2 10-5 38-25 42-21 10-6 7-8 6-18 6-10 13-12 14-7 12 5 14 12 8 12 6 18 5 6 9 6 42 21 38 25 14 7 10 1 14-4 10-2 10 1 10 4 10 5 8 6 1 10-2 18-5 12-6 8-18 16-4 6-4 16-1 20 0 48 3 23 2 6 3 5 19 16 8 12 3 8 2 10 0 10-1 8-4 4-8 5-18 7-14 0-18-6-4 0-8 2-8 4-40 27-40 19-12 8-7 8-5 16-6 10-12 12z"/>
<path fill="#565aa7" d="M335 576l-2 0-8-4-12-11-5-8-7-18-10-10-13-8-41-21-38-25-12-6-10-2-6 0-18 5-12-1-10-4-10-5-2-1 0-4 1-14 4-12 7-9 16-16 4-7 4-15 2-21 0-56-4-24-2-7-4-7-16-16-7-10-4-14-1-14 1-2 13-7 10-3 12 0 16 4 6 1 10-3 10-4 40-26 40-21 15-9 9-10 6-16 7-10 8-8 11-7 10 6 10 9 7 10 6 16 9 10 16 10 38 19 38 25 12 6 10 3 6 0 18-5 14 1 10 4 10 5 1 4-2 16-4 12-6 8-15 14-6 10-4 20-1 16 0 54 4 24 5 14 18 18 6 9 4 13 1 16-13 7-10 3-12 0-22-4-10 2-13 6-39 26-40 20-16 10-7 8-6 16-6 10-8 8z"/>
<path fill="#535da9" d="M333 571l-8-5-7-7-5-8-7-16-4-6-7-6-16-10-40-21-36-23-12-6-12-4-8-1-16 4-10 0-10-2-11-5-1-2 1-10 4-12 6-8 16-18 3-6 3-10 3-20 0-66-1-18-5-18-5-8-13-14-6-8-4-12-2-12 2-2 8-4 12-2 10 0 16 3 8 0 12-4 13-7 35-23 38-19 18-12 7-6 5-6 6-16 6-8 6-6 8-6 8 5 7 7 6 8 7 17 11 11 18 12 37 19 36 23 16 8 10 3 8 0 16-3 10 0 12 3 7 3 2 2-2 14-4 10-6 8-13 14-6 10-4 17-1 17 0 66 3 21 6 15 16 18 6 8 4 12 0 12-10 5-12 2-8 0-16-4-8 1-12 4-13 6-39 25-34 17-19 12-7 6-4 6-7 16-5 8-8 8z"/>
<path fill="#5061aa" d="M333 567l-11-10-13-24-12-12-19-12-37-19-36-23-16-8-12-4-8 0-24 3-8-2-9-3-1-2 1-6 3-10 5-8 17-20 3-8 3-11 2-16-1-39 1-34-1-16-5-19-5-9-13-14-5-8-3-8-2-10 6-4 12-2 24 3 8-1 12-3 14-7 36-23 40-21 19-12 12-12 8-18 4-6 11-10 6 4 6 6 5 8 7 16 12 12 19 12 37 19 38 25 14 6 12 4 10 1 14-3 10 0 12 3 5 3-2 10-3 8-5 8-13 14-4 8-6 21-1 15 0 74 3 18 2 9 4 8 16 19 5 8 3 10 1 6-1 2-8 3-10 2-22-3-8 0-13 4-17 8-36 23-40 21-15 10-12 12-13 24-6 6z"/>
<path fill="#4e64ac" d="M333 564l-10-11-12-22-12-12-16-10-40-21-40-25-16-8-12-3-8 0-22 2-14-3 0-6 4-10 20-26 6-20 1-14 0-42 0-38-1-17-5-17-5-10-16-20-5-14 3-2 10-2 24 2 8 0 12-4 14-6 42-27 41-21 15-10 13-12 12-22 9-10 4 3 6 7 12 22 13 12 15 10 40 21 42 26 14 7 12 3 8 1 24-2 10 1 4 3-5 14-17 22-4 7-5 19-1 16 0 38 0 42 1 16 3 10 4 10 20 26 3 8 0 6-7 2-8 1-20-2-8 0-12 3-14 6-42 27-41 21-16 10-12 12-14 24-5 6z"/>
<path fill="#4b68ae" d="M335 559l-2 1-3-3-4-6-11-20-15-14-13-8-44-23-43-27-13-6-14-4-8 0-20 2-12-2 5-12 15-20 4-8 6-20 1-14-1-42 1-44-1-12-4-14-3-8-17-24-6-12 2-2 8-1 22 2 10-1 14-4 12-6 42-27 41-21 16-10 15-14 11-20 7-8 7 6 13 23 14 13 12 8 44 23 42 27 13 6 13 4 10 1 22-2 9 1 2 2-6 12-14 18-5 10-4 16-2 16 1 42-1 44 2 16 6 19 18 25 4 8 0 4-12 2-20-2-8 0-13 4-13 6-42 27-45 23-13 8-15 14-11 20z"/>
<path fill="#486cb0" d="M335 555l-2 2-1-2-15-24-14-14-13-8-45-24-48-30-12-5-12-3-8-1-20 2-8-1 4-10 13-18 5-9 4-15 2-16-1-46 1-46-1-14-3-11-4-10-16-23-4-9 8-2 20 2 8 0 12-3 14-7 48-30 41-21 13-8 15-14 17-27 5 5 13 22 15 14 13 8 44 23 46 29 12 5 12 4 10 0 20-2 6 1 1 2-5 10-16 22-3 10-3 12-1 104 1 14 5 18 5 9 13 17 4 10-9 1-18-2-10 1-14 4-12 6-46 29-44 23-13 8-14 14z"/>
<path fill="#456fb1" d="M335 552l-2 1-15-24-7-8-8-6-58-31-48-31-12-5-12-3-10-1-18 2-5-1 4-8 13-18 4-8 4-16 1-12-1-111-6-20-17-25-2-4 1-2 24 1 8 0 12-3 13-6 49-31 44-23 13-8 7-6 8-8 14-23 3 3 13 21 14 13 13 8 45 23 48 31 12 5 12 4 10 0 21-1 3 2-18 27-4 9-3 12-1 12 1 50-1 50 1 14 5 16 20 32-6 1-18-2-8 1-12 3-12 5-50 31-47 25-13 8-14 14z"/>
<path fill="#4273b3" d="M333 549l-12-20-8-8-7-6-61-33-49-31-11-5-12-3-30 0 18-28 5-16 1-14-1-50 1-52-1-12-2-12-4-10-16-24 1-2 20 1 10-1 12-3 10-5 48-31 62-33 7-6 7-8 12-20 2 2 12 20 13 12 61 33 49 31 11 5 12 3 10 1 18-1 2 1-1 3-15 23-4 9-2 11-1 13 1 52-1 50 1 12 4 16 4 8 15 22-21-1-9 1-13 3-10 5-52 33-58 31-13 12-13 21z"/>
<path fill="#4076b5" d="M333 546l-12-19-13-12-61-33-52-33-10-5-12-3-26 0 12-18 4-8 4-14 1-12-2-54 1-66-2-10-4-11-14-21 2-2 16 1 10-1 12-4 10-5 48-30 64-35 13-12 11-18 14 20 11 10 61 33 52 33 10 5 12 3 10 1 16 0 1 1-15 23-5 19-1 14 2 52-2 54 1 12 4 14 16 26-17-1-10 1-12 4-10 5-52 32-60 33-13 12-11 17z"/>
<path fill="#3d7ab6" d="M333 542l-10-15-12-12-64-35-50-31-12-6-10-3-10-1-15 0 10-16 4-8 3-12 2-12-2-58 1-64-2-10-3-10-12-21 2-1 12 1 10-1 10-3 10-5 52-33 62-33 13-12 11-17 14 19 11 10 61 33 52 32 10 5 10 3 10 2 14-1 1 2-11 18-4 10-2 10 0 16 1 52-2 56 1 10 4 14 4 9 10 15-24 1-10 2-10 5-52 33-65 35-11 10z"/>
<path fill="#3a7db8" d="M335 537l-2 2-10-15-13-11-61-33-56-35-9-4-9-3-21-1 8-14 4-8 3-12 0-10-2-60 2-66-4-17-11-19 1-2 12 0 10-1 8-3 12-6 52-33 62-33 11-10 11-15 12 15 11 10 65 35 50 32 16 7 12 2 12 0 2 2-10 17-3 9-2 10 2 66-2 60 0 10 3 12 4 8 9 14-23 2-8 2-12 6-52 33-62 33-12 10z"/>
<path fill="#3881ba" d="M333 536l-9-13-12-10-65-35-52-33-10-5-8-3-21-2 7-11 4-9 2-10 1-10-2-62 2-68-4-16-9-18 20-2 8-2 10-6 52-33 66-35 11-10 9-12 11 14 10 8 65 35 54 34 10 5 8 2 20 2-10 18-3 12-1 10 2 62-2 68 4 17 9 17-21 3-16 7-56 35-62 33-10 8z"/>
<path fill="#3584bb" d="M333 533l-9-12-10-8-65-35-56-35-14-6-8-2-10-1-2-1 8-14 4-18-3-68 3-64-1-8-2-10-3-8-6-10 20-3 15-7 55-35 66-35 9-8 9-12 10 12 9 8 65 35 56 35 16 7 19 3-9 18-2 10-1 8 3 64-3 68 3 16 9 16-3 1-10 1-8 2-14 6-54 35-66 35-10 8z"/>
<path fill="#3288bd" d="M335 529l-2 2-7-10-10-8-67-35-56-36-14-7-16-2-1-2 7-14 3-14-3-70 3-66-3-17-7-15 1-1 16-3 14-6 58-37 66-35 9-8 7-9 10 11 7 6 67 35 57 37 13 6 16 3 2 1-7 16-3 16 3 66-3 70 4 16 6 12-2 2-16 3-12 5-58 37-66 35-10 8z"/>
<path fill="#358cbc" d="M333 528l-8-9-7-6-67-35-58-37-14-7-15-3 7-16 1-14-3-68 3-70-2-12-6-16 14-2 13-6 58-37 69-37 8-6 7-9 8 9 8 6 70 37 56 37 14 6 14 2-6 15-2 13 3 70-3 68 2 16 7 14-17 3-12 6-56 36-70 37-7 6z"/>
<path fill="#388fba" d="M333 526l-6-7-8-6-70-37-58-38-10-4-14-4-1-1 5-12 2-12-4-72 4-70-2-14-5-12 15-4 10-5 58-38 71-37 8-6 5-7 14 13 70 37 60 39 10 4 14 4-5 12-2 14 4 70-4 72 2 12 5 12-2 2-14 3-10 5-60 39-67 35z"/>
<path fill="#3c93b8" d="M333 524l-4-5-8-6-72-38-58-38-12-5-11-3 5-14 1-10-4-72 4-72-2-10-4-12 1-2 10-2 12-6 60-39 71-37 11-11 12 11 72 38 60 39 10 5 11 2 1 2-4 10-2 12 4 72-4 72 2 12 5 12-13 3-10 5-60 39-71 37z"/>
<path fill="#3f96b7" d="M335 521l-2 1-10-9-72-37-62-41-10-4-8-2-2-2 4-10 2-10-5-74 5-72-2-10-4-12 12-4 8-4 56-37 75-39 6-4 7-7 14 11 72 37 58 39 8 4 13 4-4 12-2 10 5 72-5 74 1 8 5 12-1 1-10 3-10 5-58 38-75 39z"/>
<path fill="#429ab6" d="M335 520l-2 1-9-8-75-39-62-41-16-6 3-10 1-10-5-74 5-76-4-18 8-2 10-5 58-38 75-39 11-9 12 9 72 37 62 41 8 4 8 2 1 2-4 12 0 8 5 72-5 74 0 8 4 12-17 7-60 40-73 37z"/>
<path fill="#469eb4" d="M333 519l-11-8-69-35-22-14-42-29-16-7 2-11 1-8-5-74 5-72 0-8-4-12 1-1 16-7 62-41 72-37 10-7 11 7 73 37 60 41 18 8-3 10-1 8 5 74-5 72 1 10 2 10-1 2-14 6-62 41-72 37z"/>
<path fill="#49a1b2" d="M333 518l-9-7-73-37-22-14-40-28-15-7 2-10 1-8-5-54-1-20 1-18 5-56-1-8-2-10 15-7 40-28 22-14 74-37 8-6 9 6 73 37 22 14 42 29 14 6-2 10-1 8 6 74-6 74 1 8 2 11-14 6-44 30-22 14-70 35z"/>
<path fill="#4ca5b1" d="M335 515l-2 1-8-5-70-35-22-14-46-32-12-5 2-10 0-8-6-72 1-20 5-52 0-12-2-8 2-2 12-6 42-29 22-14 73-37 7-5 82 42 22 14 42 30 12 5 1 2-2 8 0 10 5 50 1 22-1 22-5 52 0 8 2 10-13 6-42 29-22 14-73 37z"/>
<path fill="#4fa9b0" d="M333 515l-80-41-22-14-44-31-10-5-1-1 2-10-1-16-4-40-1-24 0-18 6-56 0-8-2-8 11-6 44-31 20-13 77-38 5-4 80 41 22 13 44 32 12 6-2 8 0 8 5 52 1 22-1 22-5 52 0 8 2 8-2 2-10 5-42 30-22 14z"/>
<path fill="#52acae" d="M335 513l-2 1-80-40-22-14-44-31-10-6 2-8-1-14-5-42-1-24 1-28 5-48 0-8-1-8 10-5 42-30 22-14 82-41 80 39 22 14 46 33 9 4-2 10 1 14 5 46 1 20-1 22-5 44-1 16 2 8-1 1-10 5-40 29-22 14z"/>
<path fill="#56b0ac" d="M333 513l-82-41-22-14-42-30-9-5 1-8-1-14-4-42-2-26 2-26 4-40 1-24 8-4 46-33 18-12 82-41 82 41 22 14 44 32 7 3 1 2-1 8 1 16 5 44 1 20-1 20-5 46-1 16 1 8-8 4-46 33-22 14z"/>
<path fill="#59b4ab" d="M335 512l-2 0-82-40-71-49-1-2 0-22-5-40-2-24 2-26 5-42 0-22 70-49 18-10 66-32 62 29 20 11 18 11 54 39 1 1-1 6 1 18 6 44 1 20-1 18-5 44-1 26-1 2-56 39-18 12z"/>
<path fill="#5cb7aa" d="M335 511l-2 1-78-38-22-14-52-38-1-1-1-25-5-39-1-22 1-26 5-42 1-22 69-49 18-10 66-31 62 29 20 10 18 12 54 39 0 20 6 48 1 20-1 20-5 48-1 20-50 37-22 14-18 10z"/>
<path fill="#60bba8" d="M337 510l-4 1-78-37-24-16-50-37-1-24-6-42-1-20 1-24 6-42 1-24 56-41 16-10 80-38 62 28 20 11 18 11 53 39 1 20 5 40 2 26-1 20-6 48-1 22-53 39-18 12-18 9z"/>
<path fill="#63bea6" d="M335 510l-2 0-10-4-70-34-22-14-49-37-2-24-6-42-1-20 1-24 8-66 53-39 18-12 16-8 64-30 66 30 18 10 18 12 50 37 7 62 2 26-1 24-6 40-2 24-52 39-18 12-20 10z"/>
<path fill="#66c2a5" d="M335 509l-2 1-8-4-56-26-16-8-18-12-52-39-3-24-6-42-1-20 1-24 9-66 50-37 18-12 18-10 64-29 60 27 20 10 22 14 49 37 1 2 2 22 5 38 2 26-2 26-5 36-3 26-51 39-18 11-16 9z"/>
<path fill="#6fc5a5" d="M337 508l-4 1-76-35-22-14-51-39-1-2-2-22-6-36-1-26 1-22 6-44 2-22 50-39 18-12 18-9 64-29 64 28 16 8 18 12 52 40 1 1 2 20 6 40 1 24-1 28-6 40-2 20-1 2-48 37-18 12-18 10z"/>
<path fill="#77c9a5" d="M335 507l-2 1-32-15-28-12-18-9-22-14-48-38-1-1-2-20-6-38-2-26 2-28 6-38 2-22 47-37 20-13 20-11 32-13 30-14 62 27 20 10 18 12 50 39 2 20 7 42 1 24-1 24-7 42-2 20-46 37-20 13-20 11-31 13z"/>
<path fill="#80cca5" d="M337 505l-4 2-29-14-33-13-16-8-22-15-48-38-2-19-7-41-2-24 2-28 10-60 47-38 20-13 18-9 34-14 28-13 34 15 28 11 20 11 20 13 46 37 10 58 2 26-2 26-7 42-2 20-47 38-20 13-18 10-34 13z"/>
<path fill="#88d0a4" d="M335 505l-2 1-27-13-29-11-22-11-22-14-47-38-9-58-2-26 2-28 7-40 2-18 1-2 46-37 20-14 20-10 34-13 26-12 27 12 35 14 20 10 20 14 45 36 1 2 2 18 7 36 2 30-2 28-9 58-46 37-20 14-20 10-34 13z"/>
<path fill="#91d3a4" d="M337 503l-4 2-25-12-35-13-18-9-24-16-43-36-1-2-3-18-6-34-3-30 2-28 8-40 2-18 44-37 22-15 20-10 36-14 24-11 25 11 35 13 21 11 23 16 42 35 1 1 2 18 7 36 3 28-2 32-7 36-3 18-1 2-43 36-21 14-20 11-36 13z"/>
<path fill="#9ad6a4" d="M335 503l-2 1-23-11-33-12-24-12-21-14-43-36-1-2-3-19-7-33-2-30 1-28 8-38 3-20 42-36 24-16 21-11 37-13 21-10 22 10 38 14 20 10 24 16 42 36 10 56 2 28-2 30-10 55-42 35-23 16-23 12-34 12z"/>
<path fill="#a2daa4" d="M337 501l-4 2-21-10-34-12-21-10-24-16-44-37-10-53-3-30 2-32 11-54 39-34 23-16 24-12 39-14 19-9 20 9 35 12 25 12 23 16 42 36 11 56 2 26-2 30-8 38-3 18-41 36-23 16-25 12-34 12z"/>
<path fill="#abdda4" d="M335 501l-2 1-18-9-36-12-25-12-23-16-41-36-11-52-3-30 1-18 2-15 8-37 2-14 2-2 38-34 26-18 24-12 37-12 17-8 18 8 36 12 26 13 25 17 39 35 11 53 3 30-3 30-11 54-38 34-26 18-24 12-37 12z"/>
<path fill="#b2e0a2" d="M335 500l-2 0-16-7-34-11-28-13-26-18-38-34-1-2-11-50-2-30 2-32 12-53 39-35 25-17 26-13 37-12 15-7 16 7 38 13 28 13 25 18 37 34 10 48 3 18 0 16-1 18-2 17-10 47-1 2-38 34-25 17-26 13-37 12z"/>
<path fill="#bae3a1" d="M333 499l-14-6-40-13-24-11-15-10-13-10-36-34-11-52-3-30 3-30 11-52 37-34 27-19 26-12 40-13 12-6 13 6 41 13 26 13 26 18 37 34 11 48 2 17 1 17-1 18-2 16-12 49-35 33-27 19-26 13-39 12z"/>
<path fill="#c1e6a0" d="M335 498l-2 0-12-5-36-11-16-7-14-7-14-9-13-10-35-33-12-45-2-18-1-18 0-16 2-18 12-50 37-34 26-18 26-13 42-13 10-5 11 5 41 13 26 12 14 9 13 10 36 34 12 48 2 16 1 18 0 18-3 16-11 48-36 34-26 18-26 13-41 13z"/>
<path fill="#c8e99e" d="M337 495l-4 2-9-4-31-9-18-6-16-8-16-10-14-11-36-34-11-46-3-18-1-16 1-18 2-18 12-46 1-2 35-33 26-19 28-13 42-13 8-3 52 16 26 12 14 9 14 11 34 33 1 2 11 44 3 16 1 18-1 18-2 18-12 48-36 34-25 18-28 13z"/>
<path fill="#d0ec9c" d="M335 495l-2 1-8-3-38-11-16-7-16-8-14-9-14-11-33-32-12-44-2-18-2-18 1-18 3-20 11-44 2-2 33-32 13-10 15-10 27-13 42-12 8-3 50 15 28 13 14 9 14 11 34 33 12 47 3 16 1 18-1 18-3 16-12 48-36 34-12 10-14 9-14 7-16 6z"/>
<path fill="#d7ef9b" d="M337 493l-4 2-36-11-30-11-26-16-24-20-23-24-12-44-2-16-1-18 1-18 3-20 12-45 34-33 12-10 16-10 28-13 48-14 46 13 15 6 16 8 15 9 13 11 35 34 12 47 3 31-1 18-2 18-12 46-2 2-32 32-12 10-16 10-15 8-15 6z"/>
<path fill="#dff29a" d="M335 493l-2 1-38-11-27-10-15-8-12-8-12-10-13-12-21-22-12-44-3-16-1-18 1-18 3-18 12-46 32-32 12-10 16-10 14-8 16-7 48-13 44 12 25 10 26 16 24 22 20 20 0 2 12 44 3 18 1 16-1 17-3 17-12 46-19 20-24 22-26 16-26 11z"/>
<path fill="#e6f598" d="M337 491l-4 1-34-8-16-5-14-6-15-8-12-8-23-20-23-24-9-29-4-17-2-16-1-16 0-18 3-17 13-45 19-22 13-12 12-10 26-16 25-10 42-11 42 11 26 10 26 16 23 20 21 24 12 40 3 18 1 18 0 18-3 20-13 44-17 18-24 22-14 10-14 8-25 10z"/>
<path fill="#e9f69d" d="M335 491l-2 0-36-8-27-10-15-8-12-8-24-20-23-26-12-40-3-20-1-16 1-18 2-15 4-17 9-30 20-22 12-12 13-10 26-16 26-10 40-10 42 10 25 10 14 8 12 8 23 20 22 24 12 42 3 18 1 18-1 20-3 17-12 41-21 24-23 20-26 16-26 10z"/>
<path fill="#ecf8a2" d="M339 489l-6 1-26-5-15-4-16-6-27-14-13-10-12-10-27-30-12-39-3-17-1-18 0-18 4-22 4-17 8-24 20-23 22-20 15-10 14-8 26-10 39-9 40 9 26 10 24 14 23 20 24 26 9 28 4 17 2 13 1 18-1 20-2 16-4 16-9 28-19 22-22 20-15 10-14 8-25 10z"/>
<path fill="#eff9a7" d="M335 489l-34-6-28-10-16-8-13-8-23-20-23-26-9-26-4-16-2-14-2-20 1-20 3-18 4-15 9-25 21-25 24-21 12-8 14-8 27-10 37-8 38 8 27 10 24 14 23 20 24 27 12 37 4 23 1 15-1 18-2 15-8 30-6 17-20 23-24 21-12 8-14 8-26 10z"/>
<path fill="#f2faac" d="M341 487l-8 1-20-3-17-4-17-6-27-14-15-10-11-10-13-13-14-18-12-35-4-21-1-17 1-20 2-17 8-28 7-17 18-22 13-12 13-10 12-8 15-8 27-10 35-7 36 7 23 8 16 8 13 8 22 18 13 14 12 16 9 24 4 15 4 31 0 16-2 18-6 25-9 25-17 20-12 12-12 10-26 16-13 6-17 6z"/>
<path fill="#f6fbb0" d="M335 487l-18-2-18-4-28-10-24-14-24-20-23-26-3-8-10-31-3-21-1-16 0-14 2-17 4-17 6-18 6-14 20-24 24-20 12-8 16-8 28-10 32-6 33 6 28 10 25 14 14 10 12 11 21 25 5 11 6 17 4 16 2 12 1 20 0 18-3 18-8 28-6 16-20 23-11 11-13 10-12 8-15 8-28 10z"/>
<path fill="#f9fcb5" d="M343 485l-10 1-14-2-17-3-19-6-14-6-14-8-15-10-12-10-15-16-13-16-11-32-4-20-1-18 1-30 4-19 4-13 8-20 18-22 12-12 13-10 12-8 14-8 27-10 17-4 19-3 30 5 14 4 15 6 13 6 16 10 22 19 20 23 6 10 10 31 3 17 1 16-1 30-3 16-4 14-8 22-16 20-12 12-12 10-25 16-13 6-17 6z"/>
<path fill="#fcfeba" d="M337 485l-12-1-19-3-15-4-16-6-26-15-24-19-12-13-10-13-6-13-6-17-4-16-3-30 1-16 2-16 8-29 7-17 19-23 11-11 13-10 26-15 29-11 17-4 16-2 28 5 14 3 16 6 15 8 13 8 13 10 11 10 12 13 10 13 6 14 8 28 3 16 1 16-3 30-7 29-8 20-18 22-12 11-12 10-26 15-28 11-17 4z"/>
<path fill="#ffffbf" d="M345 483l-12 1-12-1-20-4-16-5-14-6-14-8-12-8-14-11-18-18-10-14-2-4-6-15-5-17-3-16-2-16 2-30 6-30 10-24 16-20 12-12 12-9 26-16 14-6 18-6 32-6 30 5 28 9 14 7 14 9 23 19 19 22 4 6 3 8 10 30 4 30-2 28-6 28-10 26-13 17-22 21-12 9-14 8-28 12z"/>
<path fill="#fffbb8" d="M337 483l-10 0-18-3-16-4-16-6-26-15-12-8-12-11-20-23-4-6-4-8-9-30-3-16-1-16 2-30 8-30 8-20 18-22 23-20 13-8 15-8 16-7 14-4 30-5 30 5 16 5 14 5 26 15 12 9 12 11 20 24 6 14 9 30 3 30-2 30-8 30-8 18-18 22-23 20-13 9-14 7-28 11z"/>
<path fill="#fff7b2" d="M345 481l-12 1-12-1-18-4-16-4-14-6-15-8-13-9-12-10-17-17-13-18-6-16-5-16-3-16-2-16 0-16 2-16 7-30 8-20 18-22 11-11 12-10 14-9 14-7 14-6 16-5 30-5 30 5 28 9 26 15 22 18 19 22 5 6 3 8 10 30 3 16 1 14-1 28-7 28-9 24-14 18-22 21-12 9-13 8-27 11z"/>
<path fill="#fff3ac" d="M337 481l-10 0-18-3-16-4-14-6-14-6-14-9-23-18-19-22-4-6-4-9-6-17-4-14-2-15-1-15 2-30 7-28 8-20 18-22 23-20 12-8 15-8 28-10 16-4 16-2 30 5 28 9 26 15 23 19 20 24 7 14 9 30 2 16 1 14-1 16-1 14-8 29-8 18-18 22-22 20-26 15-28 11z"/>
<path fill="#fef0a5" d="M345 479l-12 1-14-1-16-4-16-4-14-6-14-8-24-17-16-17-14-19-6-15-5-16-3-16-2-16 1-30 7-28 10-24 16-20 12-12 12-10 26-15 14-6 14-4 16-4 16-2 30 5 26 9 26 14 22 17 17 20 6 8 4 8 10 28 3 16 1 14-1 28-6 28-10 26-13 16-21 21-12 9-14 8-26 11-14 4z"/>
<path fill="#feec9e" d="M335 479l-28-4-28-9-14-6-14-9-22-18-11-12-9-12-8-16-8-28-2-14-1-16 0-16 2-14 8-28 8-18 19-23 22-19 16-10 12-6 28-9 28-4 30 4 27 9 27 15 22 19 11 12 9 12 7 16 8 28 3 28 0 16-2 14-8 28-8 18-18 23-22 19-12 8-16 8-26 9z"/>
<path fill="#fee898" d="M343 477l-10 1-16-2-16-3-14-4-14-6-14-8-12-8-12-10-19-20-7-10-4-8-10-28-3-14-1-16 1-30 7-28 9-22 17-22 10-10 13-10 27-16 14-6 14-4 30-4 28 3 27 9 25 14 23 18 17 20 6 8 5 10 9 28 3 28-1 28-7 28-9 22-15 20-21 20-26 16-26 11z"/>
<path fill="#fee492" d="M351 475l-16 2-8-1-16-2-16-4-26-10-14-9-12-8-19-18-15-20-6-14-5-14-4-16-2-14 1-30 5-28 11-27 14-19 10-10 12-11 12-8 16-9 26-10 14-3 16-2 10 0 16 2 14 3 14 5 26 13 22 17 16 17 13 18 6 14 4 14 5 28 0 28-5 26-5 14-6 14-11 16-19 20-22 15-14 8-14 6z"/>
<path fill="#fee08b" d="M343 475l-10 1-16-2-14-2-16-5-26-13-12-8-12-9-18-20-9-12-4-8-5-12-4-16-3-14-1-14 1-28 6-28 11-24 17-22 21-19 28-16 14-5 14-4 28-4 26 3 26 8 26 14 22 17 19 22 10 18 9 26 3 28-1 30-7 26-9 22-15 20-21 19-26 16-26 10z"/>
<path fill="#feda86" d="M351 473l-16 2-10-1-16-2-14-4-26-10-24-16-18-17-17-22-10-26-4-14-2-14 0-30 2-14 3-14 11-26 14-20 9-10 12-11 12-8 14-8 26-10 28-6 10 0 16 1 26 7 14 6 12 6 12 7 12 10 16 16 13 18 6 12 6 16 5 26 0 26-4 26-8 26-6 10-6 10-9 10-11 11-22 16-14 8-14 6-14 4z"/>
<path fill="#fed480" d="M345 473l-12 1-14-1-14-3-14-4-24-11-14-8-12-9-18-19-9-12-6-10-5-14-5-14-3-26 1-30 2-14 4-14 10-22 16-22 21-19 12-7 16-9 14-6 14-4 26-3 14 0 14 3 26 8 26 14 20 15 18 20 10 18 9 24 4 28 0 28-6 26-10 26-13 18-10 10-12 11-24 15-26 11z"/>
<path fill="#fecd7b" d="M333 473l-14-1-14-3-25-8-27-15-12-9-10-10-9-10-8-12-10-20-4-14-3-14-2-26 1-14 2-14 8-26 11-20 16-20 10-9 12-9 26-14 26-8 26-3 26 3 26 8 26 14 12 8 10 9 10 11 9 12 10 20 7 26 3 26-2 28-3 14-5 14-10 20-17 21-20 17-28 16-26 9-14 2zM341 343l1-2-1-1-2 3z"/>
<path fill="#fec776" d="M349 471l-14 1-12 0-14-3-14-3-13-5-13-6-24-16-19-18-14-20-10-24-3-14-2-14 0-30 4-25 5-15 6-12 13-20 10-11 11-9 25-16 12-6 14-5 14-3 14-2 12-1 14 2 26 6 23 11 13 8 12 9 17 17 13 20 11 26 4 26 1 28-5 26-10 26-12 18-11 12-10 9-12 9-13 8-23 10zM342 345l2-4-1-3-2 0-2 1-2 4 2 3z"/>
<path fill="#fdc171" d="M341 471l-12 0-14-1-26-7-14-6-14-8-22-16-18-20-7-10-5-10-8-24-3-14-1-14 1-30 7-26 10-22 16-21 10-10 11-9 28-16 25-8 26-4 26 3 25 7 27 14 20 16 17 18 12 20 5 14 4 14 3 24-1 28-6 26-10 23-14 20-10 10-11 9-26 16-14 6-13 4zM340 347l5-4 0-4-2-2-4 1-3 5 1 4z"/>
<path fill="#fdba6c" d="M351 469l-14 1-12 0-14-2-14-3-24-10-25-16-19-17-14-19-10-23-4-14-2-13-1-30 3-23 4-14 5-13 5-9 8-12 10-11 10-10 14-10 13-8 23-10 15-4 13-2 12-1 14 1 12 2 15 4 23 10 24 16 18 17 14 20 10 23 5 26 1 30-4 24-8 24-12 20-16 18-21 16-27 14-12 4zM343 347l2-2 2-4-1-4-3-1-4 1-2 1-2 5 0 3 2 2z"/>
<path fill="#fdb466" d="M345 469l-23 0-13-2-15-4-22-10-17-10-11-8-17-17-14-21-6-14-4-12-4-26 1-30 1-10 4-16 10-23 14-20 10-10 11-9 26-16 14-6 13-4 26-4 26 2 22 6 14 6 17 10 19 14 16 17 12 20 8 21 5 26-1 32-4 23-10 25-12 18-10 11-11 9-11 8-17 10-13 6-13 4zM341 349l3-2 3-4 1-4-3-4-6 1-5 5 0 4 1 3 2 1z"/>
<path fill="#fdae61" d="M351 467l-14 2-12-1-11-1-16-4-20-8-11-8-6-2-12-8-18-16-8-10-8-12-10-25-4-20 1-21-1-16 2-17 8-24 6-12 8-11 10-12 12-10 29-18 17-8 25-6 25-1 24 5 21 8 11 8 16 8 18 15 16 21 10 20 6 24 1 14-1 12 1 12-1 16-4 16-4 11-6 13-6 9-14 16-18 15-14 7-7 5-12 6-11 4zM343 349l4-4 2-6-2-4-4-1-4 1-3 2-3 4 0 4 2 4 2 1z"/>
<path fill="#fca65d" d="M343 467l-18 0-14-2-14-4-12-6-8-6-2-4 0-2 5-8-1-7-4 1-4 2-3 8-3 1-10-2-14-9-14-15-12-18-8-20-3-19 0-12 3-6 2-2 10 1 5-5-5-4-10 0-2-1-2-5-1-10 1-14 4-15 8-17 8-12 16-17 10-7 8-4 4-1 4 1 4 8 4 3 4 1 1-8-5-8 1-4 4-4 9-6 16-6 9-2 17-2 18 1 13 3 11 4 12 6 4 4 3 4-1 4-4 6 0 6 2 2 6-3 4-8 4-2 10 3 12 8 14 14 12 18 8 18 4 16 0 8 0 9-2 7-4 2-8-1-6 5 2 3 4 2 8-1 3 2 3 6 0 10-2 17-4 13-8 17-8 11-8 9-10 9-8 5-8 4-4 0-4-1-3-8-7-3-2 1 0 6 5 8 0 2-4 6-9 6-9 4-14 4zM340 351l5-3 4-6 0-5-4-4-4 0-4 2-4 6-1 4 1 4 3 2z"/>
<path fill="#fb9e5a" d="M341 465l-12 0-14-2-14-4-8-4-6-6 0-4 2-6-1-4-4-8-3-4-8 0-6 1-4 2-4 5-2 1-6-2-10-5-14-14-9-14-7-16-3-18 0-8 2-4 2-2 7-2 4-2 7-12-5-9-4-4-10-3-2-3-1-7 1-12 4-14 6-14 6-9 14-14 8-6 6-3 6 1 5 5 4 2 13 1 3-3 4-8 1-6-3-8 5-6 7-4 10-4 11-3 12-1 12 1 14 2 12 5 7 4 5 6-3 8 1 4 6 12 8 1 6-1 4-2 4-4 4-2 8 3 8 5 12 12 10 14 7 18 3 16 0 8-2 5-2 2-6 1-4 2-4 5-4 7 4 8 4 5 4 2 6 1 2 2 2 6 0 12-4 14-6 15-6 9-14 15-8 6-6 3-6 0-6-6-4-2-6 0-8 0-6 12 0 6 2 6-4 6-6 4-10 4zM342 351l5-4 3-6-1-6-4-3-4 0-4 2-4 5-2 4 0 4 3 4 3 1z"/>
<path fill="#fa9656" d="M347 461l-14 2-8-1-14-3-8-4-4-4-1-10-3-8-8-10-4-4-12-2-8 0-14 5-8-3-10-8-10-13-6-15-2-12 0-6 2-4 8-5 4-5 7-18-7-17-4-5-8-5-2-6 0-7 2-10 6-14 4-6 12-13 10-5 4 0 6 3 6 2 8 0 12-2 5-5 7-10 3-8 0-8 3-4 12-6 20-3 21 3 12 6 3 4 0 8 2 6 5 8 7 9 20 2 6-1 7-4 3 0 10 4 8 8 9 12 5 12 3 14-1 9-8 6-4 4-8 19 4 12 4 7 4 5 7 4 2 4-1 14-4 12-4 8-12 15-6 5-6 3-4 0-8-4-6-1-20 2-12 16-2 6 0 8-2 4-7 4zM344 351l5-6 2-6-2-6-6-2-4 1-4 3-3 4-2 6 1 4 4 3 4 1z"/>
<path fill="#f88e52" d="M337 459l-4 1-10-2-10-5-10-20-17-18-21-5-10-1-14 2-6-3-11-11-5-18 2-6 8-10 4-8 6-22-8-24-11-18 0-8 4-14 11-11 6-2 14 1 8 0 24-6 16-18 11-20 7-3 12-4 12 3 8 4 11 20 17 19 22 5 10 0 12-2 6 3 12 11 5 18-1 6-8 10-4 7-7 23 7 24 12 18 0 8-4 14-10 10-6 4-22-2-24 6-17 18-10 20-8 4zM341 353l6-4 5-8 0-4-2-4-5-3-6 2-4 2-4 5-1 4 0 4 1 4 4 2z"/>
<path fill="#f7854e" d="M333 457l-10-7-18-22-16-18-23-5-31-5-8-4-1-3 2-12 9-24 7-24-7-24-9-24-2-8 0-6 11-5 31-5 21-5 16-17 18-22 10-8 4 2 6 5 20 24 16 17 20 4 30 5 12 5-1 12-9 23-9 27 7 22 11 28 1 10 0 2-2 2-8 3-30 5-24 6-16 18-18 22-5 4zM343 353l7-6 3-8-2-6-2-2-4-1-6 1-4 2-4 6-2 6 1 6 3 3 4 1z"/>
<path fill="#f67d4a" d="M335 454l-2 0-6-5-36-41-52-11-8-2-3-2 4-12 16-48-17-50-3-10 9-3 54-11 33-38 9-9 8 7 36 40 52 11 9 3-2 12-17 48 17 50 3 10-2 2-10 3-50 9zM340 355l7-4 5-8 1-8-2-4-4-2-6 0-6 4-4 4-3 6 0 6 3 4 4 2z"/>
<path fill="#f57547" d="M333 451l-42-46-52-10-6-2-2-2 19-58-19-58 2-1 6-2 53-11 41-46 8 7 34 39 52 11 9 3-20 58 17 50 3 8-1 1-12 4-48 9-34 39zM342 355l8-6 4-8-1-8-2-3-4-2-6 1-6 3-5 5-2 6-1 6 4 5 6 2z"/>
<path fill="#f46d43" d="M335 447l-2 1-4-4-36-41-54-11-5-1 0-2 18-56-18-56 1-2 6-1 52-11 40-45 7 7 34 38 53 11 4 1 2 2-19 56 19 58-58 12zM337 357l6-2 4-2 4-4 3-6 1-6-1-4-5-5-6-1-6 3-6 5-4 6-1 6 2 6 5 4z"/>
<path fill="#f06744" d="M333 445l-38-43-52-11-7-2 18-56-16-48-1-8 57-12 39-44 6 6 34 38 58 12-19 56 19 56-10 3-48 9-34 39zM341 357l9-6 5-10 1-6-2-4-3-3-4-2-8 2-6 4-5 7-2 6 0 6 3 4 6 3z"/>
<path fill="#ec6146" d="M335 442l-2 1-2-3-36-40-50-10-4-1-2-2 17-54-17-54 8-3 48-9 38-43 6 5 33 38 49 10 7 2-18 54 18 54-3 2-54 11zM343 357l6-4 4-4 4-10-1-6-2-4-3-2-4-2-6 1-8 5-5 6-3 8 1 8 4 4 5 2z"/>
<path fill="#e85b48" d="M333 440l-36-41-55-12 0-4 16-50-17-52 4-2 50-11 38-41 6 5 32 37 50 10 4 1 1 1-18 52 16 48 1 6-54 11-32 36zM341 359l6-3 4-4 4-5 2-6 1-6-2-4-3-4-4-2-6 0-8 3-7 7-4 8 0 8 3 5 6 4z"/>
<path fill="#e45649" d="M333 437l-36-41-28-5-26-6 17-52-7-18-9-34 53-11 36-41 4 4 32 36 2 2 52 10 0 2-7 24-10 26 18 52-55 12-18 22-16 17zM343 359l6-4 4-4 4-6 1-6 0-6-1-4-4-4-4-1-8 0-8 5-7 8-3 8 1 8 5 6 6 2z"/>
<path fill="#e1504a" d="M335 433l-2 1-35-39-49-10-3-2 16-50-16-50 51-12 36-39 16 17 20 23 28 5 24 6-17 50 17 50-2 2-19 4-31 5zM341 361l10-6 5-6 3-6 1-6-1-6-4-6-4-2-8 0-8 4-8 8-4 8-1 8 3 7 6 3 4 1z"/>
<path fill="#dd4a4c" d="M333 432l-34-39-50-10-1-2 15-48-15-48 3-2 48-11 34-37 16 16 18 22 48 10 4 2-17 48 13 36 4 12-1 2-50 10-21 25zM337 363l6-2 7-4 6-6 3-6 2-8-1-6-3-6-4-3-8 0-8 2-8 7-7 10-1 8 2 8 6 5z"/>
<path fill="#d9444e" d="M335 428l-2 1-34-38-23-4-25-6 14-48-6-18-8-29 48-12 34-36 16 16 18 21 48 10 1 2-16 46 9 24 7 24-25 6-24 4zM342 363l7-4 7-6 4-8 2-6 0-6-2-6-3-4-6-3-8 1-10 5-8 9-5 10 0 10 5 7 8 3z"/>
<path fill="#d53e4f" d="M333 426l-32-37-25-4-21-5-2-1 14-46-6-16-8-30 48-12 32-34 14 14 19 22 48 10-7 22-9 24 16 46-14 4-33 6-2 1-18 22zM341 365l6-3 7-5 5-6 3-8 2-8-2-8-3-5-6-3-10 1-10 5-9 10-5 10 0 10 4 7 8 4z"/>
<path fill="#ce364d" d="M335 421l-2 1-30-34-35-7-9-2-3-2 13-44-6-16-7-28 27-8 18-4 32-33 14 14 18 21 22 4 24 6-8 25-7 19 15 44-2 2-10 2-34 6zM341 367l6-3 8-6 6-7 3-8 2-8-1-8-4-6-6-3-10 0-10 4-11 11-7 12 0 10 1 4 3 5 8 4 6 0z"/>
<path fill="#c72f4c" d="M335 417l-2 1-30-33-31-6-11-3-1-1 11-42-6-16-6-26 24-8 18-4 32-31 14 14 16 19 44 10-6 21-8 21 8 22 6 20-12 4-32 6zM337 371l8-3 8-5 6-6 7-10 2-10 0-8-3-8-6-5-4-1-6 0-12 5-13 11-8 14-2 10 1 6 3 4 7 5 6 1z"/>
<path fill="#c0274a" d="M335 411l-2 1-2-2-26-29-24-4-16-4 8-40-6-16-4-24 21-8 19-5 30-26 2 1 12 12 14 17 39 9 2 2-5 16-8 22 8 22 4 18-15 4-25 4zM338 377l9-3 12-9 7-8 6-10 3-10-1-12-3-8-4-4-4-2-6-1-8 2-14 7-14 14-10 16-1 6-1 6 1 4 4 6 5 4 6 2 6 1z"/>
<path fill="#ba2048" d="M299 351l-6 1-8-2-8-3-2-2 0-12-4-10-3-12 0-8 1-6 7-6 15-6 12-3 16-10 4-1 10 3 9 5 7 8 3 8-1 8-5 6-21 18-18 20z"/>
<path fill="#b31847" d="M301 343l-12-1-6-2-4-3-7-18-1-8 2-6 9-12 9-5 14-4 10-5 8 1 6 2 7 5 5 6 2 8-2 6-4 6-24 24-6 4z"/>
<path fill="#ac1045" d="M305 338l-6 0-8-1-6-3-4-3-5-10 0-6 1-6 3-6 5-6 10-8 16-5 12 2 6 3 6 6 2 6-1 6-4 8-13 13-8 7z"/>
<path fill="#a50944" d="M307 333l-6 1-6-1-9-4-5-8 0-10 6-10 9-8 11-4 12 0 6 3 5 5 2 6-1 6-3 6-7 9-8 6z"/>
<path fill="#9e0142" d="M307 329l-10 1-8-5-4-6 1-8 4-8 7-6 10-4 10 0 4 2 5 4 1 4 1 6-3 6-5 6-7 6z"/></g>
</g></g>
<path d="M662.5 1258.4A150.0 150.0 0 0 0 584.7 1199.8M534.9 1192.5A150.0 150.0 0 0 0 466.7 1210.7M407.1 1269.8A150.0 150.0 0 0 0 443.9 1459.1M500.0 1487.5A150.0 150.0 0 0 0 570.3 1489.1M633.3 1458.6A150.0 150.0 0 0 0 687.4 1359.2" fill="none" stroke="#5e4fa2" stroke-width="4.8" stroke-dasharray="24.6 20.7"/>
<text transform="translate(556.7 1196.3) rotate(4.5)" y="7.7" font-size="21.7" text-anchor="middle" font-family="'Liberation Sans',Arial,Helvetica,sans-serif" fill="#000" stroke="#000" stroke-width="1">0.45857</text>
<text transform="translate(427.4 1244.2) rotate(-26.8)" y="7.7" font-size="21.7" text-anchor="middle" font-family="'Liberation Sans',Arial,Helvetica,sans-serif" fill="#000" stroke="#000" stroke-width="1">0.45857</text>
<text transform="translate(675.6 1295.3) rotate(56)" y="7.7" font-size="21.7" text-anchor="middle" font-family="'Liberation Sans',Arial,Helvetica,sans-serif" fill="#000" stroke="#000" stroke-width="1">0.45857</text>
<text transform="translate(476.6 1477.3) rotate(13.5)" y="7.7" font-size="21.7" text-anchor="middle" font-family="'Liberation Sans',Arial,Helvetica,sans-serif" fill="#000" stroke="#000" stroke-width="1">0.45857</text>
<text transform="translate(607.3 1471.4) rotate(-15.2)" y="7.7" font-size="21.7" text-anchor="middle" font-family="'Liberation Sans',Arial,Helvetica,sans-serif" fill="#000" stroke="#000" stroke-width="1">0.45857</text>
<line x1="204.8" y1="1009.5" x2="871.8" y2="1009.5" stroke="#262626" stroke-width="0.8" opacity="0.6"/>
<line x1="871.5" y1="1009.2" x2="871.5" y2="1675.8" stroke="#262626" stroke-width="0.8" opacity="0.6"/>
<text x="308.20" y="1736.80" font-size="48" text-anchor="middle" font-family="'Liberation Sans',Arial,Helvetica,sans-serif" fill="#262626" stroke="#262626" stroke-width="0.6">-0.02</text>
<text x="191.30" y="1590.80" font-size="48" text-anchor="end" font-family="'Liberation Sans',Arial,Helvetica,sans-serif" fill="#262626" stroke="#262626" stroke-width="0.6">-0.02</text>
<text x="423.20" y="1736.80" font-size="48" text-anchor="middle" font-family="'Liberation Sans',Arial,Helvetica,sans-serif" fill="#262626" stroke="#262626" stroke-width="0.6">-0.01</text>
<text x="191.30" y="1475.80" font-size="48" text-anchor="end" font-family="'Liberation Sans',Arial,Helvetica,sans-serif" fill="#262626" stroke="#262626" stroke-width="0.6">-0.01</text>
<text x="538.20" y="1736.80" font-size="48" text-anchor="middle" font-family="'Liberation Sans',Arial,Helvetica,sans-serif" fill="#262626" stroke="#262626" stroke-width="0.6">0</text>
<text x="191.30" y="1360.80" font-size="48" text-anchor="end" font-family="'Liberation Sans',Arial,Helvetica,sans-serif" fill="#262626" stroke="#262626" stroke-width="0.6">0</text>
<text x="653.20" y="1736.80" font-size="48" text-anchor="middle" font-family="'Liberation Sans',Arial,Helvetica,sans-serif" fill="#262626" stroke="#262626" stroke-width="0.6">0.01</text>
<text x="191.30" y="1245.80" font-size="48" text-anchor="end" font-family="'Liberation Sans',Arial,Helvetica,sans-serif" fill="#262626" stroke="#262626" stroke-width="0.6">0.01</text>
<text x="768.20" y="1736.80" font-size="48" text-anchor="middle" font-family="'Liberation Sans',Arial,Helvetica,sans-serif" fill="#262626" stroke="#262626" stroke-width="0.6">0.02</text>
<text x="191.30" y="1130.80" font-size="48" text-anchor="end" font-family="'Liberation Sans',Arial,Helvetica,sans-serif" fill="#262626" stroke="#262626" stroke-width="0.6">0.02</text>
<text x="536.80" y="1801.30" font-size="52.7" text-anchor="middle" font-family="'Liberation Sans',Arial,Helvetica,sans-serif" fill="#262626" stroke="#262626" stroke-width="0.6">X [m]</text>
<text x="0.00" y="0.00" font-size="52.7" text-anchor="middle" font-family="'Liberation Sans',Arial,Helvetica,sans-serif" fill="#262626" stroke="#262626" stroke-width="0.6" transform="translate(65.3 1344.5) rotate(-90)">Y [m]</text>
<rect x="884.65" y="1009.60" width="31.50" height="665.80" fill="url(#cbg)" stroke="#262626" stroke-width="1.7"/>
<text x="927.40" y="1692.80" font-size="44.5" text-anchor="start" font-family="'Liberation Sans',Arial,Helvetica,sans-serif" fill="#262626" stroke="#262626" stroke-width="0.6">0</text>
<line x1="908.40" y1="1577.40" x2="915.90" y2="1577.40" stroke="#262626" stroke-width="1.4"/>
<text x="927.40" y="1595.00" font-size="44.5" text-anchor="start" font-family="'Liberation Sans',Arial,Helvetica,sans-serif" fill="#262626" stroke="#262626" stroke-width="0.6">2</text>
<line x1="908.40" y1="1479.61" x2="915.90" y2="1479.61" stroke="#262626" stroke-width="1.4"/>
<text x="927.40" y="1497.21" font-size="44.5" text-anchor="start" font-family="'Liberation Sans',Arial,Helvetica,sans-serif" fill="#262626" stroke="#262626" stroke-width="0.6">4</text>
<line x1="908.40" y1="1381.81" x2="915.90" y2="1381.81" stroke="#262626" stroke-width="1.4"/>
<text x="927.40" y="1399.41" font-size="44.5" text-anchor="start" font-family="'Liberation Sans',Arial,Helvetica,sans-serif" fill="#262626" stroke="#262626" stroke-width="0.6">6</text>
<line x1="908.40" y1="1284.01" x2="915.90" y2="1284.01" stroke="#262626" stroke-width="1.4"/>
<text x="927.40" y="1301.61" font-size="44.5" text-anchor="start" font-family="'Liberation Sans',Arial,Helvetica,sans-serif" fill="#262626" stroke="#262626" stroke-width="0.6">8</text>
<line x1="908.40" y1="1186.21" x2="915.90" y2="1186.21" stroke="#262626" stroke-width="1.4"/>
<text x="927.40" y="1203.81" font-size="44.5" text-anchor="start" font-family="'Liberation Sans',Arial,Helvetica,sans-serif" fill="#262626" stroke="#262626" stroke-width="0.6">10</text>
<line x1="908.40" y1="1088.42" x2="915.90" y2="1088.42" stroke="#262626" stroke-width="1.4"/>
<text x="927.40" y="1106.02" font-size="44.5" text-anchor="start" font-family="'Liberation Sans',Arial,Helvetica,sans-serif" fill="#262626" stroke="#262626" stroke-width="0.6">12</text>
<text x="918.50" y="993.70" font-size="44.5" font-family="'Liberation Sans',Arial,Helvetica,sans-serif" fill="#262626" stroke="#262626" stroke-width="0.6"><tspan font-size="50.5" dy="6.4" stroke-width="0">×</tspan><tspan dy="-6.4" dx="-0.6">10</tspan><tspan dy="-19.8" dx="-0.2" font-size="35.8">10</tspan></text>
<text x="0.00" y="0.00" font-size="41.2" text-anchor="middle" font-family="'Liberation Sans',Arial,Helvetica,sans-serif" fill="#0d0d0d" stroke="#0d0d0d" stroke-width="0.6" transform="translate(1001.6 1318.2) rotate(90)">Energy [eV]</text>
<text x="110.50" y="960.70" font-size="64.8" text-anchor="start" font-family="'Liberation Serif','Times New Roman',Times,serif" fill="#000" font-weight="bold">(c)</text>
<g clip-path="url(#cpd)"><g filter="url(#cmd)">
<rect x="1252.3" y="1000.1" width="690.8" height="690.1" fill="#5e4fa2"/>
<g transform="translate(1264.3 1012.1)"><path fill="#5b53a4" d="M435 495l-20 2-26-1-8 0-10-4-4-1-64 0-8 1-12 4-28 1-20-1-6-2-3-3-1-6-2-24-2-6-10-18-38-65-4-3-12-2-3-2-3-4-1-8 0-22 0-20 3-8 4-4 12-2 4-3 48-83 2-8 2-22 1-6 3-3 8-2 28-1 20 1 14 5 66 0 6-1 12-4 28-1 22 1 4 2 3 3 2 6 1 18 2 10 12 22 36 62 4 4 12 2 5 4 2 8 1 26-1 20-2 6-5 4-12 2-2 2-4 5-46 81-2 10-1 20-3 6z"/>
<path fill="#5856a5" d="M431 493l-22 1-22 0-6-2-8-4-4-1-68 0-8 1-6 4-6 2-26 0-18-1-4-1-4-3-2-6-1-24-3-9-46-79-4-4-14-3-4-3-2-6-1-22 1-22 2-6 4-3 14-3 4-4 46-79 3-9 1-26 4-6 8-2 26-1 20 1 8 5 4 1 70 0 6-1 8-4 4-1 24-1 20 1 6 1 3 3 2 6 1 26 8 16 42 72 4 3 12 2 4 2 2 3 1 8 0 22 0 18-2 6-5 4-13 2-5 5-46 80-2 7-2 28-3 4z"/>
<path fill="#565aa7" d="M431 492l-20 1-24-1-6-1-6-5-6-1-68 0-8 1-6 4-6 2-26 1-18-1-4-2-3-3-2-6-1-24-2-7-47-81-5-4-14-3-3-3-2-8 0-20 0-18 2-6 3-3 14-3 5-4 47-81 2-7 2-26 1-4 3-3 10-2 32 0 8 0 10 6 4 1 70 0 8-1 6-4 4-2 26-1 20 2 4 2 2 2 1 6 2 24 3 10 46 79 5 3 13 2 4 4 1 6 1 24-1 16-1 6-4 4-13 2-5 3-46 80-3 9-2 28-2 4zM284 251l5-4 0-3-4-1-6 4-1 2 1 2zM388 251l1-2-4-4-6-2-2 2 2 3 4 3zM235 339l2-2 1-4-1-4-2-2-2 0-2 6 2 6zM433 339l2-2 1-4-1-4-2-2-2 0-2 6 2 6zM288 423l2-2-3-4-4-2-4 0-1 2 1 2 4 3zM380 423l5-2 3-2 1-2-1-2-4 0-5 3-2 3z"/>
<path fill="#535da9" d="M427 491l-20 1-20-1-6-2-6-4-6-1-74 0-4 1-8 5-20 2-26-1-6-4-2-6-1-26-3-8-46-79-4-3-12-2-6-4-2-6 0-20 1-20 1-6 6-3 12-2 4-3 46-80 3-10 2-26 3-6 4-2 8 0 32 0 8 2 8 5 6 0 72 0 4 0 6-5 4-2 18-1 26 1 4 2 2 2 2 8 2 24 2 7 46 79 4 4 14 3 4 3 2 8 1 22-1 16-2 6-4 3-14 3-4 4-44 76-4 10-3 30-3 4zM285 253l7-6 2-4-2-2-3-1-6 2-5 3-3 4 0 4 2 1zM392 253l1-2-2-4-6-5-8-2-3 1-1 2 2 5 6 4 6 2zM236 343l3-4 1-8-2-6-3-3-2 1-2 2-2 10 2 6 2 2zM434 343l3-4 1-8-2-6-3-3-2 1-2 2-2 10 2 7 2 2zM293 425l1-2-1-2-5-6-7-3-4 0-2 1 0 4 5 6 7 3zM382 425l9-6 2-4-2-3-4 0-4 1-4 2-4 4-2 4 1 2 3 1z"/>
<path fill="#5061aa" d="M411 491l-24-1-6-2-6-5-6 0-74 0-4 1-8 5-8 2-30 0-10-2-4-4-1-4-1-26-2-7-42-73-7-10-5-2-10-1-4-3-2-2-1-6-1-18 1-18 1-6 2-2 4-3 11-1 4-2 7-10 42-73 2-7 1-26 1-4 4-4 10-2 30 0 8 2 8 6 4 0 70 1 10-1 8-6 6-1 24-1 18 2 3 2 2 4 2 26 1 8 44 76 6 8 4 2 12 2 4 4 2 6 0 18 0 18-2 6-4 4-12 2-4 2-4 5-16 27-30 53-1 7-2 24-2 6-5 3zM284 255l7-4 4-4 1-4 0-2-2-2-5-1-6 2-6 4-5 5 0 4 1 2 4 2zM394 255l1-2-1-4-3-4-5-4-9-3-4 1-2 2-1 2 2 4 7 6 10 4zM238 345l3-7 0-9-2-7-4-3-4 2-2 3-1 7 0 6 3 8 4 2zM436 345l3-7 0-9-3-8-3-2-2 0-2 2-2 4-1 12 3 8 4 2zM294 427l2-2 0-4-5-6-10-5-4 0-4 1-1 2 0 4 6 6 9 4zM382 427l7-4 4-4 2-4-1-4-5-1-6 1-7 4-4 4-2 4 1 2 1 2 5 1z"/>
<path fill="#4e64ac" d="M429 489l-20 2-20-1-6-2-6-5-8-1-74 0-5 1-5 4-4 2-18 1-24-1-4-1-3-3-1-6-2-26-2-7-46-79-5-4-13-2-5-4-1-8-1-18 1-16 1-6 5-4 14-2 4-4 46-79 3-9 1-26 1-4 3-3 4-1 10-1 28 0 6 2 8 6 6 1 76-1 4-1 8-6 18-1 24 0 4 2 4 3 1 6 1 24 2 8 47 80 4 4 13 2 5 4 2 8 1 20-1 14-2 6-5 4-12 2-5 4-45 77-4 11-2 28-2 4zM283 257l7-4 7-6 2-4 0-2-2-3-6-1-6 1-8 4-5 5-2 6 1 4 4 1zM396 257l1-4-1-4-7-8-6-3-6-1-4 0-4 2-1 2 1 4 7 8 11 5 6 0zM236 349l3-2 2-4 2-12-3-10-3-4-2 0-4 2-3 4-2 6 0 6 3 10 4 4zM433 349l4-3 2-3 2-12-1-6-3-5-4-3-2 0-3 2-2 4-2 12 3 11 4 3zM295 429l3-2 1-4-2-4-4-4-6-4-6-2-6-1-4 1-1 2 0 4 2 4 3 4 12 6zM380 429l9-4 6-6 2-6-1-4-5-1-8 2-7 3-6 6-2 4 1 4 4 2z"/>
<path fill="#4b68ae" d="M425 489l-20 1-18-1-4-2-6-5-6-1-78 0-4 1-4 4-4 3-18 1-24-1-4-2-2-2-2-6-1-26-3-9-46-79-4-2-14-3-4-3-2-6 0-18 0-18 2-6 4-3 14-2 4-3 46-79 3-9 2-28 3-6 4-2 12-1 26 1 6 1 8 7 6 0 76 0 4-1 8-6 18-2 24 1 4 1 3 3 2 8 1 24 2 7 46 80 4 3 14 3 5 3 2 8 0 20-1 14-1 6-5 3-14 3-4 3-44 76-4 11-2 30-4 5zM281 259l10-5 8-7 2-6-3-4-5-2-8 1-8 4-6 6-3 7 1 5 4 2zM396 259l3-4-1-4-3-6-4-4-8-4-6-2-6 1-4 3-1 4 2 4 9 8 10 4 6 1zM237 351l3-2 2-4 1-6 1-8-3-12-2-3-4-1-4 2-4 5-2 7 0 6 2 8 2 4 4 4zM433 351l4-3 3-5 2-12-3-11-4-4-4-1-4 2-2 4-2 6 0 8 1 8 3 6 2 2zM298 429l2-2 1-4-2-4-7-6-6-4-7-2-6-1-4 2-1 5 1 4 7 8 7 4 6 2 4 0zM384 429l7-4 6-7 2-7-3-4-7-1-8 3-9 6-5 6-1 4 3 4 6 2z"/>
<path fill="#486cb0" d="M419 489l-14 0-18-1-4-2-6-5-6-1-78 0-4 1-8 7-16 1-24 0-4-1-3-3-2-6-1-24-2-8-46-80-4-4-14-3-5-3-2-6-1-20 1-16 2-6 5-3 12-2 5-3 45-78 4-10 1-28 2-4 2-2 5-1 14-1 22 0 6 2 6 6 8 1 76 0 4-1 6-5 4-2 16-1 24 1 4 1 2 2 2 6 1 26 3 9 46 79 6 4 12 1 4 3 2 8 1 22-2 14-1 4-4 3-14 2-4 3-46 79-3 9-1 26-2 6-4 3zM278 261l11-4 10-8 3-6 0-4-1-2-6-3-8 1-8 3-7 5-5 8 0 6 4 4zM396 261l3-2 1-6-2-6-5-6-7-4-7-2-8 0-5 2-2 4 1 3 7 9 13 7 6 1zM240 351l3-4 1-6 1-14-4-11-2-2-4-1-4 2-5 6-2 8 0 8 2 8 5 6 4 2zM436 351l4-4 2-6 1-12-2-6-2-5-4-4-4-1-4 2-3 6-2 8 0 10 2 8 3 4 4 2zM298 431l4-4 0-4-2-4-6-6-7-5-8-3-6 0-5 2-2 4 1 4 3 6 4 4 6 4 7 2 6 1zM381 431l10-5 7-7 2-8-1-4-2-2-6 0-10 3-8 5-8 8-1 4 3 5 6 2z"/>
<path fill="#456fb1" d="M429 487l-18 2-22-1-6-2-6-6-8-1-76 0-4 1-8 7-14 2-24-1-6-1-2-2-3-6-1-26-2-8-46-79-6-5-14-2-3-4-2-6 0-18 2-20 3-4 14-2 6-5 46-79 2-8 1-26 1-4 4-4 4-1 12-1 24 1 6 2 6 6 8 1 76 0 6-2 4-5 4-2 14-1 24 1 6 2 2 2 2 7 1 24 3 10 45 78 6 4 13 2 4 4 2 6 0 18-1 16-1 5-4 3-12 2-7 4-45 78-3 10-2 28-2 4zM282 261l11-6 9-8 2-6-3-5-8-3-8 1-10 5-6 6-4 8 0 4 2 3 6 3zM399 261l3-4-1-6-4-7-5-5-8-4-7-2-8 1-5 3-1 4 1 4 3 5 6 5 8 4 8 3 6 1zM240 353l3-4 2-6 1-16-4-12-3-3-4 0-6 3-4 6-2 7 0 9 2 8 4 6 6 3zM435 353l4-3 4-7 1-6 0-8-1-6-4-7-4-3-4-1-4 1-4 6-2 10 0 10 2 8 4 6 4 1zM300 431l4-4 0-4-4-6-5-5-9-5-9-3-6-1-4 3-2 3 1 6 3 6 6 6 7 4 7 2 6 0zM375 433l6-1 6-2 10-8 5-9 0-4-3-4-6-2-8 2-10 5-8 7-4 6 0 4 4 4z"/>
<path fill="#4273b3" d="M427 487l-18 2-20-1-4-2-8-7-6 0-78 0-4 1-8 7-16 2-24-1-4-2-3-3-1-8-2-24-2-7-46-79-5-4-15-3-3-3-1-8-1-16 1-14 1-6 3-3 15-3 5-4 46-79 2-7 2-30 4-5 6-2 10 0 24 0 6 2 6 6 8 1 78 0 4-1 4-5 4-2 16-1 22 0 4 1 4 4 1 8 1 22 2 8 46 80 6 4 14 3 4 3 1 6 1 18-1 14-1 6-4 4-14 2-5 4-45 76-4 12-2 28-2 4zM279 263l13-6 10-8 3-4 1-4-3-6-8-3-9 1-10 4-7 6-4 8-1 4 0 4 5 5 4 0zM399 263l3-4 1-6-4-8-6-6-8-5-8-2-9 1-5 4-2 4 1 4 3 4 7 6 15 8 8 1zM240 355l3-3 3-7 1-8 0-10-4-13-4-3-4-1-6 4-4 5-3 8 0 10 2 8 5 8 6 3zM434 355l5-4 4-6 2-8 0-7-2-8-4-7-4-4-4-1-6 3-3 4-2 10 0 10 2 10 3 6 4 3zM299 433l4-2 3-6-3-6-5-6-9-6-12-5-6 0-5 3-2 4 1 6 4 8 4 4 12 6 8 1zM381 433l12-6 7-8 3-6 0-4-2-4-2-2-4-1-4 0-10 4-12 7-7 8 0 6 3 5 8 2z"/>
<path fill="#4076b5" d="M425 487l-18 1-18-1-5-2-6-6-7-1-78 0-4 1-8 7-16 2-24-1-4-1-2-3-2-6-1-26-3-9-45-77-5-4-14-3-4-3-2-6-1-16 1-16 2-6 4-3 14-3 5-4 45-77 3-9 1-28 2-4 2-3 6-1 10-1 22 1 6 1 8 7 8 1 78 0 4-2 5-5 3-2 16-1 22 1 4 1 3 3 2 8 1 24 2 7 46 79 4 4 14 2 5 4 2 8 0 18 0 12-2 6-5 4-13 2-5 4-44 75-4 11-2 30-2 4zM276 265l15-6 12-10 4-6 0-4-3-4-3-2-4-1-10 0-10 4-7 5-6 10-1 4 0 4 2 3 4 3zM398 265l5-4 1-6-3-8-6-8-6-4-10-3-10 0-7 3-2 4 0 4 2 4 6 6 8 6 8 4 9 2zM238 357l4-2 3-4 2-10 1-12-2-10-2-6-3-3-6-1-6 3-4 5-3 8-1 10 1 8 5 9 6 5zM433 357l4-2 6-8 3-8 0-8-1-8-4-7-4-5-6-2-6 2-3 4-3 10 0 10 1 10 3 8 4 3zM302 433l4-4 1-6-4-6-6-6-10-6-12-4-6 0-5 4-1 4 1 6 4 8 5 5 6 3 8 3 8 1zM384 433l11-6 7-10 2-6 0-4-5-5-8-1-12 5-11 7-7 8-1 6 2 4 3 2 10 2z"/>
<path fill="#3d7ab6" d="M423 487l-16 1-18-1-4-2-6-6-8-2-78 1-5 1-5 5-4 2-14 2-24-1-4-2-2-2-1-6-2-26-3-10-44-76-5-4-15-3-4-3-1-6-1-16 1-16 1-6 4-3 15-3 5-4 44-76 3-10 2-28 3-6 4-2 14-1 22 1 5 2 7 7 8 1 78-1 4-1 8-7 16-2 22 1 4 1 3 3 1 8 1 24 3 8 45 78 5 4 14 3 4 3 2 8 1 18-1 12-1 6-5 3-14 3-5 4-43 74-4 10-2 32-4 5zM280 265l15-8 11-10 2-4 0-4-4-6-7-2-12 0-12 6-6 6-5 10-1 4 1 4 3 3 4 2 4 1zM401 265l3-4 1-6-4-10-7-8-8-4-9-2-10 0-4 2-2 2-2 6 0 4 3 4 7 6 9 6 9 4 8 2zM241 357l4-4 2-6 2-10-1-12-1-8-3-6-3-2-6-1-6 2-6 9-3 8 0 10 3 10 6 9 6 3zM436 357l5-5 4-9 2-6 0-8-2-8-6-9-4-4-6 0-6 3-3 6-2 12 1 14 2 9 4 5 6 2zM300 435l3-1 3-3 2-6-2-6-5-6-12-8-12-5-8 0-5 3-2 4 0 6 4 8 5 6 5 4 9 4 6 1zM380 435l13-5 8-9 3-6 2-6-2-4-3-4-4-1-4 0-11 3-13 8-9 8-1 4 0 4 3 6 7 2z"/>
<path fill="#3a7db8" d="M419 487l-14 1-16-2-4-1-6-7-8-1-78 0-6 2-4 5-4 2-14 1-22 0-4-1-3-3-2-8-1-24-4-10-44-76-4-4-14-3-5-3-2-6-1-16 1-16 2-6 5-3 14-3 4-3 44-76 4-11 1-28 2-4 2-2 5-2 12 0 22 1 4 1 8 7 8 1 78 0 4-1 8-8 16-1 22 1 4 1 2 2 2 8 1 26 3 8 44 76 6 5 14 2 4 3 2 6 1 20-1 14-2 4-4 3-15 3-5 4-4 7-42 73-1 6-1 26-2 6-4 3zM276 267l17-7 13-11 3-4 0-4-1-6-3-3-6-2-12 0-12 5-6 4-7 12-2 8 2 4 5 4 4 1zM400 267l6-6 1-6-5-10-7-8-7-4-11-3-10 0-7 3-2 4-1 6 2 4 6 6 8 6 12 6 10 3zM240 359l5-3 2-5 2-12 0-14-2-10-2-5-4-3-6-1-6 3-6 9-4 9 0 10 3 10 7 10 4 3zM435 359l6-6 4-8 2-6 1-8-2-8-5-10-4-5-6-2-8 3-3 4-2 12-1 14 3 12 3 6 6 3zM304 435l4-4 1-8-3-6-6-6-13-8-12-4-6-1-7 5-2 4 1 6 5 10 5 6 7 4 9 3 10 0zM383 435l12-6 6-6 4-8 2-6-1-4-3-4-4-2-8 0-14 6-12 8-7 8 0 8 2 4 3 2 10 1z"/>
<path fill="#3881ba" d="M413 487l-24-1-4-2-6-6-10-2-76 1-6 1-6 7-4 1-20 1-18-2-3-2-1-4-2-28-2-8-40-70-5-8-4-4-5-2-10-1-5-3-2-6-1-12 1-16 1-8 4-4 12-2 5-2 4-4 5-8 40-70 2-8 2-28 1-4 3-2 14-2 20 0 8 2 6 7 4 1 50 1 36-1 4-2 6-6 6-1 18-1 12 1 5 1 3 2 1 4 2 28 1 6 42 74 8 10 4 2 12 2 4 3 2 5 0 16 0 16-2 5-4 3-16 4-4 4-46 80-1 6-1 26-2 5-2 3-4 1zM272 269l7-2 12-5 10-7 7-6 2-4 1-4-2-6-2-4-6-2-14 0-10 4-8 5-9 13-2 8 2 4 5 4zM397 269l8-4 4-6-3-8-9-14-7-4-11-4-14 0-6 3-2 5-1 6 2 4 3 4 7 6 11 6 10 5zM238 361l7-4 3-4 2-14 0-14-2-10-3-6-6-4-6 0-4 2-2 2-6 10-3 8 0 8 3 10 6 12 4 4zM435 361l4-3 7-13 2-6 1-8-2-8-6-12-4-5-4-2-8 3-5 4-3 12 0 14 1 12 3 8 8 4zM302 437l3-1 4-3 2-8-2-6-6-6-14-10-14-5-4-1-4 1-7 5-2 4 1 4 6 12 6 7 14 6zM377 437l6-1 10-4 4-3 4-6 8-14-1-4-6-6-7-2-12 4-14 8-11 10-2 4 0 4 4 8 5 2z"/>
<path fill="#3584bb" d="M427 485l-16 2-20-1-6-2-6-7-10-1-78 0-4 1-5 6-3 2-12 2-22-1-5-1-3-2-3-8-1-26-2-7-46-79-6-4-12-2-4-2-2-6-1-16 1-16 2-6 4-2 12-2 6-4 46-78 2-8 2-28 1-4 3-4 16-2 20 1 6 2 7 7 7 1 80 0 4-1 8-8 16-2 22 1 4 2 2 3 2 8 0 24 3 8 45 77 6 5 14 2 4 4 1 6 1 16-1 14-2 6-5 3-12 2-6 4-44 76-4 9-1 30-2 4zM276 269l18-8 15-12 2-4 1-4-1-8-2-4-6-1-18 1-12 5-6 5-10 16-2 4 1 2 11 9 4 0zM401 269l8-6 2-4-3-8-11-15-5-3-11-4-18-1-5 1-2 4-1 10 1 4 4 4 11 9 14 7 10 3zM237 363l8-4 3-4 3-12 0-16-2-12-2-6-4-3-10-4-4 2-8 14-3 9-1 8 3 10 9 17 4 2zM437 363l11-20 2-6 0-6-1-6-4-8-6-12-4-3-12 4-4 5-3 10 0 16 1 12 3 8 3 3 8 3 4 1zM309 437l2-4 1-8-2-6-5-6-12-8-12-6-10-3-6 2-9 7 0 4 2 4 9 14 6 5 16 6 16 0zM381 437l11-4 5-3 13-19 1-4 0-2-10-8-4-1-4 0-12 5-14 8-11 10-1 6 1 8 2 4 5 1z"/>
<path fill="#3288bd" d="M425 485l-16 2-18-1-6-3-6-7-8 0-80 0-4 1-5 6-3 2-14 2-22-1-4-2-3-3-2-10 0-22-3-8-45-78-7-4-12-2-4-2-2-6-1-16 1-16 2-5 4-3 13-2 6-4 45-78 3-8 1-28 1-4 3-3 6-2 10 0 20 0 6 2 6 7 10 2 78-1 5-1 7-7 16-2 22 1 4 2 2 2 1 10 1 22 3 8 45 78 6 4 14 3 4 3 1 6 1 16-2 18-4 4-14 2-6 4-44 76-4 10-1 30-2 4zM272 271l20-8 9-6 9-8 3-6 0-8 1-6-1-3-4-1-24 4-12 4-5 4-16 20-1 4 0 2 2 1 6 2 8 5zM399 271l10-5 6-2 1-3-1-4-18-22-4-2-14-5-20-3-4 0-2 2 1 18 4 6 11 8 10 6 14 6zM232 369l5-4 8-5 3-3 3-11 1-15-1-12-3-10-15-12-2 0-4 4-10 24-1 8 1 8 10 24 2 3zM436 369l4-4 9-24 2-8-2-8-9-24-3-4-2 0-14 9-2 3-3 10-1 16 1 14 3 9 11 7 3 3zM311 441l3-2 0-2-2-18-6-6-11-8-12-6-12-4-4 0-16 8 0 2 1 4 19 23 14 6zM360 441l21-3 14-6 4-3 16-20 1-4 0-2-15-7-6-1-12 4-14 8-11 8-4 6-1 18 2 2z"/>
<path fill="#358cbc" d="M425 485l-16 1-18-1-5-2-7-7-8-1-80 0-5 2-7 7-14 2-22-1-4-1-3-3-2-12 0-20-3-9-45-77-5-4-14-2-4-3-2-5-1-16 1-16 2-5 4-3 14-2 5-4 45-77 3-9 1-28 1-4 3-3 6-1 10-1 20 1 6 2 6 7 10 1 78 0 6-2 4-5 4-3 14-1 20 1 4 1 3 3 2 10 1 22 2 8 46 78 5 4 13 2 4 2 1 2 2 6 1 16-1 12-2 6-3 3-15 3-5 4-44 75-4 9-2 32-2 4zM276 271l19-9 17-13 2-4 0-10 4-6-1-4-4-2-6 0-8 3-14 2-13 5-5 4-8 11-10 10-1 5 1 4 10 1 10 4zM402 271l7-3 8 0 2-3 0-4-2-5-8-7-11-14-3-2-12-5-14-2-10-4-6 1-4 2 0 4 3 6 1 10 2 4 4 4 12 8 15 8 9 3zM234 373l6-8 7-5 2-3 3-12 0-14-1-14-2-9-2-2-7-5-5-7-2-1-4 1-4 5-2 10-6 16-2 8 2 8 6 16 2 10 4 5zM435 373l4-2 3-4 2-12 7-16 0-6 0-6-7-16-2-12-5-5-4-1-2 1-4 7-6 4-4 4-2 12-1 16 2 14 3 8 8 6 4 7 2 1zM335 335l1-2-1-2-3 0-1 2 2 2zM315 443l3-4-4-8-1-12-3-4-11-8-14-8-14-5-4 0-8 4-10 1-1 4 1 6 10 9 8 11 4 4 14 5 14 2 8 4zM361 443l8-3 14-2 14-6 12-15 9-8 1-6-1-4-9 0-10-5-4 0-17 7-16 10-8 8-2 12-4 8 1 2 4 2z"/>
<path fill="#388fba" d="M423 485l-16 1-16-1-5-2-7-8-8 0-80 0-6 2-6 7-14 2-22-1-4-2-2-2-2-12-1-20-3-10-44-76-6-4-14-3-4-3-2-6-1-14 1-14 2-6 4-3 15-3 5-4 44-76 3-10 2-28 1-4 2-2 4-2 12-1 20 1 5 2 7 7 10 2 80-1 4-1 4-6 4-2 14-2 20 1 4 1 3 3 2 10 0 22 3 9 45 77 5 4 14 3 5 3 2 6 0 16 0 12-2 6-5 4-14 2-5 4-43 74-4 10-2 32-3 4zM272 273l11-4 10-5 18-13 4-6 1-10 6-6-1-4-2-2-5-2-7 0-10 4-12 2-12 5-5 3-11 14-8 6-4 8 0 4 2 3 4 1 8-1 8 3zM400 273l9-4 8 2 2-1 2-2 1-3-1-4-3-6-9-7-10-13-4-3-12-4-13-3-9-4-8 0-6 3-2 3 0 2 5 6 3 12 3 4 11 9 13 7 13 5zM237 375l3-8 8-6 2-4 3-14 0-16-2-14-2-6-9-8-3-8-4-1-6 3-4 6-1 12-7 16 0 8 1 6 6 14 1 10 1 4 3 4 4 3 4 0zM437 375l4-4 2-4 2-12 6-16 1-8-1-6-6-14-2-13-4-5-6-3-4 2-2 7-8 6-3 4-2 14 0 16 1 12 2 8 10 8 2 8 4 1zM335 337l2-2 0-4-2-2-4 0-2 3 0 3 2 2zM315 445l6-4 1-4-6-6-1-10-2-4-12-10-14-8-16-6-4 0-8 4-10-2-3 2-1 6 4 8 10 8 11 14 15 6 12 2 9 4zM361 445l8-4 12-2 16-6 12-15 7-5 3-3 3-7-2-6-3-2-8 2-9-4-5 0-19 8-18 12-5 6-2 11-6 7 0 2 2 4 4 2z"/>
<path fill="#3c93b8" d="M421 485l-14 1-16-1-4-2-8-8-8-1-80 0-6 3-6 7-14 2-22-1-4-2-2-2-2-8-1-26-2-8-45-76-5-4-15-3-4-3-1-6-1-14 1-14 1-6 4-3 15-3 5-4 44-75 4-11 1-28 3-6 4-2 12-1 20 1 5 2 7 8 12 1 78 0 4-2 4-5 4-3 14-2 20 1 4 2 3 2 2 10 0 24 3 8 45 76 4 4 15 3 4 3 2 6 1 16-1 12-1 6-5 3-14 3-5 4-39 66-8 16-2 34-4 5zM275 273l20-10 17-12 3-4 2-10 8-8-1-4-1-2-6-3-10 0-10 4-12 3-12 4-4 2-10 12-8 6-4 4-3 6-1 6 1 4 2 2 3 1 8-3 10 3zM421 273l2-3 1-3-3-10-4-5-10-7-10-12-14-6-12-3-12-5-12 2-5 4 0 4 8 8 1 8 2 4 6 6 12 8 12 6 12 5 4 0 10-3 8 3zM237 379l3-2 2-10 7-6 2-3 2-11 1-16-3-23-2-3-7-6-2-10-5-2-6 2-6 8-2 6 0 8-6 15-1 7 1 7 6 15 0 8 2 6 6 8 4 2zM434 379l5-3 6-9 1-12 6-14 1-8-1-8-6-14-1-12-6-9-4-3-4 0-4 2-2 10-7 6-2 4-3 14 0 14 1 14 2 8 9 8 2 10 3 2zM338 337l1-4-1-4-5-2-4 2-1 4 1 4 4 2zM320 445l5-4 0-4-8-8-1-8-2-4-15-12-14-8-14-5-4 0-10 3-8-3-2 1-3 2-1 6 4 10 4 4 8 6 10 12 16 6 12 3 8 4 8 1zM364 445l7-3 12-3 14-6 12-13 7-5 4-4 4-10-1-6-4-3-10 3-10-3-4 0-20 9-18 12-5 6-3 11-6 5-1 4 2 4 5 3 8 1z"/>
<path fill="#3f96b7" d="M419 485l-14 1-14-2-4-1-7-8-9-1-80 0-6 2-6 7-14 3-20-1-4-1-3-3-3-10 0-24-3-8-44-76-5-4-16-3-3-3-2-6-1-14 1-14 2-6 3-3 16-3 5-4 43-74 4-10 1-30 2-4 2-2 5-2 10 0 20 1 6 2 6 7 12 1 78 0 4-1 4-6 4-3 14-1 20 1 4 1 2 2 3 12 0 22 3 8 44 76 5 4 15 3 4 3 2 8 1 16-1 12-2 4-4 3-12 2-6 3-12 18-36 64-1 6-1 24-2 8-4 3zM270 275l11-4 12-6 20-14 3-4 3-10 9-6 1-4-2-4-3-2-6-2-13 0-10 5-10 2-17 7-9 11-8 5-4 4-4 8-2 8 2 6 4 2 10-4 10 2zM419 277l4-1 3-5-1-6-2-6-5-8-9-6-11-12-15-6-12-4-10-4-13 0-6 2-2 2-2 4 1 4 9 6 4 12 13 11 14 8 14 6 6 1 10-3zM241 381l2-4 0-8 7-8 2-4 2-14 0-16-1-14-2-7-8-9 0-8-2-4-2-1-4 0-4 1-4 4-6 10-2 14-5 14-1 8 6 18 1 12 3 6 6 8 4 3 4 0zM435 381l6-6 5-8 2-14 5-14 0-8-5-18-1-10-2-6-8-11-6-2-4 0-2 2-1 11-7 7-2 4-2 15-1 16 3 19 2 4 7 7 1 11 4 2zM337 339l3-4-1-6-4-3-5 1-3 4 1 6 3 3zM319 447l6-2 2-2 2-6-2-2-8-6-4-12-9-8-15-9-18-8-6-1-8 3-4-1-6-4-4 1-2 1-2 4 0 4 4 10 4 6 10 7 10 12 16 6 10 2 9 5 7 1zM363 447l8-4 12-3 12-5 4-2 8-10 10-7 4-5 5-12 0-4-2-4-5-2-10 5-10-3-6 1-22 10-17 13-3 4-3 10-9 6-1 2 1 4 3 4 6 2 7 1z"/>
<path fill="#429ab6" d="M415 485l-12 0-12-1-4-2-6-7-10-2-80 1-6 2-6 7-14 2-20-1-4-1-3-2-2-10-1-24-3-8-44-76-5-4-14-3-5-3-2-6-1-14 1-14 2-6 5-3 14-3 5-4 43-74 4-10 1-30 2-4 2-2 5-1 12-1 18 1 4 1 8 9 12 1 78-1 4-1 5-6 3-2 14-2 20 1 4 1 2 2 2 12 1 22 2 8 45 76 4 4 16 4 4 3 2 7 1 16-2 12-1 4-4 3-16 3-6 6-42 73-3 9-1 22-2 12-4 3zM365 447l8-4 24-8 12-13 8-5 4-5 4-7 2-6 2-11 8-6 8-11 3-6 0-12 6-18-1-8-5-14 0-12-7-12-6-6-6-5-2-13-7-12-3-4-8-5-12-13-25-8-7-4-4-1-16 1-12 4-9-4-5-1-8-1-8 2-9 4-23 8-4 3-8 9-10 7-4 5-4 8-2 6 0 8-10 8-6 8-4 8-1 12-5 18 0 8 5 14 1 12 4 8 4 6 11 10 1 8 2 6 6 11 4 4 8 5 8 10 3 2 37 13 14 0 12-5 9 4 7 1 10 0zM335 434l-4 0-10-5-2-3-2-7-3-4-11-9-12-7-20-9-4 0-8 2-4-1-10-8-1-12 2-4 4-4 2-4 3-24-2-26-2-5-7-7 1-14 12-9 10 2 4 0 12-5 12-6 19-14 3-4 2-7 2-3 12-5 13 5 1 2 2 8 3 4 21 15 22 9 6 1 8-2 4 2 8 7 2 12-2 4-4 4-2 4-3 24 0 14 2 14 3 4 4 4 2 4-2 12-10 8-4 1-6-2-6 1-12 4-12 7-12 8-8 7-4 10-1 2zM338 339l3-6-2-5-6-3-5 2-1 2-1 4 1 5 2 2 4 1z"/>
<path fill="#469eb4" d="M411 485l-20-1-4-2-6-8-4-1-10 0-76 0-6 2-4 6-6 3-18 1-16-2-3-2-2-6-1-28-1-6-35-61-9-15-5-6-6-2-12-2-4-4-2-18 2-18 4-4 12-2 6-2 5-6 9-15 35-61 1-6 1-28 2-6 3-2 16-2 18 1 6 3 4 6 6 2 52 0 36-1 4-2 4-6 8-2 16-1 15 2 3 3 1 5 1 26 2 8 36 63 8 13 4 5 6 3 12 2 4 3 1 5 1 14-1 14-1 5-4 3-16 4-6 6-44 76-2 6 0 20-2 13-4 3zM361 449l36-14 12-12 9-6 5-6 9-22 11-13 6-13 0-10 4-12 2-8-1-6-5-14 0-10-6-13-11-13-5-14-6-11-4-4-8-5-12-12-36-14-13 0-15 3-16-3-14 1-10 5-23 8-11 11-10 7-8 12-6 16-8 9-6 9-3 6 0 12-6 18 1 8 5 14 0 12 7 13 11 13 5 14 6 10 4 4 8 5 10 11 36 14 14 0 14-3 14 3zM341 430l-8 1-10-2-2-2-3-8-3-4-14-11-14-8-16-6-4-1-8 2-4-2-7-8-2-8 0-4 5-6 2-4 3-22 0-14-3-16-7-12 1-6 2-6 8-7 10 1 4-1 24-10 20-15 3-4 3-8 4-2 8-2 6 1 6 2 3 9 3 4 12 9 12 8 22 9 4 0 6-2 4 1 8 9 2 10-7 12-3 22 0 14 2 14 2 5 4 5 2 4-1 6-2 6-5 5-4 3-8-2-6 1-14 5-12 7-17 13-3 4-3 8zM337 341l4-4 1-4-1-4-4-4-7 0-3 2-2 4 1 6 5 4z"/>
<path fill="#49a1b2" d="M425 483l-16 2-16-1-6-3-6-7-4-1-12-1-76 1-4 2-6 7-4 2-8 1-20-1-5-1-3-2-3-10 0-24-3-9-44-75-6-5-14-3-4-2-2-6-1-14 1-14 2-6 4-2 14-3 6-5 43-74 4-10 1-28 1-4 3-4 16-2 18 1 4 2 5 7 3 2 10 1 80-1 5-2 7-8 14-2 20 1 4 2 2 3 2 12 0 20 2 8 45 76 5 5 16 3 4 4 1 6 1 14-1 12-2 6-5 3-14 2-5 5-43 73-4 11 0 18-1 12-2 4zM365 449l10-5 23-9 11-11 8-5 8-10 9-20 11-15 4-9 1-14 5-16-1-8-4-14-1-12-6-12-10-14-6-14-6-10-4-4-8-5-11-11-23-9-8-4-6-2-12 0-16 2-18-2-13 1-9 5-24 9-10 10-10 7-6 7-9 20-11 15-6 13 0 10-4 12-1 8 1 8 4 12 0 10 6 13 11 15 5 12 6 11 4 5 10 6 9 10 37 15 12 0 16-2 18 2zM335 429l-8 0-4-2-7-12-13-10-12-8-20-8-14 0-7-8-3-10 7-12 3-22-1-12-2-16-1-5-6-9 3-10 7-8 14 0 24-10 21-16 7-12 4-1 6-1 10 2 8 12 12 10 12 7 20 9 6 1 6-1 4 1 7 9 2 8-7 12-3 22 1 14 2 16 7 12-1 6-3 6-7 6-8-1-6 1-24 11-20 15-7 12zM338 341l3-2 2-4-1-4-1-3-3-3-3-1-7 1-2 2-2 4 1 6 2 3 4 2 4 0z"/>
<path fill="#4ca5b1" d="M423 483l-14 2-16-1-6-3-6-7-10-2-82 1-4 1-5 7-3 2-12 2-20-1-4-2-3-3-2-12 0-20-3-9-43-75-7-5-14-3-4-2-2-6-1-14 1-14 2-6 4-2 14-3 6-4 44-75 3-10 1-28 1-4 3-3 14-3 18 1 6 2 5 7 3 2 10 1 80 0 6-3 6-7 14-3 20 2 4 1 2 3 2 12 0 20 2 8 44 76 6 5 16 3 4 4 1 6 1 14-1 12-3 6-4 2-14 3-6 5-42 72-4 10 0 20-1 12-2 4zM367 449l8-4 24-10 10-10 9-6 7-10 9-18 11-16 5-12 1-12 4-16 0-8-4-12-1-14-5-10-11-16-7-15-6-10-4-4-8-5-10-10-24-10-8-4-6-1-10-1-18 2-22-2-10 2-33 14-9 9-10 7-6 7-10 21-12 17-5 11 0 12-5 16 1 8 4 12 1 14 6 12 10 14 12 24 6 6 8 5 8 9 25 10 8 4 5 1 12 1 16-2 22 2zM339 427l-8 1-6-2-2-1-4-8-4-4-14-11-10-6-20-8-14-1-6-6-3-8 1-4 4-5 2-5 3-24-3-26-2-6-5-8 1-4 3-6 5-6 14-1 24-10 22-17 6-10 4-2 6-1 6 1 4 1 5 9 3 3 22 16 22 10 6 1 6-1 3 1 5 6 3 8 0 4-4 6-2 4-3 24 1 12 2 16 6 12 0 4-3 6-6 7-14 1-16 6-10 5-17 13-4 4-4 8zM335 343l4-2 2-2 2-4 0-4-2-4-2-2-4-2-4 0-6 4-1 4-1 4 4 6 4 2z"/>
<path fill="#4fa9b0" d="M423 483l-14 2-16-2-6-2-6-8-10-1-82 0-4 2-6 7-2 2-12 1-20-1-4-1-3-3-2-12 0-22-3-8-43-74-4-4-3-2-14-2-4-3-2-5-1-14 1-14 2-5 4-3 14-2 6-5 12-19 32-56 3-10 0-16 1-12 1-4 3-3 14-2 18 1 6 2 7 8 13 1 78 0 6-3 6-7 14-2 20 1 4 2 2 2 2 12 0 22 2 7 44 75 6 5 16 4 3 3 2 6 1 14-2 16-4 3-16 4-6 5-42 71-4 11 0 20-2 12-2 4zM361 451l8-2 31-14 9-9 10-7 6-8 9-18 13-20 4-10 1-12 3-10 1-8-1-8-3-10-1-12-4-10-13-20-12-22-5-6-8-5-10-10-10-3-20-10-8-2-28 1-20-1-12 1-34 15-8 8-10 7-8 10-9 19-13 20-3 8-1 12-4 12 0 6 0 6 4 12 1 12 5 12 11 16 13 25 4 4 10 7 8 8 12 5 19 9 7 2 12 0 16-1zM341 425l-8 2-8-2-9-12-21-15-24-10-14-2-5-7-2-6 5-13 3-25-3-28-5-12 0-4 3-6 3-4 3-2 12 0 24-10 21-16 9-12 6-2 6 1 5 1 9 12 22 16 24 10 12 1 5 5 3 8-1 4-4 10-3 24 2 26 2 6 4 8 0 4-3 6-5 5-14 2-26 11-18 14zM337 343l4-2 2-4 1-4-1-4-2-3-4-3-4-1-4 1-3 2-3 4 0 4 0 4 3 4 3 2 4 1z"/>
<path fill="#52acae" d="M421 483l-14 1-14-1-5-2-7-8-10-2-82 1-4 1-8 9-12 2-20-1-4-1-2-3-3-12 0-22-3-9-43-73-3-4-4-2-14-3-4-2-2-5-1-14 1-14 2-5 4-2 14-3 6-4 13-20 31-55 3-9 0-18 1-12 2-4 2-3 14-2 18 1 6 2 4 6 4 3 16 1 74-1 6-2 6-8 14-2 18 1 4 1 3 3 2 12 0 22 3 8 44 75 6 5 14 2 5 4 2 6 1 14-3 16-3 3-15 3-6 4-9 14-30 52-8 16-1 22-1 12-2 4zM365 451l36-16 8-8 10-7 8-11 9-18 11-17 5-11 1-12 3-12 0-6-3-18-1-12-5-11-11-17-13-24-6-7-8-5-8-8-12-5-19-9-7-2-12-1-18 1-20-1-12 1-35 16-7 7-10 7-8 10-9 18-13 21-4 9-1 12-3 11-1 7 1 7 3 11 1 12 6 13 11 17 7 14 6 10 4 4 10 7 8 8 12 4 17 9 7 2 50 1zM339 425l-6 1-6-1-12-14-14-11-8-4-22-9-10-1-4-2-4-5-2-6 5-14 3-24-3-28-5-12 0-4 3-6 5-4 13-2 24-10 21-16 8-10 4-2 4-1 8 2 9 11 21 16 24 10 14 2 5 6 2 6-5 14-3 26 3 26 5 12 0 4-2 4-5 6-14 2-26 11-19 15-8 10zM339 343l4-4 1-4-1-8-6-5-4 0-5 1-3 2-2 4-1 6 2 4 3 3 4 2 4 0z"/>
<path fill="#56b0ac" d="M421 483l-14 1-14-1-5-2-7-9-12-1-80 0-4 2-8 9-12 2-20-1-4-2-2-2-2-14 0-20-4-10-31-54-13-20-6-4-14-3-4-3-2-6-1-12 1-12 2-6 4-3 15-3 5-4 13-20 31-54 4-10-1-18 2-12 1-4 2-2 4-2 10-1 18 1 5 2 5 7 4 2 18 1 72 0 6-3 6-7 12-3 20 1 4 1 3 3 2 12 0 22 3 9 29 51 15 24 6 4 14 3 5 3 1 6 1 14 0 10-2 6-5 3-14 3-6 4-9 14-28 48-10 20 0 22-1 12-3 4zM367 451l22-11 10-3 20-16 6-8 11-20 11-18 5-12 2-14 3-12 0-8-3-12-2-14-5-12-11-18-13-23-6-7-18-13-10-4-18-9-8-3-50 0-13 1-23 11-12 5-6 6-10 7-10 13-9 18-11 17-5 11-4 30 4 30 5 11 11 17 13 24 6 7 18 14 10 4 18 9 8 3 50 0zM339 424l-6 1-6-1-12-13-20-15-22-9-14-3-5-5-2-6 5-16 3-24-3-24-5-14 0-4 2-4 5-5 14-3 24-10 20-15 9-11 7-2 4 0 4 2 8 10 22 17 23 9 15 3 4 5 2 6-4 14-4 26 4 28 4 10 0 4-2 4-2 3-4 3-13 2-25 10-20 16zM340 343l3-3 2-5 0-4-1-4-3-3-4-2-4-1-6 2-4 4-1 4 1 8 4 4 4 2 4 0z"/>
<path fill="#59b4ab" d="M419 483l-12 1-14-1-4-2-8-9-12-1-80 0-5 2-7 9-12 2-20-1-4-2-2-2-2-14 0-20-4-10-29-52-14-22-6-4-15-3-4-3-1-6-1-12 1-12 1-6 4-3 15-3 6-4 14-22 29-52 4-10 0-18 1-12 3-6 4-2 10-1 18 1 5 2 5 7 4 3 22 1 68-1 6-2 6-8 12-3 20 1 4 2 3 2 2 12 0 22 3 9 31 55 13 20 5 4 15 3 4 3 2 6 1 14-1 12-2 5-4 2-14 3-6 4-31 52-13 23-3 7 0 22-2 12-3 5zM353 453l16-2 20-11 10-3 18-13 7-9 12-22 11-17 6-13 4-30-4-28-5-14-25-42-6-6-16-13-12-4-16-9-8-3-12-1-20 1-18-1-14 1-6 2-18 10-12 5-16 12-10 14-8 16-12 18-6 14-3 28 3 28 6 14 24 41 6 7 16 12 12 5 18 10 6 2 12 1 20-1zM337 424l-6 0-4-2-11-11-20-16-21-8-16-4-4-4-2-6 4-15 4-25-4-25-4-13 0-4 2-4 4-4 16-4 22-9 20-16 10-10 6-2 4 0 4 3 10 10 20 16 22 8 16 5 3 3 2 6-4 16-4 24 4 26 4 12 0 4-2 4-5 5-14 3-24 9-20 16-8 9zM337 345l4-2 3-4 2-4-1-6-2-4-4-3-4-1-6 0-4 3-2 3-2 4 1 6 2 4 3 3 4 1z"/>
<path fill="#5cb7aa" d="M417 483l-12 1-12-2-4-1-6-8-2-2-14-1-78 1-5 2-7 8-12 3-18-1-4-1-4-3-2-12 0-22-3-10-30-52-14-22-5-4-16-3-3-3-2-6-1-12 1-12 2-6 3-3 16-3 5-4 14-22 30-52 3-10 1-28 1-5 3-3 5-2 10-1 16 1 4 2 6 8 4 2 24 1 66 0 6-3 7-8 11-2 20 0 4 2 2 2 2 4 1 10-1 20 4 10 29 52 14 22 6 4 15 3 4 3 2 6 1 14-1 12-2 4-4 3-14 3-4 2-7 8-12 20-30 54-1 6 1 18-2 12-3 4zM362 453l9-2 18-10 12-5 18-14 8-11 22-37 5-13 3-28-4-30-6-14-24-40-6-7-17-13-11-4-18-10-8-2-50 0-14 1-7 3-15 9-13 5-17 13-9 13-8 16-11 18-6 14-4 28 4 29 6 14 24 41 6 7 18 13 10 3 18 11 8 2 12 1zM335 423l-4 0-4-2-10-10-20-16-21-8-17-5-3-3-2-6 3-12 5-28-5-28-3-10 0-4 2-4 5-4 15-4 21-8 20-16 10-10 6-2 6 1 11 11 20 16 39 14 3 4 1 4-4 17-3 23 3 23 4 15 0 4-2 4-4 4-16 4-22 8-20 17-9 9zM338 345l4-2 3-4 1-6-1-5-3-5-4-2-5-1-4 1-4 2-3 4-1 4 0 6 2 4 5 4 5 1z"/>
<path fill="#60bba8" d="M415 483l-10 1-12-2-4-2-5-7-3-2-14-1-78 0-6 3-6 8-12 2-18 0-4-1-3-3-3-12 0-24-3-8-28-50-15-24-5-4-15-3-5-3-2-6-1-12 1-12 2-6 5-3 14-3 6-4 15-24 27-48 4-10 0-20 1-12 2-4 2-2 15-2 16 1 4 1 6 8 4 2 24 2 66-1 6-2 7-9 11-2 18 0 6 2 2 2 1 4 2 10-1 22 3 8 30 52 14 22 5 4 16 3 4 3 2 6 1 14-2 12-1 4-4 3-14 2-5 3-5 6-9 14-33 60-2 6 1 18-2 14-3 4zM365 453l8-2 16-10 15-6 15-12 10-14 20-34 6-14 3-28-4-30-6-14-24-40-7-8-17-12-11-4-16-10-10-2-50-1-16 2-7 3-13 8-11 4-17 13-9 11-21 36-7 16-3 24 0 10 4 24 6 14 24 40 6 7 17 13 12 4 16 10 7 2 12 1 38 0zM339 421l-4 2-6-1-30-27-21-8-19-6-4-4-1-4 5-20 3-20-4-26-4-12 1-6 2-3 4-2 17-5 21-8 19-16 9-9 6-3 6 2 10 10 19 16 39 13 4 4 2 5-4 15-4 25 4 26 3 12 0 6-5 5-12 3-27 10-19 16zM340 345l4-4 2-4 1-6-2-4-3-4-5-3-6 0-4 1-4 3-2 5-1 6 1 4 3 4 5 3 6 0z"/>
<path fill="#63bea6" d="M413 483l-12 0-10-2-3-2-5-7-4-2-22-1-66 1-6 1-6 8-6 3-16 1-15-2-2-2-2-6-1-12 1-16-1-6-29-52-12-20-7-8-6-3-14-3-3-2-2-6-1-10 2-18 4-4 14-3 6-3 7-8 12-20 29-52 1-6-1-16 1-12 2-6 3-2 14-2 16 1 6 3 4 7 6 2 56 1 34-1 4-2 6-8 6-2 16-1 13 2 3 3 2 5 1 12-1 16 1 6 30 54 13 20 4 6 6 3 14 3 4 3 2 5 1 12-1 12-2 5-4 3-16 4-4 3-4 5-29 48-14 26-1 6 0 22-2 12-4 3zM368 453l9-3 13-9 9-3 5-3 15-11 11-15 19-34 6-14 3-28-3-30-7-14-23-40-8-9-16-11-12-4-15-10-9-2-12-1-38 0-18 2-8 3-12 8-11 4-17 12-10 12-20 36-7 16-3 23 0 10 3 25 6 14 24 40 7 8 16 12 12 4 16 10 10 3 50 1zM337 421l-6 1-4-2-18-17-12-10-37-12-4-4-1-4 8-40-8-38 1-6 5-5 30-9 8-3 28-26 6-2 6 2 28 25 40 14 4 4 1 4-8 40 5 28 3 10-1 6-2 3-4 2-28 9-10 4zM334 347l5-1 4-3 3-4 1-6-1-6-3-4-4-3-6-1-6 2-3 2-3 4-2 6 2 6 3 4 5 3z"/>
<path fill="#66c2a5" d="M411 483l-12 0-8-2-3-2-5-8-4-1-24-1-64 0-7 2-5 8-6 3-16 1-14-2-4-4-1-6-1-10 1-16-1-6-29-52-12-20-6-8-7-3-14-3-4-4-2-16 2-16 4-4 14-3 7-3 5-6 11-18 31-56 1-6-1-16 1-10 1-6 4-4 14-2 16 1 5 3 5 7 6 3 56 1 34-2 4-1 6-9 6-2 14-1 15 2 3 3 1 5 1 12 0 16 1 6 30 54 12 20 5 6 6 3 14 3 4 3 2 7 0 10-1 12-1 5-4 3-17 4-3 2-5 6-28 48-14 26-1 6 0 20-2 13-4 3zM354 455l11-1 8-2 8-4 8-6 13-5 15-10 8-10 25-42 6-14 2-28-2-26-6-16-25-42-8-10-15-10-13-5-14-9-10-3-12-1-38 0-16 2-10 3-12 9-12 4-12 8-8 7-7 11-21 36-6 14-2 28 2 26 6 16 23 40 9 11 13 9 5 3 10 3 14 10 8 3 14 1zM335 421l-4 0-4-2-28-25-38-13-4-3-1-5 8-40-8-38 1-6 2-3 4-2 35-11 29-26 6-2 6 1 28 25 39 14 4 4 1 4-7 40 7 38-1 6-5 5-36 11-30 27zM337 347l4-2 4-4 2-6 0-6-2-4-4-4-6-2-6 0-4 2-4 5-2 5 0 6 4 6 4 3 4 1z"/>
<path fill="#6fc5a5" d="M421 482l-12 1-14-1-6-3-4-6-4-3-20-2-48 0-24 1-6 2-6 9-4 2-8 1-18-1-4-1-3-4-2-14 1-20-5-12-26-46-16-24-5-4-16-4-4-2-2-6-1-12 1-12 2-6 4-2 16-4 5-4 16-24 24-42 6-14 0-28 2-8 3-3 12-3 16 1 6 2 8 10 6 1 18 1 68-1 6-2 8-9 10-3 10 0 10 2 4 1 2 3 2 14-1 20 4 10 28 50 14 22 7 5 14 3 5 2 2 6 1 14-1 12-3 5-20 5-6 6-32 54-12 22-1 6 1 16-1 12-2 6zM364 455l13-4 12-9 14-5 10-6 9-8 8-12 20-34 7-16 2-28-2-28-7-16-24-40-9-11-14-9-14-5-12-9-12-4-12-1-38 0-20 3-8 3-10 8-13 5-15 10-11 14-20 34-6 14-3 10-1 24 2 26 6 14 24 42 9 10 15 10 13 5 12 9 12 4 16 1zM337 420l-4 1-4-1-30-27-38-13-3-3-2-4 8-40-8-38 2-6 5-4 36-12 28-25 6-3 6 2 28 25 38 13 4 4 2 4-8 40 7 38-1 6-4 4-37 12zM339 347l6-4 2-4 1-6-1-6-4-6-4-2-6-1-6 1-4 3-4 5-1 6 1 6 4 5 4 3 6 1z"/>
<path fill="#77c9a5" d="M421 481l-12 2-14-2-5-2-5-7-4-3-8-1-18-1-42 0-24 1-6 3-6 8-2 1-10 2-18-1-4-1-3-3-2-14 1-22-7-16-24-42-15-22-6-5-16-3-4-3-2-5-1-12 1-12 2-5 4-3 16-3 7-5 14-22 22-38 9-20-1-26 2-8 3-5 12-2 16 1 6 2 6 9 4 2 28 1 40 0 24-1 5-3 7-9 10-2 18 1 4 1 3 3 3 14-1 22 6 14 26 46 13 20 6 5 16 3 4 2 1 2 2 8 1 10-1 10-3 6-4 2-16 4-7 6-32 52-12 24 0 6 1 18-1 10-3 6zM370 455l9-3 10-9 16-6 14-10 11-14 20-34 6-12 3-12 0-42-2-10-7-16-20-34-9-12-6-6-11-6-15-6-10-9-12-3-14-2-42 0-18 3-8 4-8 8-15 5-10 6-5 5-10 13-21 36-6 12-2 10 0 42 2 10 6 14 25 42 9 10 12 8 15 6 12 9 12 4 14 1 36 0zM335 420l-4-1-4-2-26-24-10-4-28-9-4-3-2-4 8-40-8-38 2-6 4-3 36-12 28-25 6-3 6 3 27 24 39 13 3 3 2 4-8 40 8 38-2 6-5 4-36 12-28 25zM335 349l6-2 5-4 3-6 0-6-2-6-4-5-6-3-6 0-6 2-4 4-3 6-1 6 2 6 4 4 6 4z"/>
<path fill="#80cca5" d="M419 481l-12 1-12-1-5-2-5-8-4-3-10-2-18-1-42 1-22 1-6 3-5 7-3 3-10 2-18-1-4-2-2-2-3-14 1-24-9-20-22-38-14-20-7-5-16-4-4-3-2-6-1-10 1-10 2-6 4-3 16-4 8-5 13-20 22-38 9-20 0-28 1-8 3-4 12-3 16 1 5 2 7 9 4 2 30 3 40 0 22-2 6-4 6-8 10-3 18 1 4 1 3 3 2 14-1 22 2 6 7 14 20 36 16 24 7 5 16 4 5 3 2 6 0 12-1 11-3 5-19 5-5 3-3 4-11 16-20 34-13 26 1 24-1 12-3 4zM365 457l14-4 11-10 12-4 13-7 8-7 9-12 21-36 6-18 1-46-2-10-8-18-18-32-9-12-6-6-7-4-20-8-11-10-10-3-16-2-40 0-18 2-10 5-8 8-16 6-10 6-9 8-8 12-20 34-6 16-1 8 0 40 1 8 6 16 20 34 10 14 9 8 12 6 10 3 12 11 10 3 20 2 36 0zM337 418l-4 1-4-1-30-27-36-12-3-2-2-4 8-40-8-36 1-7 2-2 4-2 34-11 28-25 6-3 6 2 26 24 6 3 32 10 4 3 2 4-7 40 7 36-1 6-5 5-36 12zM339 349l6-4 3-4 2-6-1-8-4-6-6-4-6-1-6 1-6 4-3 6-2 6 2 6 3 6 6 4 6 1z"/>
<path fill="#88d0a4" d="M417 481l-10 1-12-1-4-2-6-9-4-3-8-2-22-2-38 0-24 3-6 3-7 10-9 2-18 0-4-1-4-3-1-6-1-8 1-24-12-28-16-28-16-22-7-5-18-4-4-3-1-6-1-10 1-10 2-6 3-3 18-4 7-5 16-22 16-28 12-28-1-26 1-10 3-4 6-2 8-1 14 1 6 3 4 7 6 4 30 4 36 0 24-3 4-1 4-3 6-9 8-2 18 0 6 2 2 2 2 6 1 8-1 24 11 26 18 32 15 20 8 6 16 3 4 3 2 6 1 12-1 10-2 4-4 3-15 3-5 3-7 7-14 20-16 28-11 24-1 6 2 20-2 12-3 4zM362 459l17-5 4-3 8-8 12-4 13-6 9-8 9-12 9-17 11-17 6-18 1-6-1-14 1-30-1-6-6-18-11-17-9-17-9-12-10-8-12-6-12-4-10-10-14-5-16-2-18 0-16 0-18 2-12 4-12 11-11 4-13 6-11 10-10 14-7 14-9 14-8 22 1 36-1 12 1 6 7 20 9 14 7 14 10 14 11 10 13 6 11 4 12 11 12 4 18 3 16-1 18 0zM337 417l-4 1-4-1-30-27-36-12-4-3 0-4 8-38-8-36 1-6 5-4 35-12 27-24 6-3 6 2 28 25 36 12 4 3 1 5-7 38 7 36-1 6-2 3-4 2-34 11zM341 349l5-4 4-6 1-8-2-6-4-5-6-4-8-1-6 2-5 4-3 6-1 8 1 6 4 5 6 4 8 1z"/>
<path fill="#91d3a4" d="M241 239l-2 2-1-2 3-14-2-24 2-10 3-4 5-2 10-1 14 2 4 3 6 9 4 2 11 3 3 2-16 7-10 11-23 8zM427 240l-13-9-23-9-10-10-15-7 3-2 14-4 7-10 5-3 14-1 14 2 3 4 2 10-2 24 3 14zM335 417l-6-1-28-25-36-12-5-4 0-4 7-38-7-36 0-6 5-4 36-12 26-23 6-3 6 2 27 24 37 13 4 3 0 4-7 38 7 36 0 6-6 4-35 12-27 24zM205 369l-14-13-18-4-4-2-3-5-1-12 1-12 3-5 4-2 18-4 4-3 10-10 1 2-1 12 1 22-1 22 1 12zM461 369l1-14-2-16 1-16 1-12-1-14 14 12 22 6 3 6 2 12-2 12-3 6-22 6zM338 351l7-3 4-5 2-8 0-6-2-6-6-6-6-2-8 0-6 3-5 5-3 6 0 8 3 6 6 6 7 3zM267 481l-8 1-10-1-5-2-3-4-2-14 2-22-2-10 0-4 13 10 23 8 10 11 16 7-2 2-14 4-4 3-6 9zM415 481l-12 0-10-1-3-3-7-10-15-4-2-2 15-7 10-10 24-9 12-9 2 1-3 12 2 20-1 14-2 4-2 2z"/>
<path fill="#9ad6a4" d="M245 234l-2 0-1-1-3-28 2-13 2-3 2-2 14-2 14 2 3 2 7 10 10 6-10 8-8 9-20 7zM423 234l-11-5-21-7-8-10-9-7 9-5 7-11 5-3 14-1 8 1 6 2 3 5 1 12-2 20 0 8zM337 415l-4 2-4-2-28-25-36-12-4-3-1-4 8-38-8-36 1-6 6-4 34-11 26-23 6-3 6 2 26 23 36 12 5 4 1 4-7 38 7 36-1 6-5 3-36 13zM203 361l-2 1-11-7-19-4-2-2-2-3-2-11 1-12 3-6 4-3 17-3 11-7 2 1 3 22 0 16zM467 361l-2 1-1-1-3-22 0-18 4-17 12 7 16 3 4 2 3 5 1 10-1 14-3 5-4 2-16 3zM341 351l6-4 4-7 1-7-1-8-4-6-6-4-8-1-8 1-6 5-4 7-1 8 2 6 4 6 7 5 8 1zM263 481l-16-1-4-2-2-3-1-8-1-8 4-27 11 5 21 7 8 9 10 8-10 6-8 11-4 2zM411 481l-10 0-8-2-3-2-5-9-11-7 9-7 8-10 21-7 11-5 2 1 0 8 2 16-1 16-2 4-2 2z"/>
<path fill="#a2daa4" d="M251 229l-6 2-4-12-1-14 2-14 3-3 8-2 10-1 10 2 4 4 4 7 8 7-1 2-13 15zM421 231l-28-9-14-15-1-2 7-6 5-8 3-3 8-2 12-1 8 2 4 4 2 10 0 10-4 18zM335 416l-6-2-28-25-36-12-3-2-1-4 7-38-7-36 1-6 5-3 34-11 26-24 6-3 6 3 26 23 36 12 4 3 1 4-7 38 7 36-1 6-6 4-34 11-26 23zM201 358l-2 0-10-4-16-3-4-2-2-6-1-10 1-10 2-6 4-2 16-3 10-4 2 0 4 13 1 12-1 12zM471 357l-4 2-2-3-4-15 1-20 3-11 2-2 10 4 16 3 4 2 3 4 1 8 0 12-3 8-5 2-14 3zM338 353l7-3 4-5 4-8 0-8-4-8-4-5-8-3-8 0-6 2-6 6-4 8 0 8 4 8 6 6 8 2zM271 480l-10 1-10-1-6-1-3-4-2-8 0-10 1-10 4-12 30 9 13 15 1 2-8 7-5 9zM419 480l-14 1-12-2-3-4-5-8-7-6 1-2 14-15 28-9 2 2 3 12 1 14-2 12-2 3z"/>
<path fill="#abdda4" d="M255 227l-8 2-2-2-2-4-2-10-1-8 2-14 5-4 8-1 10 0 8 2 4 3 4 8 4 4 1 2 0 2-11 14zM421 228l-4 1-24-7-3-3-9-12 0-2 1-2 11-15 8-2 10 0 10 2 4 3 1 8 1 10-2 10zM333 415l-6-3-26-23-35-12-3-2-2-4 8-38-7-36 1-6 4-2 34-12 26-23 6-3 6 3 26 22 36 13 3 2 2 4-7 38 6 36-1 6-5 3-34 11-26 24zM199 356l-24-5-6-3-2-7-1-10 2-10 3-5 26-6 2 0 2 2 3 9 1 16-2 12-2 5zM473 355l-4 1-2 0-3-7-2-8 0-20 3-8 2-3 2 0 26 6 4 4 2 9-1 12-3 8-4 2zM341 353l6-4 5-8 2-8-2-8-3-6-6-5-8-2-8 1-8 4-4 6-3 8 1 8 4 8 6 5 8 2zM271 479l-8 2-10-1-8-2-3-3-2-10 0-10 3-12 2-4 2-2 26 7 4 3 9 12 0 2-5 6-4 8-2 2zM419 479l-16 1-8-1-4-3-4-7-6-8 0-2 11-14 5-2 18-5 6 0 4 11 2 14-2 12-2 2z"/>
<path fill="#b2e0a2" d="M251 227l-4 0-2-2-4-10-1-12 3-12 4-3 8-2 10 0 8 2 3 3 7 12 1 4-10 14-7 3zM419 227l-8-1-14-3-7-4-6-10-2-4 9-14 2-2 8-3 10 0 8 1 5 4 2 8 0 12-3 12-2 3zM337 413l-4 1-4-1-28-25-34-11-3-2-2-4 8-38-8-34 1-7 4-3 34-11 26-23 6-3 6 2 26 23 35 12 3 2 2 4-7 38 7 34-1 6-1 2-4 2-34 12zM336 355l7-2 7-6 4-8 0-8-2-8-5-7-8-4-8-1-8 2-7 6-4 8-1 8 3 8 5 7 8 4zM199 354l-4 1-20-4-6-4-2-6-1-10 2-10 3-4 4-2 20-4 4 1 2 2 3 9 1 14-2 10zM479 353l-10 2-4-4-2-6-1-10 1-12 2-8 2-3 2-1 24 4 4 3 2 5 2 12-3 12-5 4zM269 479l-8 1-10 0-6-2-2-3-3-10 1-10 2-10 4-6 10 1 16 4 3 3 8 12 0 4-8 12-3 3zM417 479l-8 1-10 0-6-2-2-3-9-14 2-4 8-12 21-6 6 0 2 1 4 11 1 14-2 10-3 3z"/>
<path fill="#bae3a1" d="M259 225l-10 1-3-1-2-4-3-14 1-14 3-4 6-2 10-1 10 2 5 3 6 12 1 4-8 13-4 2zM419 226l-8 0-14-3-4-2-4-4-5-12 7-14 2-2 8-3 10 0 8 2 5 3 2 8 0 12-3 10zM335 414l-2 0-4-2-28-24-34-12-2-1-2-4 7-38-7-34 0-6 6-4 32-10 27-24 5-3 6 3 25 22 35 12 3 2 2 4-6 38 6 34 0 6-5 4-34 11-26 23zM340 355l7-4 6-8 2-8-1-10-5-8-6-5-8-2-8 1-8 4-5 6-3 8 0 10 4 8 8 7 8 2zM197 354l-22-3-6-4-2-6 0-10 1-10 3-4 6-2 18-3 4 1 2 3 3 9 0 14-2 10-3 4zM477 353l-6 1-3-1-3-4-2-6-1-10 1-10 2-6 4-5 4 0 20 4 4 3 3 6 0 12-1 6-2 5-6 3zM269 479l-8 1-8 0-6-2-4-3-2-8 0-10 2-10 4-7 6 0 16 3 4 2 4 4 5 8 1 4-7 14-3 3zM417 479l-8 1-8 0-6-2-4-3-7-14 5-12 4-4 8-3 12-2 4 0 4 2 4 9 1 14-2 10-3 3z"/>
<path fill="#c1e6a0" d="M257 225l-8 0-3-2-3-4-2-14 2-12 3-4 7-2 10-1 8 2 4 3 1 2 5 10 1 4-5 10-4 4zM417 226l-10-1-10-3-4-2-3-3-4-8-1-4 5-12 4-4 7-2 10-1 8 2 4 3 3 10-1 12-2 8-2 2zM333 413l-6-3-24-22-8-3-26-9-5-3 0-6 7-34-8-36 1-4 3-2 28-9 8-4 24-22 6-3 6 3 24 21 36 13 4 3 1 4-6 36 5 34 0 6-6 4-32 11-26 22zM335 357l8-2 8-6 4-8 1-8-2-10-5-8-8-5-8-1-8 2-8 5-5 7-3 10 3 10 5 8 8 5zM195 353l-18-2-4-1-3-3-3-8 0-10 2-8 3-4 7-2 16-2 4 1 2 3 3 10 0 14-3 8-2 3zM473 353l-4 0-2-2-4-8 0-14 0-6 3-6 3-3 4-1 16 2 6 2 3 4 2 10-1 10-2 6-6 4zM267 479l-8 1-8-1-5-2-3-3-2-9 0-10 2-8 4-5 6-2 16 4 6 3 3 4 4 8-1 4-6 12-4 3zM415 479l-8 1-8-1-5-2-3-3-6-13 3-8 5-7 10-4 12-2 4 1 3 4 4 12-1 13-2 5-2 2z"/>
<path fill="#c8e99e" d="M265 223l-10 2-6-1-5-5-2-8-1-10 2-8 4-4 8-2 10 0 7 2 4 4 5 10-1 6-5 10-4 2zM419 224l-6 1-10-2-8-2-4-3-4-9-1-4 7-15 6-3 10 0 8 1 6 3 2 8 0 10-2 10zM337 411l-4 1-4-1-22-21-6-4-34-11-2-2-1-4 7-36-7-34 1-6 4-3 34-11 24-22 6-3 6 3 24 21 36 12 3 3 1 4-6 36 6 34-1 6-6 4-27 8-6 3zM340 357l9-5 5-7 3-10-2-10-4-8-6-6-8-3-10 1-9 4-7 8-2 8 0 10 4 8 8 8 10 3zM197 352l-4 0-14-1-6-2-3-2-2-6-1-8 1-10 3-5 6-2 16-2 4 0 3 3 3 8 1 14-2 8zM485 351l-14 1-4-2-2-4-2-7 0-12 2-8 4-5 6 0 14 1 6 3 3 3 2 12-2 12-4 4zM265 479l-8 0-8-1-4-2-2-3-2-10 1-10 3-8 4-3 10 0 13 3 4 4 4 8 1 6-6 12-4 3zM413 479l-8 0-8-1-4-2-2-3-5-10 0-4 5-10 4-4 10-3 10-1 4 1 4 5 3 12-2 12-3 6z"/>
<path fill="#d0ec9c" d="M263 223l-12 1-4-1-3-4-2-8 0-10 1-8 4-4 10-2 10 1 6 2 4 5 3 10-2 8-5 7zM419 223l-6 1-10-1-8-2-4-4-4-8-1-4 7-14 6-3 8-1 10 1 5 3 3 8 0 10-2 9zM335 411l-2 1-4-2-26-23-34-12-3-2-1-4 7-36-7-34 0-4 1-2 3-2 34-12 25-22 5-2 6 2 24 21 36 13 3 2 1 4-6 36 5 34-1 6-7 4-31 10zM335 359l10-3 6-5 5-10 1-10-2-10-6-8-8-5-10-1-10 3-8 7-4 8-2 10 3 10 7 8 8 5zM197 351l-4 1-12-1-6-1-4-3-3-6-1-8 1-8 3-6 6-3 14-2 6 1 3 2 3 8 0 12-2 10zM483 351l-12 1-4-3-2-4-2-10 1-10 3-8 4-3 8 0 12 2 5 3 2 4 1 12-2 11-4 3zM263 479l-14-1-4-3-2-3-2-9 1-10 3-7 4-4 10 0 12 3 5 4 4 8 0 6-5 11-4 3zM411 479l-12-1-6-3-5-10-1-6 4-10 4-4 10-2 10-1 4 1 4 5 2 9 0 8-1 6-2 4-3 2z"/>
<path fill="#d7ef9b" d="M261 223l-8 1-4-1-4-4-2-4-1-8 1-10 2-6 4-2 10-2 11 2 5 4 4 8 1 6-5 10-4 4zM417 223l-6 1-10-2-6-2-3-3-4-8-1-4 4-11 4-4 8-3 8 0 8 2 4 4 2 10-1 10-3 7zM337 409l-4 2-4-2-26-23-32-11-4-2-2-4 7-36-6-34 0-4 1-2 4-2 32-11 26-23 4-2 4 2 26 22 34 12 4 2 1 4-6 36 6 34-1 5-6 4-32 11zM341 359l6-3 4-3 5-8 2-10-2-12-4-8-7-6-10-3-10 1-10 6-6 8-3 10 1 10 6 10 8 6 10 3zM195 351l-16-1-4-1-4-2-2-6-1-10 1-8 4-5 8-2 12-1 4 1 3 3 3 10 0 12-4 8zM481 351l-8 0-4-1-4-7-1-8 0-10 3-7 4-3 10 0 11 2 3 2 3 6 1 10-2 10-5 4zM269 478l-14 1-6-2-4-2-2-6-1-10 1-8 4-7 6-2 8 1 10 2 4 4 5 10-1 4-4 10-2 3zM417 478l-14 1-6-2-4-2-6-14 3-8 3-6 6-3 12-2 6 1 4 3 3 7 1 12-2 8-2 3z"/>
<path fill="#dff29a" d="M259 223l-10-1-4-4-3-9 1-12 2-5 4-3 8-1 10 0 6 3 2 3 4 9-1 6-2 6-3 4-6 3zM415 223l-14-1-6-2-3-3-4-8 0-4 3-10 4-5 8-2 8 0 8 2 3 3 3 10-1 10-3 7zM335 410l-2 0-4-2-26-23-32-11-4-2-1-3 7-36-6-32 0-6 2-2 4-2 30-10 26-23 4-2 6 3 24 21 34 11 3 2 1 4-5 36 5 34 0 4-5 4-33 11zM338 361l9-3 4-4 4-5 3-10 0-12-3-9-6-8-8-4-12-1-10 4-9 8-4 10-1 10 4 10 8 9 10 5zM191 351l-14-2-4-1-3-3-2-8 0-8 1-6 4-5 8-2 12-1 4 1 4 5 2 10-1 12-2 4-3 3zM477 351l-4 0-4-2-4-6-1-12 2-10 3-4 4-2 12 1 8 2 3 3 2 6 1 8-2 9-2 3-4 2zM269 477l-8 2-8-1-6-2-3-3-2-8 1-10 2-7 4-4 8-1 10 1 6 3 3 4 2 6 1 6-4 10zM417 477l-6 1-8 0-6-1-4-3-5-13 2-8 4-6 7-3 10-1 6 0 4 3 3 9 1 10-2 8-2 2z"/>
<path fill="#e6f598" d="M267 221l-14 2-4-1-4-4-2-7-1-8 2-8 3-4 6-3 10 0 8 2 3 3 4 10 0 6-4 8-3 3zM417 222l-6 1-8-1-6-2-4-3-3-6-2-6 4-10 3-4 6-3 10 0 8 2 3 3 2 8 0 10-3 8zM337 407l-4 2-4-2-26-23-32-11-3-2-1-2 7-36-7-34 1-4 3-2 32-11 26-23 4-2 4 2 24 20 34 12 4 2 2 4-6 36 5 34 0 4-6 4-31 10zM343 361l9-6 6-10 2-12-3-12-4-8-8-7-10-3-10 1-10 6-8 9-3 12 1 12 6 10 10 7 12 3zM197 349l-6 2-10-1-6-2-4-3-2-6-1-8 2-8 3-4 6-3 10-1 6 1 4 3 3 6 1 10-2 9zM489 349l-16 1-4-1-3-4-2-8 1-10 2-7 4-4 6-1 10 1 6 2 3 3 3 10-1 10-3 5zM267 478l-6 0-8 0-6-2-2-3-3-8 0-8 3-9 4-4 6-1 10 1 7 3 3 4 3 8 0 6-5 10zM415 478l-6 0-8 0-6-2-2-3-4-8-1-6 3-8 4-4 8-3 8-1 6 1 4 3 3 10 0 10-3 8z"/>
<path fill="#e9f69d" d="M265 222l-8 1-6-1-4-2-2-3-2-8 0-8 2-8 4-3 8-2 8 0 6 2 4 5 3 10-1 6-4 7zM417 221l-6 2-8-1-6-2-4-3-3-6-1-6 3-10 3-4 6-2 8-1 8 2 5 3 2 8 0 10-3 7zM335 407l-2 1-4-2-24-22-6-2-27-9-3-2-1-4 7-34-7-32 1-6 4-2 26-8 6-3 24-22 4-2 4 2 24 20 33 11 5 4 1 4-5 34 4 32 0 6-7 4-29 9zM342 363l9-5 6-9 3-12-1-14-4-10-8-8-10-3-12 1-6 2-6 4-8 10-3 12 2 12 5 10 10 8 12 3zM195 350l-6 0-10-1-4-1-4-3-2-6 0-8 1-8 3-4 6-2 10-1 6 1 4 3 3 7 0 10-2 8zM489 349l-8 1-8 0-4-2-2-3-2-6 0-10 2-8 4-4 6-1 8 0 6 2 5 3 2 10-1 10-2 5zM267 477l-6 1-8-1-6-2-2-2-2-8 0-8 2-8 4-4 6-1 10 1 6 2 4 4 3 8-1 6-4 9zM415 477l-6 1-8-1-4-1-4-3-3-8-1-6 3-8 3-4 8-3 8 0 6 1 4 3 3 9 0 10-3 7z"/>
<path fill="#ecf8a2" d="M265 221l-8 1-6-1-4-2-2-3-2-7 0-8 2-7 4-4 8-2 8 1 6 2 3 4 4 10-2 6-3 6zM415 222l-8 0-8-2-4-2-3-3-2-6-1-6 3-8 4-4 5-2 8-1 8 2 4 3 3 8-1 10-2 6zM335 406l-5-1-25-22-32-11-2-1-2-4 7-34-6-32 0-4 1-2 5-2 27-9 6-4 20-18 4-2 4 1 22 19 6 3 16 4 11 4 6 4 1 4-5 34 5 32-1 6-8 4-29 9zM342 365l9-5 4-4 3-7 3-12-1-14-5-12-8-8-10-3-12 1-12 6-9 10-4 12 0 8 2 6 2 6 4 6 9 7 12 4 8 0zM193 350l-14-1-4-1-3-3-3-6 0-8 2-8 3-4 7-2 10-1 6 2 2 3 3 8 0 10-3 7zM487 349l-14 0-4-2-2-2-2-8 0-8 2-7 4-5 6-1 10 1 6 2 3 4 2 8-1 10-4 6zM265 477l-13 0-4-2-3-3-2-7 0-8 2-7 4-4 6-2 8 0 8 3 4 4 2 8-1 8-5 8zM413 477l-8 1-6-1-4-2-3-4-2-6-1-6 3-8 5-4 8-3 8 0 4 1 4 4 3 10-1 10-4 6z"/>
<path fill="#eff9a7" d="M263 221l-6 1-6-1-4-3-2-3-2-6 0-8 2-6 4-4 8-2 8 0 6 2 3 4 3 10-2 8-4 5zM415 221l-6 1-8-1-4-2-4-4-3-6 0-6 3-8 3-4 7-2 8 0 6 1 4 3 3 8-1 10-2 6zM335 404l-5-1-25-22-30-10-3-2-1-2 6-34-6-32 1-4 3-2 30-10 24-21 4-2 4 2 22 17 31 10 7 4 1 4-4 34 4 32-1 5-4 3-5 2-23 6-6 3zM334 369l7-1 6-2 8-8 6-13 1-14-4-16-7-11-4-3-6-3-10-1-12 3-6 3-6 6-8 12-1 6-1 8 3 12 3 6 6 7 6 4 6 3zM193 349l-14 0-5-2-3-4-2-6 0-8 2-6 4-4 6-2 10 0 4 1 4 3 3 8-1 10-2 6-2 2zM485 349l-12 0-4-2-2-4-2-8 1-8 2-6 3-3 6-2 10 1 6 3 3 3 2 10-2 10-4 4zM265 477l-8 0-6-1-4-2-2-3-2-6 0-8 2-6 4-5 6-2 8 1 7 2 4 4 3 8-1 8-5 8zM413 477l-8 0-6-1-4-2-2-3-3-6 0-6 3-8 4-4 8-2 8-1 4 2 4 3 3 10-1 10-4 6z"/>
<path fill="#f2faac" d="M261 221l-6 0-6-2-3-2-2-6-1-8 2-7 2-4 6-2 8-1 8 2 4 3 3 7 0 8-3 7-4 3zM413 221l-12-1-4-1-4-4-2-6-1-6 3-8 4-4 6-2 8 0 7 2 4 4 1 8-1 10-3 6zM335 399l-4 0-20-17-6-4-25-9-4-2-1-2 5-32-5-30 1-4 29-11 6-4 18-15 4-3 2 1 12 9 10 6 31 9 7 4 2 4-4 34 3 30 0 6-2 2-9 4-26 7-10 6zM341 373l6-2 4-4 7-10 4-16 0-16-5-16-8-11-6-4-4-1-12 0-14 4-6 5-7 7-6 14-2 8 1 8 5 14 5 8 6 5 8 5 8 2 8 1zM191 349l-8 0-6-1-4-3-2-2-1-6 0-8 1-6 4-4 8-2 8 0 4 1 4 4 3 9-2 10-3 6zM483 349l-6 0-6-1-3-3-2-4-1-8 1-8 3-5 4-2 8-1 8 1 5 3 2 4 1 10-1 8-5 4zM263 477l-12-1-4-2-2-3-2-8 1-8 3-6 4-3 8-1 8 1 5 3 4 6 0 8-2 8-4 4zM411 477l-12-1-4-2-3-5-2-6 1-6 4-8 4-3 8-1 8 0 4 3 3 5 1 10-1 8-4 4z"/>
<path fill="#f6fbb0" d="M259 221l-8-1-4-3-3-6 0-8 1-6 2-4 6-3 8-1 6 1 5 3 4 8 0 6-2 6-3 5-4 2zM411 221l-8 0-6-3-3-3-2-4-1-6 1-6 3-6 4-3 8-1 8 1 5 3 2 4 1 10-2 8-4 4zM373 377l-12 1-2-1-3-4 1-6 5-20 2-12-2-16-8-24 0-6 3-3 14 1 10 2 12 6 3 4-3 34 2 34-2 3-6 3zM187 349l-6 0-6-2-3-4-2-4 0-8 1-6 2-4 6-3 10-1 6 2 4 3 2 5 0 8-2 9-4 4zM481 349l-6 0-4-2-4-4-1-4 0-8 1-7 4-5 4-2 8 0 8 2 4 4 2 6 0 10-3 6-5 3zM259 477l-10-2-3-4-2-6 0-8 2-6 3-4 6-2 10 1 6 3 3 4 2 6 0 6-4 8-5 3zM407 477l-8-1-4-3-3-6-1-8 2-7 4-4 8-3 8 0 5 2 3 4 2 8 0 8-2 4-4 4z"/>
<path fill="#f9fcb5" d="M267 219l-12 2-4-1-4-4-2-5-1-8 2-8 3-3 6-2 8 0 6 1 4 4 3 8-1 6-2 6zM415 220l-6 1-6-1-6-2-3-3-3-6 0-6 3-8 3-3 6-2 8 0 6 1 4 4 2 8-1 8-3 6zM375 375l-6 0-4-2-3-4 0-4 2-32-5-36 2-6 2-2 4-1 10 1 11 4 6 4 1 4-3 32 2 20-1 12-2 4-3 2zM195 347l-4 1-8 1-6-2-4-3-2-5-1-6 1-8 3-4 5-3 8-1 6 1 4 3 3 6 1 8-2 8zM489 347l-12 2-4-1-4-3-3-6 0-8 2-8 3-4 6-2 8 1 6 1 4 4 2 8-1 8-3 6zM267 476l-6 1-8-1-4-2-3-3-2-6 0-8 2-6 3-3 4-2 8-1 8 3 4 3 3 8-1 6-4 8zM415 476l-6 1-8-1-4-2-3-3-3-6 0-6 2-6 4-5 6-2 8-1 6 2 4 4 2 8-1 8-3 6z"/>
<path fill="#fcfeba" d="M267 219l-6 1-6 0-4-1-4-3-2-5-1-8 1-6 4-5 6-2 8 0 6 2 4 3 2 8 0 6-3 6zM415 220l-6 1-6-1-6-2-3-3-2-6-1-6 2-6 4-5 6-2 8 0 6 2 3 3 3 8-1 8-3 6zM381 372l-6 1-5-2-3-4-2-6 0-28-3-32 2-8 3-2 4-1 10 1 8 4 4 4 1 4-2 30 0 18 0 10-3 6zM193 348l-12 0-6-2-3-3-2-6 0-6 1-6 4-5 6-2 8 0 6 1 3 4 3 8-1 8-3 6zM489 347l-12 1-5-1-3-3-2-5-1-8 1-6 4-5 6-2 8 0 6 2 3 3 3 8-1 8-3 6zM267 475l-6 1-6 0-6-2-3-3-2-6 0-6 2-6 3-5 6-2 6 0 8 2 3 3 3 8 0 6-2 6zM415 475l-6 1-6 0-6-2-3-3-2-6-1-6 2-6 4-5 6-2 8 0 6 2 3 3 3 8-1 8-3 6z"/>
<path fill="#ffffbf" d="M265 219l-6 1-6 0-4-2-2-3-2-6 0-8 2-6 4-4 6-1 8 1 5 2 3 4 2 8-1 6-3 5zM415 219l-6 1-6 0-4-2-4-3-3-6 0-6 2-6 3-4 6-3 6 0 6 1 5 4 2 6 0 8-2 6zM383 367l-6 2-4-1-4-4-2-7-1-26-2-26 3-9 2-3 4-1 6 0 7 3 4 4 2 6-1 48-2 8zM193 347l-6 1-6 0-6-3-2-2-2-6-1-6 2-6 3-4 6-3 8 0 6 2 3 3 2 8 0 8-3 6zM487 347l-12 1-4-2-2-3-2-6 0-8 2-6 4-4 6-1 8 1 5 2 3 4 1 8-1 8-3 4zM265 476l-6 0-6-1-4-1-2-3-2-6 0-8 2-6 4-4 6-1 8 1 5 2 3 4 2 8-1 6-4 6zM413 476l-6 0-6-1-5-2-2-4-2-6 0-6 3-6 4-3 6-2 8 0 5 3 3 4 1 8-1 8-3 4z"/>
<path fill="#fffbb8" d="M265 219l-6 1-6-1-4-2-2-2-2-6 0-8 2-6 4-3 6-2 8 1 5 2 3 4 2 8-1 6-3 5zM413 219l-6 1-6-1-4-2-3-4-2-6 1-6 2-6 4-3 6-2 8 1 5 2 3 4 1 8-1 7-3 5zM381 364l-6 0-3-3-3-5-1-7-2-42 3-9 3-3 3-1 7 1 5 4 3 4 1 8-1 40-3 8zM191 347l-6 1-6-1-4-2-3-4-1-6 0-8 2-4 4-3 6-2 8 1 5 2 3 4 1 8-1 7-3 5zM487 347l-6 1-6-1-4-2-3-4-1-6 0-8 2-4 4-3 6-2 8 1 5 2 3 4 1 8-1 7-3 5zM265 475l-10 1-4-2-4-3-2-6 0-8 2-6 4-3 6-2 8 1 4 2 4 4 2 6-1 8-3 5zM413 475l-6 1-6-1-4-2-3-4-2-6 1-6 2-6 4-3 6-2 8 1 5 2 3 4 1 8-1 7-3 5z"/>
<path fill="#fff7b2" d="M263 219l-6 1-6-2-3-3-2-4-1-8 1-6 3-4 4-2 8-1 6 2 4 3 2 4 1 8-2 6-3 4zM413 219l-6 1-6-2-4-2-3-3-2-6 1-6 3-6 3-3 6-1 8 0 4 2 3 4 2 6-1 8-4 6zM381 359l-4 1-4-3-3-6-1-8-1-34 3-8 2-2 4-2 4 1 4 3 4 6 1 8-1 32-3 8zM191 347l-6 1-6-1-3-2-3-3-2-7 0-6 2-5 4-4 6-1 8 0 4 2 3 4 2 8-1 6-4 6zM485 347l-6 1-6-2-4-3-1-4-1-8 1-6 3-4 4-2 8 0 6 1 4 3 2 4 1 8-2 6-3 4zM265 475l-6 1-5-1-5-2-2-3-2-5 0-8 2-5 4-4 6-1 6 0 6 2 3 4 2 6-1 8-2 4zM413 475l-6 1-6-1-4-2-3-4-2-6 1-6 2-5 4-4 6-1 8 0 4 2 3 4 2 8-1 6-4 6z"/>
<path fill="#fff3ac" d="M261 219l-6 0-4-1-4-5-1-4-1-6 2-6 3-4 5-2 6 0 6 1 4 3 3 6 0 6-3 8-4 3zM411 219l-6 0-6-2-3-2-2-4-1-6 1-6 3-5 4-2 8-1 6 1 4 3 2 4 1 8-2 6-3 4zM379 355l-4-1-4-7-2-28 2-12 4-5 4-1 4 2 3 4 2 6 1 8-2 25-4 7zM189 347l-6 0-6-2-3-2-2-4-1-6 1-6 3-5 4-2 8-1 6 1 4 3 2 4 1 8-2 6-3 4zM485 347l-6 0-6-1-3-3-2-4-1-6 1-6 3-5 4-2 8-1 6 1 4 3 2 4 1 8-2 6-3 4zM263 475l-6 0-6-1-3-3-2-4-1-6 1-6 3-5 4-2 6-1 6 1 6 3 2 4 1 6-2 8-3 4zM411 475l-6 0-6-1-3-3-2-4-1-6 1-6 3-5 4-2 6-1 6 0 4 2 4 6 1 8-2 6-3 4z"/>
<path fill="#fef0a5" d="M259 219l-6-1-5-3-2-6 0-6 1-6 2-3 6-3 6 0 6 1 3 3 3 6 1 6-2 6-3 3-4 2zM409 219l-10-2-4-4-2-4 0-6 2-6 4-4 4-2 6 0 6 1 4 4 2 5 0 8-2 5-4 4zM381 350l-4 0-4-5-2-18 0-10 1-6 3-5 4-1 4 3 2 3 2 12-1 18-2 6zM187 347l-6 0-4-2-4-4-1-4 0-6 1-6 4-4 4-1 6-1 6 1 4 4 2 5 0 8-2 5-4 4zM483 347l-6 0-4-2-4-4-1-4-1-6 2-6 4-4 4-2 6 0 7 2 3 3 2 5 0 8-2 5-4 3zM261 475l-6 0-4-2-4-4-1-4 0-6 1-6 4-4 4-2 6 0 6 2 4 3 2 5 1 6-3 7-4 4zM409 475l-6 0-4-2-4-4-2-6 1-6 3-6 2-2 6-2 6 0 6 3 3 3 1 6 0 6-2 6-4 3z"/>
<path fill="#feec9e" d="M267 217l-6 2-6-1-4-1-3-4-2-6 0-6 1-4 4-4 6-2 6 0 4 2 4 3 2 5 0 6-2 6zM415 217l-6 2-6-1-4-1-4-4-1-4-1-6 2-6 4-4 6-2 6 0 4 2 4 3 2 7 0 6-2 4zM379 346l-2-1-3-4-2-16 1-8 1-4 3-3 2 0 2 1 3 4 2 12-2 14-3 4zM193 345l-6 2-6-1-4-1-4-4-1-6 0-6 2-4 3-4 6-2 6 1 4 1 4 3 2 7 0 6-2 5zM489 345l-6 2-6-1-4-1-4-4-1-6 0-6 1-4 4-4 6-2 6 1 4 1 4 4 2 6 0 6-2 5zM267 473l-10 2-4-1-4-3-3-6 0-6 2-6 3-4 6-2 6 1 4 1 4 4 2 6 0 6-2 5zM415 473l-6 2-6-1-4-1-4-4-1-4-1-6 3-6 3-3 6-2 6 0 4 1 4 4 2 6 0 6-2 5z"/>
<path fill="#fee898" d="M265 218l-10 0-4-2-3-3-2-6 0-6 2-4 3-3 6-2 6 0 4 1 4 4 2 6 0 6-4 6zM413 218l-10 0-4-2-3-3-2-4 0-6 2-6 3-3 6-2 6 0 4 1 4 4 2 6-1 6-3 6zM379 339l-2-1-1-3-1-8 1-8 1-2 2-1 3 3 1 8-1 8-1 3zM191 346l-10 0-4-2-3-3-2-6 0-6 2-4 3-3 6-2 6 0 4 1 4 4 2 6-1 8-3 5zM487 346l-10 0-4-1-3-4-2-6 0-6 2-4 3-3 6-2 6 0 4 1 4 4 2 6-1 8-3 4zM267 473l-4 1-6 1-4-1-4-3-3-6 0-6 2-6 3-3 6-2 6 0 4 1 4 4 2 6 0 6-2 4zM415 473l-6 2-6-1-4-1-3-4-2-4 0-6 2-6 3-3 6-2 6 0 4 1 4 4 2 6-1 6-1 4z"/>
<path fill="#fee492" d="M265 217l-10 1-4-2-3-3-1-4-1-6 2-6 3-3 6-2 6 0 4 1 4 4 2 6-1 6-3 6zM413 217l-4 1-6 0-4-2-3-3-2-4 0-6 2-6 3-3 6-2 6 0 4 1 4 4 1 6 0 6-3 6zM191 345l-10 1-4-2-3-3-1-4-1-6 2-6 3-3 6-2 6 0 4 1 4 4 1 6 0 6-3 6zM487 345l-10 1-4-2-3-3-1-4-1-6 2-6 3-3 6-2 6 0 4 2 4 3 1 6 0 6-3 6zM265 474l-10 0-4-2-3-3-2-6 1-6 2-5 4-3 6-1 6 1 4 2 3 4 1 6-1 6-3 4zM413 474l-10 0-4-2-3-3-2-4 0-6 2-6 3-3 6-2 6 0 4 2 3 3 2 6 0 6-3 6z"/>
<path fill="#fee08b" d="M263 217l-6 1-4-1-3-2-2-4-2-6 1-4 2-5 4-3 6-1 6 1 4 2 2 4 2 6-2 6-3 4zM413 217l-6 1-5-1-4-2-3-4-1-4 1-6 2-5 4-3 6-1 6 1 4 2 2 3 1 7-1 6-2 3zM191 345l-10 0-4-1-2-3-2-4 0-6 2-6 2-3 4-1 6-1 6 2 3 3 2 6 0 6-3 6zM487 345l-10 1-4-2-3-3-1-6 0-6 2-5 4-3 6-1 6 1 3 2 3 3 1 7-1 6-2 4zM265 473l-4 1-6 0-4-2-3-3-1-6 0-6 2-4 4-4 6-1 5 1 4 2 3 4 2 6-2 6-2 4zM413 473l-4 1-6 0-4-2-3-3-1-4-1-6 2-4 3-4 4-2 6-1 6 2 3 3 2 6 0 6-3 6z"/>
<path fill="#feda86" d="M263 217l-6 1-4-2-5-5-1-4 0-6 2-4 4-3 6-2 5 1 4 2 3 4 1 6-1 6-3 4zM411 217l-6 0-4-1-5-5-1-4 0-6 2-4 4-3 6-2 5 1 4 2 3 4 1 6-1 6-3 4zM189 345l-6 1-4-2-5-5-1-4 0-6 2-4 4-3 6-2 5 1 4 2 3 4 1 6-1 6-3 4zM485 345l-6 1-4-1-2-2-3-4-1-4 0-6 2-4 4-3 6-2 5 1 4 2 3 4 1 6-1 6-3 4zM263 474l-6 0-4-1-2-2-3-4-1-4 0-6 2-4 4-3 4-1 6 0 5 2 3 4 1 6-1 6-3 4zM411 474l-6 0-4-1-3-2-2-4-2-6 1-4 2-4 4-3 6-2 5 1 4 2 3 4 1 6-1 6-3 4z"/>
<path fill="#fed480" d="M261 217l-6 0-4-2-3-4-1-4 0-6 2-4 4-3 4-1 6 0 4 2 3 2 2 6-1 6-2 4-4 3zM409 217l-6 0-4-2-3-4-1-4 0-6 2-4 4-3 4-1 6 0 4 2 3 2 2 6-1 6-2 4-4 3zM189 345l-6 0-4-1-5-5-1-4 1-6 1-4 4-3 4-1 6 0 5 2 3 4 1 6-1 6-3 4zM485 345l-6 0-4-1-5-5-1-4 1-6 1-4 4-3 4-1 6 0 4 2 4 4 1 6-1 6-3 4zM263 473l-6 0-4-1-5-5-1-4 1-6 1-4 4-3 4-1 6 0 4 2 4 4 1 6-1 6-3 4zM411 473l-6 0-4-1-4-3-2-4 0-6 1-4 3-4 4-2 6 0 4 1 4 3 2 3 1 5-1 6-3 4z"/>
<path fill="#fecd7b" d="M259 217l-6-1-3-3-2-4-1-6 2-5 3-3 3-2 6 0 4 1 4 3 2 4 1 6-2 4-3 4zM409 217l-4 0-5-2-3-3-2-5 1-6 2-4 3-3 4-1 6 0 4 2 3 4 1 4 0 6-2 4-4 3zM187 345l-6 0-3-2-3-3-2-5 1-6 2-4 3-3 4-1 6 0 4 2 3 4 1 4 0 6-2 4-4 3zM483 345l-6 0-3-2-3-3-2-5 1-6 2-4 3-3 4-1 6 0 4 2 3 4 1 4 0 6-2 4-4 3zM261 473l-6 0-4-2-2-3-2-5 1-6 2-4 3-3 4-1 6 0 4 2 3 4 2 4-1 6-2 4-4 3zM409 473l-6 0-4-2-3-4-1-4 1-6 2-4 3-3 4-1 6 0 4 2 3 4 1 4 0 6-2 4-4 3z"/>
<path fill="#fec776" d="M265 216l-4 1-6-1-4-2-2-3-1-4 0-6 2-4 3-3 4-1 6 0 4 2 3 4 1 4 0 6-2 4zM413 216l-4 1-6-1-4-2-2-3-1-4 0-6 2-4 3-3 4-1 6 0 4 2 3 4 1 4 0 6-2 4zM191 344l-4 1-6-1-4-2-2-3-1-4 0-6 2-4 3-2 4-2 6 1 4 1 3 4 1 4 0 6-2 4zM487 344l-4 1-6-1-4-2-2-3-1-4 0-6 2-4 3-2 4-2 6 1 4 1 3 4 1 4 0 6-2 4zM261 473l-4 0-5-2-3-3-1-5 0-6 2-4 3-2 4-2 6 1 4 2 3 3 1 4 0 6-2 4-4 3zM409 473l-4 0-5-2-3-3-2-5 2-8 4-4 4-1 6 0 4 2 3 3 1 4 0 6-2 4-4 3z"/>
<path fill="#fdc171" d="M265 215l-4 1-6 0-4-3-2-2-1-4 0-6 2-4 3-2 4-2 6 1 4 2 3 3 1 4-1 6-2 4zM413 215l-4 1-6 0-4-3-2-2-1-4 0-6 2-4 3-2 4-2 6 1 6 4 2 5-1 6-2 4zM191 344l-4 1-6-1-4-2-2-3-1-4 0-6 3-4 2-2 4-1 6 0 4 2 3 3 1 4-1 6-2 4zM487 343l-4 2-6-1-4-2-2-3-1-4 0-6 2-4 3-2 4-1 6 0 4 2 3 3 1 4-1 6-2 4zM265 472l-4 1-6-1-4-2-2-3-1-4 0-6 3-4 2-2 4-1 6 0 4 2 3 3 1 4 0 6-2 4zM413 472l-4 1-6-1-4-2-2-3-1-4 0-6 5-6 4-1 6 0 4 2 3 3 1 4-1 6-1 4z"/>
<path fill="#fdba6c" d="M265 215l-4 1-6 0-5-5-2-4 1-6 4-6 4-1 6 0 6 4 2 5 0 4-2 4zM413 215l-4 1-6 0-6-5-1-8 1-4 4-4 4-1 6 0 4 2 2 2 2 5-1 6-2 4zM191 343l-4 1-6 0-6-5-1-4 1-6 4-6 4-1 6 0 4 2 2 2 2 5-1 6-2 4zM487 343l-4 1-6 0-6-5-1-4 1-6 4-6 4-1 6 0 4 2 2 2 2 5-1 6-2 4zM265 471l-4 1-6 0-4-3-2-2-1-8 2-4 3-4 4-1 6 0 4 2 2 3 2 4-1 6-2 4zM413 471l-4 1-6 0-4-3-2-2-1-8 2-4 3-3 4-2 6 0 4 2 2 3 2 4-1 6-2 4z"/>
<path fill="#fdb466" d="M263 215l-4 1-5-1-3-2-2-4 0-8 2-4 4-2 6-1 4 1 3 2 2 4 0 6-1 4-2 2zM411 216l-8-1-4-2-2-4-1-4 1-4 2-4 4-2 6-1 4 1 3 2 2 4 0 6-1 4-2 2zM189 344l-4 0-5-1-3-2-2-4 0-8 2-4 4-2 4-1 6 1 2 2 3 4 0 6-1 4-2 3zM485 344l-4 0-5-1-3-2-2-4 0-8 2-4 4-2 4-1 5 1 3 2 3 4 0 6-1 4-2 3zM265 471l-4 1-6 0-5-5-1-8 1-4 3-3 8-2 4 1 4 4 1 4 0 6-2 4zM413 471l-8 1-4-1-3-4-2-8 2-4 3-3 4-2 6 1 4 2 2 2 1 4 0 6-2 4z"/>
<path fill="#fdae61" d="M263 215l-8 0-3-2-3-4 0-8 3-4 3-2 4-1 5 1 3 2 3 4 0 4-1 5-2 3zM411 215l-8 0-3-2-3-4 0-8 3-4 3-2 4-1 5 1 3 2 3 4 0 4-1 5-2 3zM189 343l-8 0-3-2-3-4 0-8 3-4 3-2 4-1 5 1 3 2 3 4 0 4-1 5-2 3zM485 343l-8 0-3-2-3-4 0-8 3-4 3-2 4-1 5 1 3 2 3 4 0 4-1 5-2 3zM263 471l-4 1-5-1-3-3-2-3 0-8 3-4 3-2 8 0 4 2 3 4 0 4-1 6-2 2zM411 471l-4 1-5-1-3-3-2-3 0-8 3-4 3-2 8 0 4 2 2 4 1 4-1 6-2 2z"/>
<path fill="#fca65d" d="M261 215l-4 0-4-1-2-3-2-4 0-4 1-4 3-3 4-1 8 1 3 3 2 4 0 4-2 4-3 3zM409 215l-4 0-4-1-2-3-2-4 0-4 1-4 3-3 4-1 8 1 3 3 2 4 0 4-2 4-3 3zM189 343l-8 0-3-2-2-4 0-8 2-4 3-2 8 0 4 2 2 4 1 4-1 5-2 3zM485 343l-8 0-3-2-2-4 0-8 2-4 3-2 8 0 4 2 2 4 1 4-1 5-2 3zM263 471l-8 0-3-2-3-4 1-8 2-4 3-2 8 0 4 3 2 3 1 4-1 5-2 3zM411 471l-8 0-3-2-3-4 0-4 1-4 2-4 3-1 8-1 4 3 2 3 1 4-1 5-2 3z"/>
<path fill="#fb9e5a" d="M261 215l-4 0-4-2-4-6 0-4 2-4 2-2 4-2 4 0 4 1 3 3 2 4 0 4-2 4-3 3zM409 215l-4 0-4-2-4-6 0-4 2-4 2-2 4-2 4 0 4 1 3 3 1 4 0 4-1 4-3 3zM187 343l-4 0-4-2-2-2-2-4 0-4 2-4 2-2 4-2 4 0 4 1 3 3 1 4 0 4-1 4-3 3zM483 343l-4 0-4-2-2-2-2-4 0-4 2-4 2-2 4-2 4 0 4 1 3 3 1 4 0 4-1 4-3 3zM261 471l-4 0-4-2-2-2-2-4 0-4 2-4 6-4 4 0 4 1 3 3 1 4 1 4-2 4-3 3zM409 471l-4 0-4-2-2-2-2-4 0-4 2-4 6-4 4 0 4 1 3 3 1 4 1 4-2 4-3 3z"/>
<path fill="#fa9656" d="M265 213l-4 2-4 0-6-4-1-4 0-4 3-6 4-2 4 0 4 1 3 3 1 4 0 4-1 4zM413 213l-4 2-4 0-6-4-1-4 0-4 3-6 4-2 4 0 4 1 3 3 1 4 0 4-2 4zM185 343l-6-2-3-4-1-4 1-4 3-4 6-2 4 1 4 2 2 7-2 7-4 2zM481 343l-6-2-3-4-1-4 1-4 3-4 6-2 4 1 4 2 2 7-2 7-4 2zM261 471l-4 0-4-2-3-6 1-7 2-3 4-2 4 0 4 2 2 2 2 4 0 4-1 4-3 3zM409 471l-4 0-4-2-3-6 1-7 2-3 4-1 4-1 4 2 2 2 2 4 0 4-1 4-3 3z"/>
<path fill="#f88e52" d="M263 214l-4 1-4-1-4-5-1-4 0-4 5-5 4-1 4 1 4 3 1 2 1 4-1 4-1 2zM413 213l-4 1-4 0-5-3-2-4 0-4 4-6 3-2 4 0 4 2 2 2 2 4 0 4-2 4zM191 341l-4 2-4-1-5-3-2-4 0-4 3-5 4-2 4-1 4 2 2 2 2 4 0 4-2 4zM487 341l-4 2-4-1-5-3-2-4 0-4 3-5 4-2 4-1 4 2 2 2 2 4 0 4-2 4zM265 469l-4 2-4 0-6-4-1-4 0-4 3-5 4-2 4 0 6 3 2 4 0 4-2 4zM413 469l-4 2-4 0-6-4-1-4 0-4 3-5 4-2 4 0 6 3 2 4 0 4-2 4z"/>
<path fill="#f7854e" d="M263 214l-4 0-4-1-4-4-1-4 1-4 4-5 4 0 4 0 5 5 1 4-1 4zM411 214l-4 0-4-1-4-4-1-4 1-4 4-5 4 0 4 0 5 5 1 4-1 4zM189 342l-4 0-4-1-4-4-1-4 1-4 4-4 4-1 4 0 5 5 1 4-1 4zM485 342l-4 0-4-1-4-4-1-4 1-4 4-4 4-1 4 0 5 5 1 4-1 4zM263 470l-4 1-4-1-4-5-1-4 1-4 4-4 4-1 4 0 5 5 1 4-1 4zM411 470l-4 1-4-1-4-5-1-4 1-4 4-4 4-1 4 0 5 5 1 4-1 4z"/>
<path fill="#f67d4a" d="M263 213l-4 1-4-1-4-4-1-4 1-4 4-4 4-1 4 0 5 5 1 4-1 4zM411 213l-4 1-4-1-4-4-1-4 1-4 4-4 4-1 4 0 5 5 0 4 0 4zM189 341l-4 1-4-1-4-4-1-4 1-4 4-4 4-1 4 1 5 4 0 4 0 4zM485 341l-4 1-4-1-4-4-1-4 1-4 4-4 4-1 4 1 5 4 0 4 0 4zM263 470l-4 0-4-1-4-4 0-7 4-5 4-1 4 1 5 4 1 4-1 4zM411 470l-4 0-4-1-4-4-1-4 1-3 4-5 4-1 4 1 5 4 0 4 0 4z"/>
<path fill="#f57547" d="M263 213l-6 0-4-2-1-2-1-7 4-5 4-1 4 1 4 4 1 4-1 4zM411 213l-6 0-4-2-1-2-1-6 2-4 2-2 4-1 4 1 4 4 1 4-1 4zM189 341l-4 1-4-1-4-4 0-7 4-5 4-1 4 1 4 4 1 4-1 4zM485 341l-4 1-4-1-4-4 0-7 4-5 4-1 4 1 4 4 1 4-1 4zM263 469l-4 1-4-1-4-4 0-6 2-4 2-2 4-1 4 1 4 4 1 4-1 4zM411 469l-4 1-4-1-4-4 0-6 2-4 2-2 4-1 4 1 4 4 1 4-1 4z"/>
<path fill="#f46d43" d="M261 213l-6-1-4-5 1-6 1-2 4-2 6 0 3 2 2 4-1 6-2 2zM409 213l-6-1-4-5 1-6 1-2 4-2 6 0 3 2 2 4-1 6-2 2zM187 341l-6-1-4-5 1-6 5-4 6 0 3 2 2 4-1 6-2 3zM483 341l-6-1-4-5 1-6 5-4 6 0 3 2 2 4-1 6-2 3zM263 469l-6 0-4-2-1-2-1-6 4-5 6-1 4 2 2 2 1 4-1 4zM411 469l-6 0-4-2-1-2-1-6 4-5 6-1 4 2 2 2 1 4-1 4z"/>
<path fill="#f06744" d="M259 213l-5-2-3-6 3-6 5-2 6 2 3 6-3 6zM407 213l-5-2-3-6 3-6 5-2 6 2 3 6-3 6zM187 341l-6-1-4-5 1-6 5-4 6 1 2 1 2 4 0 6-2 2zM483 341l-6-1-4-5 1-6 5-4 6 1 2 1 2 4 0 6-2 2zM261 469l-6-1-4-5 1-6 5-4 6 1 2 1 2 4 0 6-2 2zM409 469l-6-1-4-5 1-6 5-4 6 1 2 1 2 4 0 6-2 2z"/>
<path fill="#ec6146" d="M263 212l-6 0-4-3-1-6 3-5 6-1 4 2 1 2 1 6zM411 212l-6 0-4-3-1-6 3-5 6-1 4 2 1 2 1 6zM189 340l-6 1-4-4-1-6 3-5 6-1 5 4 1 6-2 4zM485 340l-6 1-4-4-1-6 3-5 6-1 5 4 1 6-2 4zM259 469l-5-2-2-6 1-4 1-2 5-2 6 3 2 5-2 6zM407 469l-5-2-2-6 1-4 1-2 5-2 6 3 2 5-2 6z"/>
<path fill="#e85b48" d="M263 212l-6 0-4-3-1-6 3-4 6-2 5 4 1 6zM411 212l-6 0-4-3-1-6 3-4 6-2 5 4 1 6zM189 340l-6 0-4-3-1-6 3-4 6-1 5 3 1 6zM485 340l-6 0-4-3-1-6 3-4 6-1 5 3 1 6zM263 468l-6 0-4-3-1-6 3-4 6-1 5 3 1 6zM411 468l-6 0-4-3-1-6 3-4 6-1 5 3 1 6z"/>
<path fill="#e45649" d="M263 211l-6 1-4-3-1-6 3-4 6-1 5 3 0 6zM411 211l-6 1-4-3-1-6 3-4 6-1 5 3 0 6zM189 339l-6 1-4-3-1-6 3-4 6-1 4 3 1 6zM485 339l-6 1-4-3-1-6 3-4 6-1 4 3 1 6zM263 468l-6 0-4-3-1-6 4-4 5-1 4 3 1 6zM411 468l-6 0-4-3-1-6 4-4 5-1 4 3 1 6z"/>
<path fill="#e1504a" d="M261 212l-5-1-3-4 0-5 4-4 6 1 3 4-1 6zM409 212l-5-1-3-4 0-5 4-4 6 1 3 4-1 6zM189 339l-6 1-3-3-1-6 3-4 5-1 4 3 1 6zM485 339l-6 1-3-3-1-6 3-4 5-1 4 3 1 6zM263 467l-6 1-3-3-1-6 3-4 5 0 4 2 1 6zM411 467l-6 1-3-3-1-6 3-4 5 0 4 2 1 6z"/>
<path fill="#dd4a4c" d="M261 211l-4 0-4-4 0-4 4-4 5 0 4 4-1 5zM409 211l-4 0-4-4 0-4 4-4 5 0 4 4-1 5zM187 339l-4 0-4-4 0-4 4-4 5 0 4 4-1 5zM483 339l-4 0-4-4 0-4 4-4 5 0 4 4-1 5zM261 468l-5-1-3-4 0-4 4-4 4 0 5 4-1 6zM409 468l-5-1-3-4 0-4 4-4 4 0 5 4-1 6z"/>
<path fill="#d9444e" d="M259 211l-4-2-2-4 2-5 4-1 5 2 2 4-2 4zM407 211l-4-2-2-4 2-5 4-1 5 2 2 4-2 4zM187 339l-4 0-3-4 0-4 3-4 4 0 4 4 0 5zM483 339l-4 0-3-4 0-4 3-4 4 0 4 4 0 5zM261 467l-4 0-4-4 1-4 3-3 4-1 4 4 0 5zM409 467l-4 0-4-4 1-4 3-3 4-1 4 4 0 5z"/>
<path fill="#d53e4f" d="M263 209l-4 2-4-2-1-4 1-4 4-2 5 2 1 4zM411 209l-4 2-4-2-1-4 1-4 4-2 5 2 1 4zM189 338l-4 1-4-2-1-4 1-4 4-2 5 2 1 4zM485 338l-4 1-4-2-1-4 1-4 4-2 5 2 1 4zM259 467l-4-2-1-4 1-4 4-2 4 2 2 4-1 4zM407 467l-4-2-1-4 1-4 4-2 4 2 2 4-1 4z"/>
<path fill="#ce364d" d="M263 209l-4 1-3-1-2-4 2-4 3-2 4 2 2 4zM411 209l-4 1-3-1-2-4 2-4 3-2 4 2 2 4zM189 337l-4 1-3-1-2-4 2-4 3-1 4 1 2 4zM485 337l-4 1-3-1-2-4 2-4 3-1 4 1 2 4zM263 465l-4 2-3-2-2-4 2-4 3-1 4 1 2 4zM411 465l-4 2-3-2-2-4 2-4 3-1 4 1 2 4z"/>
<path fill="#c72f4c" d="M261 210l-4-1-2-2 0-4 2-3 4 0 3 3 0 4zM409 210l-4-1-2-2 0-4 2-3 4 0 3 3 0 4zM187 338l-4-1-2-2 0-4 2-2 4-1 3 3 0 4zM483 338l-4-1-2-2 0-4 2-2 4-1 3 3 0 4zM261 466l-4 0-2-3 0-4 2-2 4-1 3 3 0 4zM409 466l-4 0-2-3 0-4 2-2 4-1 3 3 0 4z"/>
<path fill="#c0274a" d="M261 209l-3 0-3-2 0-4 2-2 4 0 3 2-1 4zM409 209l-3 0-3-2 0-4 2-2 4 0 3 2-1 4zM187 337l-4 0-2-2 0-3 2-3 4 0 2 2 1 4zM483 337l-4 0-2-2 0-3 2-3 4 0 2 2 1 4zM261 465l-4 0-2-2 0-3 2-3 4 0 2 2 1 4zM409 465l-4 0-2-2 0-3 2-3 4 0 2 2 1 4z"/>
<path fill="#ba2048" d="M261 209l-2 0-3-2 0-4 2-2 3 0 2 2 0 4zM409 209l-2 0-3-2 0-4 2-2 3 0 2 2 0 4zM185 337l-2-1-2-3 2-3 2-1 4 2 0 2 0 2zM481 337l-2-1-2-3 2-3 2-1 4 2 0 2 0 2zM261 465l-3 0-2-2 0-4 3-2 4 2 0 2 0 2zM409 465l-3 0-2-2 0-4 3-2 4 2 0 2 0 2z"/>
<path fill="#b31847" d="M261 208l-2 0-2-1-1-2 1-3 2-1 3 2 1 2zM409 208l-2 0-2-1-1-2 1-3 2-1 3 2 1 2zM187 336l-2 1-3-2 0-2 1-2 2-1 3 1 1 2zM483 336l-2 1-3-2 0-2 1-2 2-1 3 1 1 2zM261 464l-2 1-3-2 0-2 1-2 2-1 3 1 1 2zM409 464l-2 1-3-2 0-2 1-2 2-1 3 1 1 2z"/>
<path fill="#ac1045" d="M261 207l-4 0 0-2 0-2 2-1 3 1 0 2zM409 207l-4 0 0-2 0-2 2-1 3 1 0 2zM187 335l-4 0 0-2 0-2 2-1 2 1 1 2zM483 335l-4 0 0-2 0-2 2-1 2 1 1 2zM261 464l-2 0-2-1 0-2 1-2 3 0 1 2zM409 464l-2 0-2-1 0-2 1-2 3 0 1 2z"/>
<path fill="#a50944" d="M259 207l-2-2 2-2 2 2zM407 207l-2-2 2-2 2 2zM185 335l-2-2 2-2 2 2zM481 335l-2-2 2-2 2 2zM259 463l-2-2 2-2 2 2 0 1zM407 463l-2-2 2-2 2 2 0 1z"/></g>
</g></g>
<path d="M1721.9 1261.1A150.0 150.0 0 0 0 1644.1 1202.5M1594.3 1195.2A150.0 150.0 0 0 0 1526.1 1213.3M1466.5 1272.4A150.0 150.0 0 0 0 1503.3 1461.7M1559.4 1490.2A150.0 150.0 0 0 0 1629.7 1491.7M1692.7 1461.2A150.0 150.0 0 0 0 1746.8 1361.9" fill="none" stroke="#ffffff" stroke-width="6" stroke-dasharray="24.6 20.7"/>
<text transform="translate(1616.1 1199.0) rotate(4.5)" y="7.7" font-size="21.7" text-anchor="middle" font-family="'Liberation Sans',Arial,Helvetica,sans-serif" fill="#fff" stroke="#fff" stroke-width="0.25">0.45857</text>
<text transform="translate(1486.8 1246.9) rotate(-26.8)" y="7.7" font-size="21.7" text-anchor="middle" font-family="'Liberation Sans',Arial,Helvetica,sans-serif" fill="#fff" stroke="#fff" stroke-width="0.25">0.45857</text>
<text transform="translate(1735.0 1298.0) rotate(56)" y="7.7" font-size="21.7" text-anchor="middle" font-family="'Liberation Sans',Arial,Helvetica,sans-serif" fill="#fff" stroke="#fff" stroke-width="0.25">0.45857</text>
<text transform="translate(1536.0 1480.0) rotate(13.5)" y="7.7" font-size="21.7" text-anchor="middle" font-family="'Liberation Sans',Arial,Helvetica,sans-serif" fill="#fff" stroke="#fff" stroke-width="0.25">0.45857</text>
<text transform="translate(1666.7 1474.1) rotate(-15.2)" y="7.7" font-size="21.7" text-anchor="middle" font-family="'Liberation Sans',Arial,Helvetica,sans-serif" fill="#fff" stroke="#fff" stroke-width="0.25">0.45857</text>
<line x1="1264.6" y1="1012.1" x2="1264.6" y2="1678.2" stroke="#262626" stroke-width="0.8" opacity="0.75"/>
<text x="1367.67" y="1739.20" font-size="48" text-anchor="middle" font-family="'Liberation Sans',Arial,Helvetica,sans-serif" fill="#262626" stroke="#262626" stroke-width="0.6">-0.02</text>
<text x="1250.80" y="1593.38" font-size="48" text-anchor="end" font-family="'Liberation Sans',Arial,Helvetica,sans-serif" fill="#262626" stroke="#262626" stroke-width="0.6">-0.02</text>
<text x="1482.63" y="1739.20" font-size="48" text-anchor="middle" font-family="'Liberation Sans',Arial,Helvetica,sans-serif" fill="#262626" stroke="#262626" stroke-width="0.6">-0.01</text>
<text x="1250.80" y="1478.42" font-size="48" text-anchor="end" font-family="'Liberation Sans',Arial,Helvetica,sans-serif" fill="#262626" stroke="#262626" stroke-width="0.6">-0.01</text>
<text x="1597.60" y="1739.20" font-size="48" text-anchor="middle" font-family="'Liberation Sans',Arial,Helvetica,sans-serif" fill="#262626" stroke="#262626" stroke-width="0.6">0</text>
<text x="1250.80" y="1363.45" font-size="48" text-anchor="end" font-family="'Liberation Sans',Arial,Helvetica,sans-serif" fill="#262626" stroke="#262626" stroke-width="0.6">0</text>
<text x="1712.57" y="1739.20" font-size="48" text-anchor="middle" font-family="'Liberation Sans',Arial,Helvetica,sans-serif" fill="#262626" stroke="#262626" stroke-width="0.6">0.01</text>
<text x="1250.80" y="1248.48" font-size="48" text-anchor="end" font-family="'Liberation Sans',Arial,Helvetica,sans-serif" fill="#262626" stroke="#262626" stroke-width="0.6">0.01</text>
<text x="1827.53" y="1739.20" font-size="48" text-anchor="middle" font-family="'Liberation Sans',Arial,Helvetica,sans-serif" fill="#262626" stroke="#262626" stroke-width="0.6">0.02</text>
<text x="1250.80" y="1133.52" font-size="48" text-anchor="end" font-family="'Liberation Sans',Arial,Helvetica,sans-serif" fill="#262626" stroke="#262626" stroke-width="0.6">0.02</text>
<text x="1596.20" y="1803.70" font-size="52.7" text-anchor="middle" font-family="'Liberation Sans',Arial,Helvetica,sans-serif" fill="#262626" stroke="#262626" stroke-width="0.6">X [m]</text>
<text x="0.00" y="0.00" font-size="52.7" text-anchor="middle" font-family="'Liberation Sans',Arial,Helvetica,sans-serif" fill="#262626" stroke="#262626" stroke-width="0.6" transform="translate(1124.8 1347.2) rotate(-90)">Y [m]</text>
<rect x="1945.85" y="1012.50" width="30.30" height="665.30" fill="url(#cbg)" stroke="#262626" stroke-width="1.7"/>
<text x="1987.40" y="1695.20" font-size="44.5" text-anchor="start" font-family="'Liberation Sans',Arial,Helvetica,sans-serif" fill="#262626" stroke="#262626" stroke-width="0.6">0</text>
<line x1="1968.40" y1="1459.69" x2="1975.90" y2="1459.69" stroke="#262626" stroke-width="1.4"/>
<text x="1987.40" y="1477.29" font-size="44.5" text-anchor="start" font-family="'Liberation Sans',Arial,Helvetica,sans-serif" fill="#262626" stroke="#262626" stroke-width="0.6">5</text>
<line x1="1968.40" y1="1241.78" x2="1975.90" y2="1241.78" stroke="#262626" stroke-width="1.4"/>
<text x="1987.40" y="1259.38" font-size="44.5" text-anchor="start" font-family="'Liberation Sans',Arial,Helvetica,sans-serif" fill="#262626" stroke="#262626" stroke-width="0.6">10</text>
<line x1="1968.40" y1="1023.87" x2="1975.90" y2="1023.87" stroke="#262626" stroke-width="1.4"/>
<text x="1987.40" y="1041.47" font-size="44.5" text-anchor="start" font-family="'Liberation Sans',Arial,Helvetica,sans-serif" fill="#262626" stroke="#262626" stroke-width="0.6">15</text>
<text x="1978.50" y="996.60" font-size="44.5" font-family="'Liberation Sans',Arial,Helvetica,sans-serif" fill="#262626" stroke="#262626" stroke-width="0.6"><tspan font-size="50.5" dy="6.4" stroke-width="0">×</tspan><tspan dy="-6.4" dx="-0.6">10</tspan><tspan dy="-19.8" dx="-0.2" font-size="35.8">8</tspan></text>
<text x="0.00" y="0.00" font-size="41.2" text-anchor="middle" font-family="'Liberation Sans',Arial,Helvetica,sans-serif" fill="#0d0d0d" stroke="#0d0d0d" stroke-width="0.6" transform="translate(2057.1 1321.8) rotate(90)">Energy [eV]</text>
<text x="1181.50" y="960.70" font-size="64.8" text-anchor="start" font-family="'Liberation Serif','Times New Roman',Times,serif" fill="#000" font-weight="bold">(d)</text>
</svg>
</body></html>
